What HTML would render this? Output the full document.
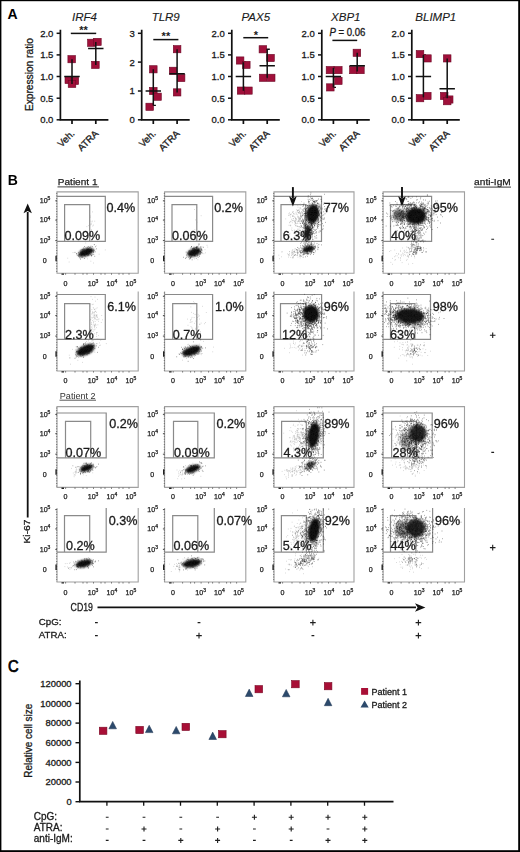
<!DOCTYPE html>
<html><head><meta charset="utf-8"><style>
html,body{margin:0;padding:0;background:#fff;}
body{width:520px;height:852px;overflow:hidden;}
svg{display:block;font-family:"Liberation Sans", sans-serif;}
</style></head><body>
<svg width="520" height="852" viewBox="0 0 520 852">
<rect width="520" height="852" fill="#fff"/>
<text x="7.6" y="18.8" font-size="14" font-weight="bold" fill="#000">A</text>
<text x="84.4" y="20.8" font-size="11.5" font-style="italic" text-anchor="middle" fill="#1a1a1a" stroke="#1a1a1a" stroke-width="0.12">IRF4</text>
<path d="M69.4 83.9h5.2M69.4 59.2h5.2" stroke="#111" stroke-width="1.4" fill="none"/>
<path d="M93.2 64.9h5.2M93.2 41.9h5.2" stroke="#111" stroke-width="1.4" fill="none"/>
<rect x="67.9" y="55.6" width="7.6" height="7.2" fill="#a0103a" stroke="#6d0725" stroke-width=".6"/>
<rect x="65.0" y="76.4" width="7.6" height="7.2" fill="#a0103a" stroke="#6d0725" stroke-width=".6"/>
<rect x="71.0" y="77.3" width="7.6" height="7.2" fill="#a0103a" stroke="#6d0725" stroke-width=".6"/>
<rect x="68.2" y="80.3" width="7.6" height="7.2" fill="#a0103a" stroke="#6d0725" stroke-width=".6"/>
<rect x="87.6" y="39.2" width="7.6" height="7.2" fill="#a0103a" stroke="#6d0725" stroke-width=".6"/>
<rect x="93.6" y="38.3" width="7.6" height="7.2" fill="#a0103a" stroke="#6d0725" stroke-width=".6"/>
<rect x="91.6" y="61.3" width="7.6" height="7.2" fill="#a0103a" stroke="#6d0725" stroke-width=".6"/>
<path d="M72.0 83.9V59.2M64.3 76.5h15.4" stroke="#111" stroke-width="1.5" fill="none"/>
<path d="M95.8 64.9V41.9M88.1 48.4h15.4" stroke="#111" stroke-width="1.5" fill="none"/>
<path d="M60.4 29.7V119.8H108.4M72.0 119.8v4.2M95.8 119.8v4.2" stroke="#111" stroke-width="1.7" fill="none"/>
<path d="M56.6 119.8h3.8" stroke="#111" stroke-width="1.5"/>
<text x="53.4" y="123.2" font-size="9.5" text-anchor="end" fill="#1a1a1a" stroke="#1a1a1a" stroke-width="0.3">0.0</text>
<path d="M56.6 98.2h3.8" stroke="#111" stroke-width="1.5"/>
<text x="53.4" y="101.6" font-size="9.5" text-anchor="end" fill="#1a1a1a" stroke="#1a1a1a" stroke-width="0.3">0.5</text>
<path d="M56.6 76.5h3.8" stroke="#111" stroke-width="1.5"/>
<text x="53.4" y="80.0" font-size="9.5" text-anchor="end" fill="#1a1a1a" stroke="#1a1a1a" stroke-width="0.3">1.0</text>
<path d="M56.6 54.9h3.8" stroke="#111" stroke-width="1.5"/>
<text x="53.4" y="58.3" font-size="9.5" text-anchor="end" fill="#1a1a1a" stroke="#1a1a1a" stroke-width="0.3">1.5</text>
<path d="M56.6 33.3h3.8" stroke="#111" stroke-width="1.5"/>
<text x="53.4" y="36.7" font-size="9.5" text-anchor="end" fill="#1a1a1a" stroke="#1a1a1a" stroke-width="0.3">2.0</text>
<text transform="translate(75.2 134.2) rotate(-45)" font-size="9.6" text-anchor="end" fill="#1a1a1a" stroke="#1a1a1a" stroke-width="0.3">Veh.</text>
<text transform="translate(99.0 134.2) rotate(-45)" font-size="9.6" text-anchor="end" fill="#1a1a1a" stroke="#1a1a1a" stroke-width="0.3">ATRA</text>
<path d="M70.8 33.4H96.2" stroke="#111" stroke-width="1.5"/>
<text x="83.5" y="34.2" font-size="11" font-weight="bold" text-anchor="middle" fill="#1a1a1a">**</text>
<text x="165.7" y="20.8" font-size="11.5" font-style="italic" text-anchor="middle" fill="#1a1a1a" stroke="#1a1a1a" stroke-width="0.12">TLR9</text>
<path d="M150.7 105.4h5.2M150.7 69.3h5.2" stroke="#111" stroke-width="1.4" fill="none"/>
<path d="M174.5 92.4h5.2M174.5 49.2h5.2" stroke="#111" stroke-width="1.4" fill="none"/>
<rect x="149.5" y="65.7" width="7.6" height="7.2" fill="#a0103a" stroke="#6d0725" stroke-width=".6"/>
<rect x="149.5" y="87.4" width="7.6" height="7.2" fill="#a0103a" stroke="#6d0725" stroke-width=".6"/>
<rect x="153.7" y="93.1" width="7.6" height="7.2" fill="#a0103a" stroke="#6d0725" stroke-width=".6"/>
<rect x="145.9" y="103.2" width="7.6" height="7.2" fill="#a0103a" stroke="#6d0725" stroke-width=".6"/>
<rect x="173.3" y="45.6" width="7.6" height="7.2" fill="#a0103a" stroke="#6d0725" stroke-width=".6"/>
<rect x="169.3" y="67.2" width="7.6" height="7.2" fill="#a0103a" stroke="#6d0725" stroke-width=".6"/>
<rect x="177.3" y="74.4" width="7.6" height="7.2" fill="#a0103a" stroke="#6d0725" stroke-width=".6"/>
<rect x="173.3" y="88.8" width="7.6" height="7.2" fill="#a0103a" stroke="#6d0725" stroke-width=".6"/>
<path d="M153.3 105.4V69.3M145.6 91.0h15.4" stroke="#111" stroke-width="1.5" fill="none"/>
<path d="M177.1 92.4V49.2M169.4 73.7h15.4" stroke="#111" stroke-width="1.5" fill="none"/>
<path d="M141.7 29.7V119.8H189.7M153.3 119.8v4.2M177.1 119.8v4.2" stroke="#111" stroke-width="1.7" fill="none"/>
<path d="M137.9 119.8h3.8" stroke="#111" stroke-width="1.5"/>
<text x="134.7" y="123.2" font-size="9.5" text-anchor="end" fill="#1a1a1a" stroke="#1a1a1a" stroke-width="0.3">0</text>
<path d="M137.9 91.0h3.8" stroke="#111" stroke-width="1.5"/>
<text x="134.7" y="94.4" font-size="9.5" text-anchor="end" fill="#1a1a1a" stroke="#1a1a1a" stroke-width="0.3">1</text>
<path d="M137.9 62.1h3.8" stroke="#111" stroke-width="1.5"/>
<text x="134.7" y="65.5" font-size="9.5" text-anchor="end" fill="#1a1a1a" stroke="#1a1a1a" stroke-width="0.3">2</text>
<path d="M137.9 33.3h3.8" stroke="#111" stroke-width="1.5"/>
<text x="134.7" y="36.7" font-size="9.5" text-anchor="end" fill="#1a1a1a" stroke="#1a1a1a" stroke-width="0.3">3</text>
<text transform="translate(156.5 134.2) rotate(-45)" font-size="9.6" text-anchor="end" fill="#1a1a1a" stroke="#1a1a1a" stroke-width="0.3">Veh.</text>
<text transform="translate(180.3 134.2) rotate(-45)" font-size="9.6" text-anchor="end" fill="#1a1a1a" stroke="#1a1a1a" stroke-width="0.3">ATRA</text>
<path d="M153.3 39.6H178.4" stroke="#111" stroke-width="1.5"/>
<text x="165.9" y="40.4" font-size="11" font-weight="bold" text-anchor="middle" fill="#1a1a1a">**</text>
<text x="255.8" y="20.8" font-size="11.5" font-style="italic" text-anchor="middle" fill="#1a1a1a" stroke="#1a1a1a" stroke-width="0.12">PAX5</text>
<path d="M240.8 90.8h5.2M240.8 62.3h5.2" stroke="#111" stroke-width="1.4" fill="none"/>
<path d="M264.6 77.8h5.2M264.6 49.3h5.2" stroke="#111" stroke-width="1.4" fill="none"/>
<rect x="236.3" y="56.9" width="7.6" height="7.2" fill="#a0103a" stroke="#6d0725" stroke-width=".6"/>
<rect x="242.5" y="61.3" width="7.6" height="7.2" fill="#a0103a" stroke="#6d0725" stroke-width=".6"/>
<rect x="237.3" y="87.0" width="7.6" height="7.2" fill="#a0103a" stroke="#6d0725" stroke-width=".6"/>
<rect x="244.6" y="87.0" width="7.6" height="7.2" fill="#a0103a" stroke="#6d0725" stroke-width=".6"/>
<rect x="259.1" y="45.7" width="7.6" height="7.2" fill="#a0103a" stroke="#6d0725" stroke-width=".6"/>
<rect x="266.7" y="54.4" width="7.6" height="7.2" fill="#a0103a" stroke="#6d0725" stroke-width=".6"/>
<rect x="259.4" y="74.2" width="7.6" height="7.2" fill="#a0103a" stroke="#6d0725" stroke-width=".6"/>
<rect x="267.4" y="74.2" width="7.6" height="7.2" fill="#a0103a" stroke="#6d0725" stroke-width=".6"/>
<path d="M243.4 90.8V62.3M235.7 76.5h15.4" stroke="#111" stroke-width="1.5" fill="none"/>
<path d="M267.2 77.8V49.3M259.5 65.7h15.4" stroke="#111" stroke-width="1.5" fill="none"/>
<path d="M231.8 29.7V119.8H279.8M243.4 119.8v4.2M267.2 119.8v4.2" stroke="#111" stroke-width="1.7" fill="none"/>
<path d="M228.0 119.8h3.8" stroke="#111" stroke-width="1.5"/>
<text x="224.8" y="123.2" font-size="9.5" text-anchor="end" fill="#1a1a1a" stroke="#1a1a1a" stroke-width="0.3">0.0</text>
<path d="M228.0 98.2h3.8" stroke="#111" stroke-width="1.5"/>
<text x="224.8" y="101.6" font-size="9.5" text-anchor="end" fill="#1a1a1a" stroke="#1a1a1a" stroke-width="0.3">0.5</text>
<path d="M228.0 76.5h3.8" stroke="#111" stroke-width="1.5"/>
<text x="224.8" y="80.0" font-size="9.5" text-anchor="end" fill="#1a1a1a" stroke="#1a1a1a" stroke-width="0.3">1.0</text>
<path d="M228.0 54.9h3.8" stroke="#111" stroke-width="1.5"/>
<text x="224.8" y="58.3" font-size="9.5" text-anchor="end" fill="#1a1a1a" stroke="#1a1a1a" stroke-width="0.3">1.5</text>
<path d="M228.0 33.3h3.8" stroke="#111" stroke-width="1.5"/>
<text x="224.8" y="36.7" font-size="9.5" text-anchor="end" fill="#1a1a1a" stroke="#1a1a1a" stroke-width="0.3">2.0</text>
<text transform="translate(246.6 134.2) rotate(-45)" font-size="9.6" text-anchor="end" fill="#1a1a1a" stroke="#1a1a1a" stroke-width="0.3">Veh.</text>
<text transform="translate(270.4 134.2) rotate(-45)" font-size="9.6" text-anchor="end" fill="#1a1a1a" stroke="#1a1a1a" stroke-width="0.3">ATRA</text>
<path d="M243.3 37.7H268.2" stroke="#111" stroke-width="1.5"/>
<text x="255.8" y="38.5" font-size="11" font-weight="bold" text-anchor="middle" fill="#1a1a1a">*</text>
<text x="345.8" y="20.8" font-size="11.5" font-style="italic" text-anchor="middle" fill="#1a1a1a" stroke="#1a1a1a" stroke-width="0.12">XBP1</text>
<path d="M330.8 87.4h5.2M330.8 67.9h5.2" stroke="#111" stroke-width="1.4" fill="none"/>
<path d="M354.6 71.4h5.2M354.6 52.8h5.2" stroke="#111" stroke-width="1.4" fill="none"/>
<rect x="326.2" y="66.5" width="7.6" height="7.2" fill="#a0103a" stroke="#6d0725" stroke-width=".6"/>
<rect x="334.5" y="66.5" width="7.6" height="7.2" fill="#a0103a" stroke="#6d0725" stroke-width=".6"/>
<rect x="334.5" y="77.3" width="7.6" height="7.2" fill="#a0103a" stroke="#6d0725" stroke-width=".6"/>
<rect x="326.5" y="83.8" width="7.6" height="7.2" fill="#a0103a" stroke="#6d0725" stroke-width=".6"/>
<rect x="353.1" y="49.2" width="7.6" height="7.2" fill="#a0103a" stroke="#6d0725" stroke-width=".6"/>
<rect x="349.6" y="66.5" width="7.6" height="7.2" fill="#a0103a" stroke="#6d0725" stroke-width=".6"/>
<rect x="356.6" y="66.5" width="7.6" height="7.2" fill="#a0103a" stroke="#6d0725" stroke-width=".6"/>
<path d="M333.4 87.4V67.9M325.7 76.5h15.4" stroke="#111" stroke-width="1.5" fill="none"/>
<path d="M357.2 71.4V52.8M349.5 65.7h15.4" stroke="#111" stroke-width="1.5" fill="none"/>
<path d="M321.8 29.7V119.8H369.8M333.4 119.8v4.2M357.2 119.8v4.2" stroke="#111" stroke-width="1.7" fill="none"/>
<path d="M318.0 119.8h3.8" stroke="#111" stroke-width="1.5"/>
<text x="314.8" y="123.2" font-size="9.5" text-anchor="end" fill="#1a1a1a" stroke="#1a1a1a" stroke-width="0.3">0.0</text>
<path d="M318.0 98.2h3.8" stroke="#111" stroke-width="1.5"/>
<text x="314.8" y="101.6" font-size="9.5" text-anchor="end" fill="#1a1a1a" stroke="#1a1a1a" stroke-width="0.3">0.5</text>
<path d="M318.0 76.5h3.8" stroke="#111" stroke-width="1.5"/>
<text x="314.8" y="80.0" font-size="9.5" text-anchor="end" fill="#1a1a1a" stroke="#1a1a1a" stroke-width="0.3">1.0</text>
<path d="M318.0 54.9h3.8" stroke="#111" stroke-width="1.5"/>
<text x="314.8" y="58.3" font-size="9.5" text-anchor="end" fill="#1a1a1a" stroke="#1a1a1a" stroke-width="0.3">1.5</text>
<path d="M318.0 33.3h3.8" stroke="#111" stroke-width="1.5"/>
<text x="314.8" y="36.7" font-size="9.5" text-anchor="end" fill="#1a1a1a" stroke="#1a1a1a" stroke-width="0.3">2.0</text>
<text transform="translate(336.6 134.2) rotate(-45)" font-size="9.6" text-anchor="end" fill="#1a1a1a" stroke="#1a1a1a" stroke-width="0.3">Veh.</text>
<text transform="translate(360.4 134.2) rotate(-45)" font-size="9.6" text-anchor="end" fill="#1a1a1a" stroke="#1a1a1a" stroke-width="0.3">ATRA</text>
<path d="M332.4 40.4H357.2" stroke="#111" stroke-width="1.5"/>
<text x="347.4" y="35.8" font-size="10" text-anchor="middle" fill="#1a1a1a" stroke="#1a1a1a" stroke-width="0.3" textLength="36" lengthAdjust="spacingAndGlyphs"><tspan font-style="italic">P</tspan> = 0.06</text>
<text x="435.8" y="20.8" font-size="11.5" font-style="italic" text-anchor="middle" fill="#1a1a1a" stroke="#1a1a1a" stroke-width="0.12">BLIMP1</text>
<path d="M420.8 97.3h5.2M420.8 54.9h5.2" stroke="#111" stroke-width="1.4" fill="none"/>
<path d="M444.6 98.2h5.2M444.6 58.4h5.2" stroke="#111" stroke-width="1.4" fill="none"/>
<rect x="416.2" y="50.5" width="7.6" height="7.2" fill="#a0103a" stroke="#6d0725" stroke-width=".6"/>
<rect x="423.6" y="54.8" width="7.6" height="7.2" fill="#a0103a" stroke="#6d0725" stroke-width=".6"/>
<rect x="416.2" y="94.6" width="7.6" height="7.2" fill="#a0103a" stroke="#6d0725" stroke-width=".6"/>
<rect x="423.5" y="92.4" width="7.6" height="7.2" fill="#a0103a" stroke="#6d0725" stroke-width=".6"/>
<rect x="443.4" y="54.8" width="7.6" height="7.2" fill="#a0103a" stroke="#6d0725" stroke-width=".6"/>
<rect x="440.4" y="92.4" width="7.6" height="7.2" fill="#a0103a" stroke="#6d0725" stroke-width=".6"/>
<rect x="445.4" y="95.9" width="7.6" height="7.2" fill="#a0103a" stroke="#6d0725" stroke-width=".6"/>
<rect x="443.4" y="97.6" width="7.6" height="7.2" fill="#a0103a" stroke="#6d0725" stroke-width=".6"/>
<path d="M423.4 97.3V54.9M415.7 76.5h15.4" stroke="#111" stroke-width="1.5" fill="none"/>
<path d="M447.2 98.2V58.4M439.5 88.7h15.4" stroke="#111" stroke-width="1.5" fill="none"/>
<path d="M411.8 29.7V119.8H459.8M423.4 119.8v4.2M447.2 119.8v4.2" stroke="#111" stroke-width="1.7" fill="none"/>
<path d="M408.0 119.8h3.8" stroke="#111" stroke-width="1.5"/>
<text x="404.8" y="123.2" font-size="9.5" text-anchor="end" fill="#1a1a1a" stroke="#1a1a1a" stroke-width="0.3">0.0</text>
<path d="M408.0 98.2h3.8" stroke="#111" stroke-width="1.5"/>
<text x="404.8" y="101.6" font-size="9.5" text-anchor="end" fill="#1a1a1a" stroke="#1a1a1a" stroke-width="0.3">0.5</text>
<path d="M408.0 76.5h3.8" stroke="#111" stroke-width="1.5"/>
<text x="404.8" y="80.0" font-size="9.5" text-anchor="end" fill="#1a1a1a" stroke="#1a1a1a" stroke-width="0.3">1.0</text>
<path d="M408.0 54.9h3.8" stroke="#111" stroke-width="1.5"/>
<text x="404.8" y="58.3" font-size="9.5" text-anchor="end" fill="#1a1a1a" stroke="#1a1a1a" stroke-width="0.3">1.5</text>
<path d="M408.0 33.3h3.8" stroke="#111" stroke-width="1.5"/>
<text x="404.8" y="36.7" font-size="9.5" text-anchor="end" fill="#1a1a1a" stroke="#1a1a1a" stroke-width="0.3">2.0</text>
<text transform="translate(426.6 134.2) rotate(-45)" font-size="9.6" text-anchor="end" fill="#1a1a1a" stroke="#1a1a1a" stroke-width="0.3">Veh.</text>
<text transform="translate(450.4 134.2) rotate(-45)" font-size="9.6" text-anchor="end" fill="#1a1a1a" stroke="#1a1a1a" stroke-width="0.3">ATRA</text>
<text transform="translate(32.6 74.6) rotate(-90)" font-size="10" text-anchor="middle" textLength="73" lengthAdjust="spacingAndGlyphs" fill="#1a1a1a" stroke="#1a1a1a" stroke-width="0.3">Expression ratio</text>
<defs><filter id="bl" x="-5%" y="-5%" width="110%" height="110%"><feGaussianBlur stdDeviation="0.35"/></filter><filter id="bc" x="-50%" y="-50%" width="200%" height="200%"><feGaussianBlur stdDeviation="0.8"/></filter></defs>
<path d="M57.0 273.2V191.9H138.2V273.2H57.0Z" stroke="#a0a0a0" stroke-width="1.1" fill="none"/>
<path d="M57.0 196.4H105.3V241.4H57.0" stroke="#8a8a8a" stroke-width="1.2" fill="none"/>
<path d="M64.6 241.4V204.7H89.7V241.4" stroke="#8a8a8a" stroke-width="1.2" fill="none"/>
<path d="M164.6 273.2V191.9H245.8V273.2H164.6Z" stroke="#a0a0a0" stroke-width="1.1" fill="none"/>
<path d="M164.6 196.4H212.6V241.4H164.6" stroke="#8a8a8a" stroke-width="1.2" fill="none"/>
<path d="M172.0 241.4V204.7H196.8V241.4" stroke="#8a8a8a" stroke-width="1.2" fill="none"/>
<path d="M274.0 273.2V191.9H354.0V273.2H274.0Z" stroke="#a0a0a0" stroke-width="1.1" fill="none"/>
<path d="M274.0 196.4H321.5V241.4H274.0" stroke="#8a8a8a" stroke-width="1.2" fill="none"/>
<path d="M281.0 241.4V204.7H305.7V241.4" stroke="#8a8a8a" stroke-width="1.2" fill="none"/>
<path d="M383.1 273.2V191.9H464.5V273.2H383.1Z" stroke="#a0a0a0" stroke-width="1.1" fill="none"/>
<path d="M383.1 196.4H431.6V241.4H383.1" stroke="#8a8a8a" stroke-width="1.2" fill="none"/>
<path d="M390.5 241.4V204.7H414.7V241.4" stroke="#8a8a8a" stroke-width="1.2" fill="none"/>
<path d="M57.0 291.5V371.0H138.2V291.5" stroke="#a0a0a0" stroke-width="1.1" fill="none"/>
<path d="M57.0 294.5H105.3V339.4H57.0" stroke="#8a8a8a" stroke-width="1.2" fill="none"/>
<path d="M64.6 339.4V303.6H89.8V339.4" stroke="#8a8a8a" stroke-width="1.2" fill="none"/>
<path d="M164.6 291.5V371.0H245.8V291.5" stroke="#a0a0a0" stroke-width="1.1" fill="none"/>
<path d="M164.6 294.5H212.6V339.4H164.6" stroke="#8a8a8a" stroke-width="1.2" fill="none"/>
<path d="M172.7 339.4V303.6H196.8V339.4" stroke="#8a8a8a" stroke-width="1.2" fill="none"/>
<path d="M274.0 291.5V371.0H354.0V291.5" stroke="#a0a0a0" stroke-width="1.1" fill="none"/>
<path d="M274.0 294.5H321.6V339.4H274.0" stroke="#8a8a8a" stroke-width="1.2" fill="none"/>
<path d="M280.5 339.4V303.6H305.7V339.4" stroke="#8a8a8a" stroke-width="1.2" fill="none"/>
<path d="M383.1 291.5V371.0H464.5V291.5" stroke="#a0a0a0" stroke-width="1.1" fill="none"/>
<path d="M383.1 294.5H430.5V339.4H383.1" stroke="#8a8a8a" stroke-width="1.2" fill="none"/>
<path d="M390.5 339.4V303.6H414.9V339.4" stroke="#8a8a8a" stroke-width="1.2" fill="none"/>
<path d="M57.0 487.4V406.6H138.2V487.4H57.0Z" stroke="#a0a0a0" stroke-width="1.1" fill="none"/>
<path d="M57.0 413.0H106.2V457.8H57.0" stroke="#8a8a8a" stroke-width="1.2" fill="none"/>
<path d="M65.5 457.8V421.4H90.7V457.8" stroke="#8a8a8a" stroke-width="1.2" fill="none"/>
<path d="M164.6 487.4V406.6H245.8V487.4H164.6Z" stroke="#a0a0a0" stroke-width="1.1" fill="none"/>
<path d="M164.6 413.0H214.3V457.8H164.6" stroke="#8a8a8a" stroke-width="1.2" fill="none"/>
<path d="M173.5 457.8V421.4H197.8V457.8" stroke="#8a8a8a" stroke-width="1.2" fill="none"/>
<path d="M274.0 487.4V406.6H354.0V487.4H274.0Z" stroke="#a0a0a0" stroke-width="1.1" fill="none"/>
<path d="M274.0 413.0H323.3V457.8H274.0" stroke="#8a8a8a" stroke-width="1.2" fill="none"/>
<path d="M281.6 457.8V421.4H306.3V457.8" stroke="#8a8a8a" stroke-width="1.2" fill="none"/>
<path d="M383.1 487.4V406.6H464.5V487.4H383.1Z" stroke="#a0a0a0" stroke-width="1.1" fill="none"/>
<path d="M383.1 413.0H432.2V457.8H383.1" stroke="#8a8a8a" stroke-width="1.2" fill="none"/>
<path d="M391.6 457.8V421.4H416.3V457.8" stroke="#8a8a8a" stroke-width="1.2" fill="none"/>
<path d="M57.0 508.0V582.0H138.2V508.0" stroke="#a0a0a0" stroke-width="1.1" fill="none"/>
<path d="M106.2 508.0V552.1H57.0" stroke="#8a8a8a" stroke-width="1.2" fill="none"/>
<path d="M64.5 552.1V515.6H89.7V552.1" stroke="#8a8a8a" stroke-width="1.2" fill="none"/>
<path d="M164.6 508.0V582.0H245.8V508.0" stroke="#a0a0a0" stroke-width="1.1" fill="none"/>
<path d="M214.3 508.0V552.1H164.6" stroke="#8a8a8a" stroke-width="1.2" fill="none"/>
<path d="M172.7 552.1V515.6H197.8V552.1" stroke="#8a8a8a" stroke-width="1.2" fill="none"/>
<path d="M274.0 508.0V582.0H354.0V508.0" stroke="#a0a0a0" stroke-width="1.1" fill="none"/>
<path d="M323.3 508.0V552.1H274.0" stroke="#8a8a8a" stroke-width="1.2" fill="none"/>
<path d="M281.4 552.1V515.6H306.3V552.1" stroke="#8a8a8a" stroke-width="1.2" fill="none"/>
<path d="M383.1 508.0V582.0H464.5V508.0" stroke="#a0a0a0" stroke-width="1.1" fill="none"/>
<path d="M432.6 508.0V552.1H383.1" stroke="#8a8a8a" stroke-width="1.2" fill="none"/>
<path d="M390.5 552.1V515.6H415.9V552.1" stroke="#8a8a8a" stroke-width="1.2" fill="none"/>
<g filter="url(#bl)"><path transform="scale(.1)" d="M0 0m856 2479h6m68 151h6m-156-68h6m56-28h6m-121-8h6m157-18h6m63-50h6m-59 154h6m-113-103h6m52 10h6m54-15h6m-110 41h6m230-46h6m-380 83h6m129-21h6m56 27h6m54-61h6m-66-13h6m20 40h6m-13-58h6m49 0h6m-107 0h6m-36 17h6m-133 107h6m201-121h6m33 10h6m-85-79h6m-10 113h6m131-1h6m-54-94h6m-80-182h6m39 31h6m-10-59h6m-33 18h6m15-8h6m12-37h6m-9 8h6m3 41h6m-32-87h6m40 39h6m-21 39h6m-37-91h6m7 81h6m4-122h6m-30 93h6m1143 284h6m-99 32h6m-14 21h6m41-62h6m-23 110h6m-16-93h6m103-33h6m-205 97h6m-7-43h6m79-17h6m-83 12h6m26 53h6m-35-55h6m175-65h6m-19 75h6m-147-51h6m59 54h6m21-32h6m25 38h6m-154 55h6m51-95h6m-9 92h6m35-151h6m-45 75h6m-28-6h6m-73 76h6m13-53h6m12-20h6m95 5h6m-115-10h6m56-208h6m12-58h6m-20-40h6m10-126h6m36 84h6m-71 170h6m18-104h6m-30-128h6m17 221h6m-39 13h6m995-195h6m2 83h6m39-44h6m19-51h6m-48 27h6m-54 157h6m29-183h6m13 1h6m22 151h6m16-156h6m-66 238h6m-9-48h6m83-216h6m-22 175h6m-23 76h6m-28-132h6m2-34h6m-12-137h6m57 122h6m-67 69h6m-28-17h6m-8-143h6m-37 232h6m-31-184h6m155 185h6m-34-100h6m-73 63h6m9-69h6m-109-53h6m-9 188h6m51-144h6m29 16h6m6-52h6m-111 193h6m35-182h6m-10-6h6m35 106h6m-60-38h6m13 74h6m-35-90h6m93-119h6m-37 123h6m-52-30h6m85 37h6m-78-37h6m38 120h6m12-44h6m32-184h6m-158-59h6m109-2h6m-50 246h6m-75-114h6m51 112h6m-69-33h6m106-15h6m-34 89h6m-2-102h6m-34 54h6m-4 0h6m13 38h6m-50-85h6m51 28h6m33-2h6m-17 126h6m-9-243h6m-120 139h6m46-30h6m5 81h6m62-195h6m-52 66h6m-85 76h6m52-16h6m125 71h6m-75-139h6m-120 132h6m38-96h6m-10 4h6m134-33h6m-141 41h6m22-112h6m-109 49h6m72-16h6m-45-13h6m24 65h6m-68-34h6m93 33h6m-92-18h6m61 90h6m-87-7h6m53-39h6m51-86h6m-81 61h6m71-35h6m-113-12h6m83 148h6m-50-119h6m10 15h6m-44-25h6m52 44h6m-16-89h6m-35 24h6m74 172h6m-41 12h6m-38-150h6m-56 41h6m36-11h6m41-26h6m-86 15h6m47 6h6m31-19h6m-53 155h6m61-145h6m-106-28h6m59 103h6m95-86h6m-118-9h6m-9-2h6m-63 112h6m54 21h6m-37-81h6m51-169h6m-103 208h6m64-204h6m-47 62h6m6 206h6m-10 38h6m10-218h6m84 133h6m-15 79h6m-22-57h6m-143-161h6m101 81h6m8-53h6m14 197h6m-32-93h6m-10 8h6m-20-113h6m-7 48h6m-91 10h6m71-2h6m-35 22h6m52-94h6m-21 117h6m15-134h6m-93 74h6m-8 195h6m5-261h6m66 25h6m-154 25h6m61-30h6m-38-31h6m65 65h6m-53-52h6m6 67h6m29-110h6m33 43h6m-19-17h6m-11 62h6m-18 49h6m13-26h6m-24 293h6m33 1h6m47 47h6m-132-1h6m3-43h6m51 23h6m-15 18h6m27-6h6m-99-8h6m23-10h6m-35 55h6m36-7h6m-88-34h6m12-12h6m4 5h6m-6 48h6m48-73h6m-71 49h6m52-45h6m13-24h6m-74 92h6m-140-25h6m205-36h6m-113 0h6m-84 3h6m123-4h6m-8 11h6m4-39h6m-35 38h6m-8-13h6m-110 56h6m178 11h6m-14-17h6m-23-47h6m-15-19h6m-16 29h6m-77 46h6m118-41h6m-18 32h6m-75-64h6m-45 59h6m54-66h6m65 31h6m16 19h6m-131-4h6m-27-20h6m25 28h6m86-51h6m-41 30h6m-55 36h6m-13 8h6m-14-57h6m56-24h6m-115 51h6m64-14h6m-127-6h6m148 20h6m-96 9h6m68 6h6m-59 21h6m19-5h6m56-73h6m-73 45h6m65-55h6m-86 65h6m44-51h6m-81 50h6m-14-3h6m107-26h6m-212 66h6m220-34h6m-37-73h6m36 44h6m-36-7h6m-76 10h6m104-6h6m-118-20h6m39 25h6m-20 27h6m23-30h6m1116-38h6m-3 77h6m-47 3h6m86-21h6m-71 0h6m-160 23h6m197 12h6m-69-3h6m-49-73h6m50 41h6m-137-9h6m79-16h6m21-46h6m31 19h6m-59-22h6m68 49h6m68-107h6m-308 212h6m191-179h6m1 114h6m57-57h6m-285 13h6m336-24h6m-111 7h6m-108 41h6m-67 19h6m-22 1h6m189-52h6m-135 119h6m140-125h6m-248 142h6m228-166h6m0-12h6m-145 66h6m37-2h6m97-46h6m-84 45h6m-35-27h6m0 93h6m32-124h6m-108 45h6m-28 23h6m-34 58h6m171-78h6m-123 43h6m-18 42h6m206-236h6m-134 163h6m-27-6h6m-148 60h6m87-37h6m19-24h6m183-101h6m-235 82h6m53 100h6m-29-94h6m-97 92h6m48-16h6m-21-44h6m33-62h6m108-20h6m-74 92h6m182-67h6m-148 10h6m-83 49h6m83-74h6m-9 165h6m-186-135h6m55 51h6m188-44h6m-67-29h6m-92 74h6m-75 25h6m42-20h6m-132-51h6m257-6h6m-94 141h6m59-115h6m-149 49h6m62-51h6m-3208 948h6m23 30h6m-140 59h6m112-88h6m56-12h6m-139 105h6m159-179h6m-117 151h6m52-20h6m-2-140h6m-53 30h6m-128 84h6m98-77h6m-34 20h6m165-32h6m-180 50h6m-5 122h6m14-131h6m-48 69h6m178-84h6m-91 97h6m144-90h6m-316 64h6m245-48h6m-317 100h6m115-49h6m103 0h6m2-130h6m-59 108h6m-96 93h6m-70-80h6m267-39h6m-53 67h6m-176 82h6m91-86h6m54-23h6m-116 19h6m59 23h6m-192 105h6m113-18h6m120-228h6m-24-2h6m11-132h6m-5-291h6m-55 87h6m33 140h6m13 58h6m4-106h6m-28 20h6m-44-127h6m21 84h6m-17-4h6m-21 379h6m23-415h6m-12 134h6m-38 104h6m7-54h6m6-135h6m86 19h6m-125 9h6m7 161h6m30-229h6m27 96h6m-83 133h6m43-212h6m-51 86h6m6 71h6m18-175h6m-41 95h6m55-40h6m-24 0h6m-10 7h6m-7-33h6m-35 286h6m36-323h6m0 110h6m-1-119h6m-43 92h6m-21-74h6m61 117h6m-64-167h6m31 282h6m-39-253h6m13 140h6m-57 211h6m49-312h6m-45 181h6m45-19h6m-23-97h6m34 11h6m-53 67h6m-18 41h6m40-304h6m-50 353h6m35-174h6m-25 67h6m-19-83h6m16 185h6m9-94h6m-43 88h6m75-138h6m-93 203h6m-32-435h6m48 398h6m2-39h6m-11-172h6m-8-30h6m-72 78h6m1-90h6m10 69h6m14-61h6m-25 87h6m13 64h6m10-25h6m-14 45h6m-18-50h6m-29 5h6m42-90h6m3 15h6m-12 222h6m-28-210h6m0 0h6m-41 145h6m-31-14h6m23 3h6m1 91h6m-6-413h6m80 231h6m-83-5h6m-11 31h6m-17 191h6m-4-155h6m45-89h6m-18-32h6m-53-26h6m47 187h6m-57-3h6m-6-85h6m35-227h6m-8 178h6m-60 99h6m39-33h6m-20-105h6m-33 45h6m1-22h6m31 125h6m-6-52h6m-23 67h6m30-146h6m-46-49h6m-3 55h6m51 182h6m-90-59h6m22-255h6m7 107h6m-5 122h6m-30 98h6m14-231h6m-51 305h6m15-219h6m910 249h6m107 94h6m60-20h6m-126-23h6m-36 35h6m26-76h6m-1 63h6m105-29h6m117-46h6m-276 114h6m-33-94h6m135-27h6m-65 25h6m-41-46h6m132 92h6m-102 36h6m87-36h6m9-121h6m-45 66h6m-13-3h6m135 41h6m-200 12h6m11-15h6m35-74h6m-173 161h6m120-121h6m-109-12h6m24-22h6m60 72h6m-64 55h6m103-331h6m-81-69h6m-17-105h6m42 214h6m-83-30h6m57-20h6m42 64h6m-76-14h6m7-266h6m116 208h6m-124 105h6m33-154h6m-18 72h6m-27-218h6m11 115h6m-66 80h6m155-100h6m-99-23h6m-102 89h6m121 52h6m-38 76h6m4-146h6m-79 23h6m60-2h6m-36-19h6m-34-51h6m-6 240h6m88-32h6m-54-121h6m29-21h6m11 41h6m-24-73h6m46 79h6m-64-76h6m-74 116h6m-54 44h6m47-23h6m-9-81h6m31 77h6m-54-29h6m52 18h6m-63-62h6m-1-31h6m85 126h6m-106-108h6m37-64h6m-22-10h6m41 10h6m37-81h6m-48 206h6m998 233h6m8-20h6m-109 45h6m109-68h6m-81-48h6m80-96h6m44 101h6m-130 31h6m156 7h6m-55-59h6m-108 86h6m-39-141h6m21 90h6m22 44h6m46-47h6m-11 13h6m-32-33h6m27 25h6m28-43h6m-12 10h6m-47 2h6m-87 73h6m-49 9h6m219-8h6m-226-3h6m82-19h6m-1 37h6m98-30h6m-23-32h6m53-18h6m-215 23h6m109 55h6m-149-30h6m113 93h6m-48-158h6m-88 48h6m125 17h6m-41-41h6m-4 33h6m149-5h6m-224-14h6m45-68h6m5 92h6m5-47h6m-31 51h6m60 1h6m-135 16h6m167-37h6m-256 44h6m215-33h6m1036 87h6m28-53h6m-94-61h6m7 137h6m16-88h6m29 170h6m-59-192h6m-96-55h6m146 122h6m-80 3h6m81-60h6m-29 84h6m-133-52h6m107-86h6m164 149h6m-43-130h6m-148 136h6m-37 47h6m-50-109h6m46-84h6m4 85h6m-67-25h6m141 70h6m-41-8h6m55-45h6m-152 14h6m57-39h6m0 50h6m54-65h6m7 39h6m-197 66h6m133-50h6m-126 38h6m1-100h6m63 105h6m2-44h6m-74 42h6m33-16h6m224-20h6m-284-86h6m-2 22h6m84 121h6m-25-84h6m38-28h6m-68 90h6m99-66h6m-121-6h6m42 104h6m-22-139h6m67 117h6m0-13h6m-116-97h6m61 39h6m-38 82h6m-145-156h6m19 52h6m91 52h6m-57 43h6m31-21h6m134 20h6m-146-61h6m52 46h6m-126-100h6m36 113h6m51-61h6m-124-66h6m123 15h6m37 11h6m-63 83h6m22-39h6m109-3h6m-130-13h6m37 80h6m7-48h6m-24-67h6m-102 87h6m-138-117h6m204 92h6m-76-21h6m121 35h6m-140-100h6m29 17h6m-29 20h6m100 2h6m-100 110h6m-165-100h6m40 109h6m141-86h6m-25 45h6m24-34h6m22 15h6m67-77h6m-172 96h6m78-66h6m30 76h6m23-63h6m-42 10h6m-67 44h6m-63-56h6m152-33h6m-3413 1218h6m-27 62h6m20 15h6m-87-24h6m50-51h6m20 43h6m21-92h6m-46 93h6m54-23h6m-81-14h6m80-4h6m0 5h6m-84-8h6m-93 57h6m69 12h6m-96-58h6m138-26h6m-142-1h6m24 74h6m82-100h6m-34 36h6m-55 61h6m22-17h6m42-4h6m-20 13h6m-69-39h6m-19 33h6m-1 4h6m41 28h6m-54 4h6m100 6h6m-97-30h6m-8-28h6m53 25h6m52-56h6m-127 48h6m103-14h6m-28 16h6m-45 1h6m110-33h6m-168 15h6m23 13h6m29-66h6m-77 54h6m-35-43h6m4 92h6m-6 17h6m61-63h6m114 24h6m-190 20h6m1131-38h6m-27 1h6m-75 40h6m147-101h6m-145 79h6m-12-26h6m35-27h6m-63 87h6m30-12h6m5-9h6m-4-69h6m61 25h6m-58 86h6m112-135h6m-109 51h6m-42 37h6m94-8h6m-124 15h6m115-113h6m-90 61h6m51-36h6m-43 49h6m-45 16h6m-62-21h6m46 47h6m122-66h6m-122-12h6m-51 67h6m136-55h6m-113 22h6m86 34h6m-55-38h6m8-10h6m-10 55h6m4-87h6m116 106h6m-231-44h6m128 18h6m-146 50h6m165-76h6m-102-55h6m17 28h6m9 8h6m-79 97h6m188-163h6m-138 49h6m24-3h6m-19 15h6m-6-40h6m-2 63h6m1096-306h6m14-44h6m-24 33h6m-1-75h6m10 8h6m-138 51h6m17 82h6m5-71h6m-25 24h6m133-58h6m-17 15h6m-110-10h6m8 70h6m55 87h6m-66-145h6m3-54h6m6 108h6m38 40h6m-50-96h6m-11-262h6m14 277h6m-31 11h6m67-113h6m-37 47h6m-31 36h6m-10 135h6m0-140h6m-50 150h6m64-127h6m-65-29h6m106-43h6m-124 181h6m-7-55h6m126-155h6m-137 201h6m98 59h6m-54-145h6m-69-37h6m44 45h6m-43-42h6m78 146h6m-24-61h6m36-224h6m11 156h6m-167 28h6m102-72h6m16 118h6m44-75h6m-110-36h6m-54 70h6m139-81h6m-141 61h6m0 29h6m14-81h6m-19 45h6m83-161h6m14 186h6m-26 43h6m-44-140h6m-72 132h6m58 102h6m-177-216h6m21 208h6m80-278h6m56 178h6m-93-117h6m41 179h6m-31-127h6m73 14h6m-68-2h6m71-8h6m-20-80h6m-65 28h6m54-38h6m-128 126h6m120 136h6m-131-275h6m127 155h6m-86-29h6m67 26h6m-139-51h6m84 93h6m42-80h6m-37-40h6m-71 49h6m-31-187h6m-4 215h6m61-56h6m60 38h6m-91 68h6m8-229h6m-34 86h6m34 35h6m5 10h6m-41-28h6m-2-5h6m-64-34h6m85-25h6m30 121h6m-75-157h6m-6 101h6m26 122h6m17-37h6m-11 85h6m-15-92h6m-63-42h6m45-144h6m56 125h6m-63-167h6m-31 87h6m-17-1h6m-51-45h6m100 77h6m-113-65h6m37 251h6m-3-201h6m-8 17h6m-11-5h6m69 237h6m-87-251h6m21 85h6m29-53h6m-59 44h6m-5 33h6m24 3h6m-110 8h6m85-197h6m-12 98h6m-15-38h6m35 147h6m4-13h6m-28 6h6m27-43h6m-23-98h6m-9 82h6m31 55h6m-118-6h6m14 57h6m16-102h6m-9-81h6m-1 72h6m-7 107h6m-63-96h6m115-6h6m-90 30h6m65-10h6m-8-88h6m3 57h6m-39 109h6m-64 75h6m34-192h6m59 94h6m20-56h6m-165 27h6m-29 36h6m78-256h6m-16 113h6m-84 0h6m39 82h6m-11 92h6m14 273h6m56-76h6m-22-10h6m-124 106h6m107-30h6m-63-43h6m-30 63h6m58-104h6m-97 46h6m-15 52h6m58-28h6m-1-63h6m-47 28h6m93 11h6m-89 49h6m160-107h6m-255 99h6m119-88h6m-103 50h6m113-1h6m-130 0h6m11 22h6m196-16h6m-95-46h6m9 7h6m-105 76h6m26-17h6m32-48h6m-21 37h6m-33-40h6m78-6h6m-128 33h6m101-8h6m34-56h6m-128 75h6m-6-42h6m-45 34h6m26 1h6m0-25h6m-73 81h6m175-82h6m-26 29h6m-26-36h6m-50 16h6m-114 7h6m111 3h6m9-2h6m-22 11h6m-86-7h6m199-25h6m-72-5h6m-63 65h6m3-24h6m25-24h6m-141 2h6m-11-2h6m-52 19h6m96 48h6m-25-36h6m31-17h6m-63 33h6m38 4h6m26-73h6m30-7h6m-138 122h6m127-62h6m-74-20h6m-40 6h6m7-31h6m111-16h6m-33 2h6m-51 18h6m-36 29h6m-10 2h6m3-24h6m17 19h6m42-20h6m-129 22h6m64-8h6m53 32h6m1029-287h6m1-69h6m-18-30h6m21 37h6m-5 60h6m5-7h6m-15-87h6m24 81h6m-45-3h6m67-52h6m-11 233h6m-82-228h6m-95 67h6m82-109h6m-45-63h6m63 34h6m-52 133h6m50-23h6m-71 23h6m-19-83h6m-51 56h6m28 30h6m91-65h6m-40 50h6m-31 87h6m0-35h6m-20 54h6m7-160h6m-14 47h6m35-51h6m44 50h6m-40-65h6m-34 28h6m26 2h6m-82 33h6m20-8h6m-4 59h6m45 62h6m-47-155h6m73 40h6m-48 10h6m-45-93h6m-130 66h6m105-20h6m-2 37h6m-19 24h6m-3-99h6m15 81h6m-56-123h6m36 141h6m50-60h6m-29 104h6m-71 14h6m114-110h6m-53-7h6m-29-210h6m-59 357h6m76-46h6m117-80h6m-223-249h6m-12 164h6m129 83h6m-154 24h6m78-3h6m44-5h6m-70 48h6m-55-28h6m23 58h6m45-224h6m2 169h6m-49-114h6m78 48h6m-76-9h6m14 9h6m-55 111h6m2-85h6m66-96h6m-28 228h6m-58-36h6m-47-76h6m57-89h6m-126 171h6m-15-46h6m98-48h6m68 9h6m-64 59h6m2-155h6m0 237h6m-74-130h6m-14-136h6m97 118h6m-49 16h6m20 55h6m-17-53h6m-146-97h6m99 46h6m-59 47h6m71 90h6m-45-56h6m-20-48h6m-55-122h6m135-33h6m-53 120h6m-34 24h6m31 41h6m-45-33h6m-20-30h6m-36-38h6m1 48h6m125 82h6m-109-163h6m-45 33h6m172 56h6m-192 56h6m49 97h6m73-67h6m-27-49h6m-66-8h6m121 84h6m-92-67h6m-10-109h6m-19 100h6m25-5h6m57 42h6m-129-126h6m1 55h6m59 171h6m-68-258h6m-6 127h6m64-37h6m26 56h6m-2 25h6m-28 8h6m-90-247h6m93 95h6m-114 145h6m124 26h6m-111-30h6m-34-87h6m109-57h6m-172 32h6m119-11h6m-57 97h6m-84 132h6m39-50h6m-25-123h6m88 80h6m29-55h6m-165-9h6m74-63h6m208 334h6m-151-42h6m35 69h6m-24-72h6m28 10h6m-117-77h6m118 77h6m-50-30h6m-83-2h6m-17-32h6m35 72h6m-30 2h6m114-25h6m-117 24h6m86 73h6m-54-56h6m87 35h6m-236-60h6m117-45h6m-185-18h6m154 75h6m-45-11h6m-38-26h6m130-32h6m-87 43h6m176-6h6m-237 0h6m161 77h6m-46-60h6m-13 8h6m5-41h6m29-17h6m-218 2h6m85 48h6m-31-145h6m-34 103h6m13-27h6m139 19h6m9 64h6m-24-37h6m-106 51h6m-2-25h6m47-51h6m-196 32h6m213-29h6m49 13h6m-152 49h6m-52-9h6m251 4h6m-187 10h6m101-41h6m-72 35h6m58-50h6m-80 80h6m3-71h6m128-46h6m-174 91h6m91-79h6m-80 64h6m-69-9h6m43-53h6m-113 43h6m145-44h6m-103-12h6m-95 43h6m156 53h6m-118-14h6m103-55h6m14 8h6m55 3h6m-51 127h6m-37-109h6m19-17h6m-52 58h6m-69 11h6m17-111h6m171-1h6m-175 88h6m33 34h6m1-73h6m-3377 1025h6m62-27h6m-40 40h6m-112-46h6m193-34h6m-125 51h6m102 10h6m-132-47h6m83 16h6m-129 62h6m-11-59h6m112-29h6m64 70h6m-239-9h6m174-7h6m-23-61h6m43 20h6m-122 25h6m75-18h6m-77-13h6m-69 64h6m3-50h6m109 10h6m-39 35h6m10 7h6m5-55h6m-50 22h6m-48 18h6m-1 1h6m38-36h6m99 51h6m2-3h6m-19-29h6m21-22h6m-145 30h6m-36 0h6m146-78h6m-212 93h6m180-39h6m-32-5h6m-73 32h6m-124-22h6m76 20h6m61-20h6m6-23h6m-1 59h6m-46-51h6m56 64h6m-51-55h6m5 52h6m1031-106h6m-155 65h6m43 3h6m100-62h6m-62 57h6m-42 51h6m67-99h6m26 44h6m28-4h6m-2 53h6m-140-25h6m52-23h6m22 31h6m-13-9h6m-22 1h6m22-6h6m19 18h6m41-27h6m-133-18h6m30 27h6m169-39h6m-281 50h6m33-15h6m12 10h6m118 7h6m-69 29h6m5-34h6m-65-23h6m-21-2h6m-11 42h6m-29-42h6m102 65h6m21-94h6m-39 45h6m41-68h6m-60 35h6m-154 96h6m172-64h6m-110 40h6m74-49h6m-49-3h6m70 35h6m-113-18h6m-19 7h6m14 29h6m-14-17h6m34-43h6m-45 86h6m-20-52h6m1222-335h6m61-146h6m-70 122h6m2-49h6m3 24h6m-96 231h6m15 25h6m48-81h6m-28-4h6m-32 16h6m-22-208h6m2 15h6m-6 67h6m-9 35h6m36 40h6m30-33h6m-22-93h6m-79 148h6m34-139h6m24 51h6m51-31h6m-115 3h6m78 133h6m28 13h6m-108-368h6m35 307h6m27-33h6m25 48h6m-26-31h6m-128 9h6m94-196h6m-83 319h6m58-264h6m-166 108h6m138 96h6m51-164h6m-100 16h6m62-18h6m-28-23h6m-58 125h6m59-42h6m-11-107h6m-64 155h6m21-248h6m-22 112h6m4 90h6m-11-43h6m22 230h6m-3-191h6m-52 15h6m2-47h6m-52 68h6m48-86h6m-26 208h6m-36-147h6m51-104h6m31-103h6m-72 217h6m67-116h6m-164 93h6m42-226h6m-7 197h6m34-14h6m-89-22h6m74 158h6m6-98h6m24-15h6m-38 1h6m-6-101h6m38 93h6m-33-128h6m20 70h6m-108 224h6m46-117h6m15 7h6m19-22h6m-72 35h6m56-64h6m62-51h6m-119 73h6m41-29h6m-36-3h6m0 42h6m-38 120h6m17-117h6m-68 75h6m115-3h6m-38-33h6m-3-82h6m51 1h6m-146-11h6m-3 81h6m108-148h6m-142 231h6m48-177h6m66 87h6m-87-56h6m33-60h6m-21 128h6m-9-38h6m13-82h6m-1-39h6m0 90h6m-66-12h6m-40-9h6m82 98h6m-1-110h6m13 77h6m0-198h6m10 128h6m-74 43h6m-40 74h6m87-91h6m-73-57h6m-4 92h6m64 55h6m-81-18h6m-26-25h6m30-28h6m-15-73h6m-18 84h6m-3 24h6m-41-32h6m112 26h6m-92 7h6m92 26h6m-36 96h6m-40-154h6m24-29h6m-19 6h6m39-77h6m-48 66h6m-6 128h6m-62-125h6m45 101h6m-84-73h6m64-61h6m-93 135h6m126-82h6m-71-20h6m-62-102h6m55 205h6m25-161h6m15 55h6m30-18h6m-129 110h6m-29-60h6m65 63h6m73-73h6m-60 107h6m-70-103h6m76 6h6m-39 114h6m-69-204h6m127 123h6m-50 59h6m-15-41h6m-91-29h6m-33-91h6m176 2h6m-152 366h6m172 15h6m-187-54h6m6 26h6m101-76h6m-44 52h6m-74 25h6m97-15h6m-55 3h6m-153-16h6m161 1h6m30 16h6m-114 36h6m-73-27h6m97 12h6m-110 50h6m-14-54h6m148 91h6m-103-71h6m150-74h6m-186 58h6m97-27h6m9-71h6m-186 178h6m-6-40h6m166-87h6m-71 19h6m29-24h6m14 83h6m-10-11h6m52-18h6m5 7h6m-18-78h6m-38 112h6m-44 9h6m-35-54h6m214-65h6m-238-26h6m100 47h6m48-50h6m-106 85h6m24-124h6m34 106h6m-129 22h6m-63-44h6m180-40h6m-40 33h6m-19-1h6m54-74h6m-29 149h6m-175-69h6m174 7h6m-86 70h6m21-23h6m-44-37h6m35-23h6m80-5h6m-168 18h6m-79 91h6m78-63h6m53 27h6m-32-71h6m-60 51h6m1 53h6m-25-89h6m44 39h6m41-92h6m24 83h6m-72 0h6m-1-124h6m81 95h6m-115 37h6m79-23h6m-99 8h6m-15 63h6m-37-17h6m2-84h6m28 39h6m110 15h6m-216-47h6m1234-96h6m1 44h6m-45 105h6m-94 24h6m93-80h6m119 45h6m-132-47h6m-54 34h6m50-37h6m33 25h6m4-18h6m26 82h6m-36-58h6m-65-3h6m-149 10h6m25-6h6m226 16h6m-242-121h6m80 90h6m-36 6h6m56-36h6m149 20h6m-167-19h6m55 25h6m-24-12h6m-124-2h6m32-65h6m-32 54h6m122 84h6m-76-143h6m-18 131h6m3-62h6m25 47h6m-98-128h6m13 17h6m-114 66h6m128-4h6m15 35h6m-68-17h6m16 50h6m130 19h6m-101-98h6m8 86h6m-35-34h6m152-44h6m-259-4h6m156-25h6m-58 142h6m-7-88h6m-8-52h6m20 120h6m39-15h6m-79-60h6m48-57h6m-71 4h6m66 68h6m-79-24h6m-71-44h6m68 7h6m-56 42h6m119 7h6m-4-13h6m-40 134h6m2-107h6m-23 4h6m148 61h6m-206-63h6m-46-48h6m78 118h6m-5-72h6m-92-46h6m39 24h6m-12 1h6m117-41h6m-115 108h6m48-12h6m-43-89h6m-92 125h6m67-67h6m-88-4h6m91-40h6m-24 142h6m123-163h6m-166-59h6m39 93h6m-113 59h6m192-72h6m-171 23h6m121-20h6m49 5h6m31-7h6m-179 32h6m84 46h6m-71 18h6m-16-80h6m-74 81h6m62-61h6m-38-7h6m143 82h6m-37-103h6" stroke="#9a9a9a" stroke-width="6" fill="none"/></g>
<g filter="url(#bc)" fill="#111"><ellipse cx="86" cy="252.3" rx="8" ry="3.7" transform="rotate(-20 86 252.3)" fill-opacity="1"/><ellipse cx="194.2" cy="252.3" rx="7.2" ry="3.9" transform="rotate(-20 194.2 252.3)" fill-opacity="1"/><ellipse cx="312.7" cy="214" rx="6.3" ry="9.5" transform="rotate(8 312.7 214)" fill-opacity="1"/><ellipse cx="307.8" cy="232" rx="3.2" ry="6.5" transform="rotate(5 307.8 232)" fill-opacity="0.85"/><ellipse cx="308.5" cy="249" rx="6" ry="3" transform="rotate(-20 308.5 249)" fill-opacity="1"/><ellipse cx="416" cy="216" rx="10" ry="8" transform="rotate(0 416 216)" fill-opacity="1"/><ellipse cx="399" cy="215" rx="6" ry="6" transform="rotate(0 399 215)" fill-opacity="0.6"/><ellipse cx="85.5" cy="350" rx="9.8" ry="4.8" transform="rotate(-25 85.5 350)" fill-opacity="1"/><ellipse cx="191.5" cy="351" rx="9.8" ry="4.3" transform="rotate(-20 191.5 351)" fill-opacity="1"/><ellipse cx="311" cy="314" rx="8" ry="8.5" transform="rotate(0 311 314)" fill-opacity="1"/><ellipse cx="410" cy="316" rx="14" ry="7.5" transform="rotate(3 410 316)" fill-opacity="0.95"/><ellipse cx="86.5" cy="468" rx="6.8" ry="3.2" transform="rotate(-20 86.5 468)" fill-opacity="1"/><ellipse cx="192.8" cy="468.8" rx="7.6" ry="3.4" transform="rotate(-20 192.8 468.8)" fill-opacity="1"/><ellipse cx="313.7" cy="435" rx="5.6" ry="12.5" transform="rotate(8 313.7 435)" fill-opacity="1"/><ellipse cx="311" cy="465" rx="4.5" ry="2.5" transform="rotate(-25 311 465)" fill-opacity="0.75"/><ellipse cx="418" cy="433" rx="8.5" ry="8.5" transform="rotate(0 418 433)" fill-opacity="0.85"/><ellipse cx="406" cy="441" rx="6" ry="8" transform="rotate(0 406 441)" fill-opacity="0.3"/><ellipse cx="84" cy="563.5" rx="8.2" ry="3.6" transform="rotate(-15 84 563.5)" fill-opacity="1"/><ellipse cx="192" cy="563.3" rx="9.5" ry="3.9" transform="rotate(-10 192 563.3)" fill-opacity="1"/><ellipse cx="314" cy="530" rx="5.5" ry="12" transform="rotate(10 314 530)" fill-opacity="1"/><ellipse cx="416" cy="528" rx="9.5" ry="9" transform="rotate(0 416 528)" fill-opacity="0.85"/><ellipse cx="402" cy="529" rx="7" ry="8" transform="rotate(0 402 529)" fill-opacity="0.45"/></g>
<g filter="url(#bl)"><path transform="scale(.1)" d="M0 0m874 2556h6m33-66h6m-78 25h6m39-3h6m-13-47h6m48 29h6m-48 14h6m-51 33h6m45-37h6m-44 38h6m-59-41h6m61-1h6m-116 36h6m58-34h6m-43 47h6m104-47h6m-78 43h6m57-42h6m-2 36h6m-58-32h6m30 16h6m15-50h6m-85 41h6m-47 42h6m92-60h6m48 23h6m-45 3h6m-6-48h6m-5 53h6m-120 35h6m69-16h6m-22-16h6m23-34h6m13 14h6m-15-8h6m32 17h6m-65 22h6m72 4h6m-147 26h6m81-58h6m-63 58h6m-24-13h6m95-96h6m-79 34h6m45 60h6m48-111h6m-106 105h6m93-44h6m-116 37h6m23-25h6m-34 27h6m39-30h6m-42-20h6m4 66h6m-16-70h6m83 22h6m27-25h6m-141 8h6m114 67h6m-135-42h6m59-28h6m-43 26h6m29 27h6m-16-1h6m-32-7h6m-102-14h6m139-29h6m-6 31h6m31-6h6m-28-17h6m-92 14h6m0-13h6m0 26h6m30-20h6m-106 44h6m105-8h6m-5-49h6m-43 88h6m62-30h6m35-88h6m-77 61h6m3-1h6m-26-3h6m-89 21h6m32-6h6m12 7h6m51-29h6m-31 3h6m-45 7h6m-3 14h6m20-4h6m-67 30h6m7-49h6m22-5h6m17-9h6m-73 17h6m114-19h6m-123 41h6m-8 50h6m-16-32h6m74-83h6m4 64h6m-5-21h6m16-10h6m-37 3h6m0-25h6m6 8h6m-87 54h6m130-33h6m-112 31h6m-10-21h6m0-63h6m10 30h6m-52 4h6m-40 27h6m128 24h6m-51 0h6m-44-69h6m34 50h6m-34 7h6m30-46h6m-96 51h6m52-25h6m69 30h6m-81-1h6m58-23h6m-11-28h6m1 64h6m-27-66h6m2 49h6m-34-40h6m43-37h6m-43 48h6m-75 59h6m45-84h6m12 13h6m-126 37h6m108-5h6m-16-13h6m6-11h6m31-3h6m-44 24h6m-81-7h6m125-19h6m-91 31h6m-16 2h6m-15 3h6m-39 41h6m18-89h6m18 25h6m1137-77h6m-39 62h6m-6 1h6m9 52h6m-16-28h6m-16-29h6m6 11h6m-62 25h6m26 10h6m-10-34h6m71 14h6m-17-7h6m-73-4h6m-1 36h6m-11-65h6m-12 4h6m4 2h6m-54 54h6m28-61h6m63 80h6m-103 26h6m7-68h6m7-32h6m73 25h6m-99 13h6m-39 10h6m85-71h6m-47 66h6m67 7h6m-88-28h6m36-5h6m-26 47h6m72-51h6m-83 37h6m-83 12h6m50 46h6m50-83h6m-69-50h6m70 87h6m-76-1h6m36-77h6m29 68h6m-49-24h6m5-45h6m-13 74h6m-63 19h6m2-87h6m17 22h6m10-12h6m29 0h6m-34 14h6m-19 54h6m3-47h6m-55 61h6m65-67h6m-33-10h6m-57 24h6m62 7h6m-49 27h6m54-37h6m0-15h6m-48 36h6m1 7h6m-52 34h6m-1-46h6m-24 28h6m110-29h6m-48-58h6m-64 52h6m1 41h6m32-45h6m-2-28h6m-64 23h6m64 9h6m4 16h6m-102-10h6m50-42h6m-13 68h6m63-24h6m-62-15h6m36-20h6m-22 53h6m-53-36h6m20 24h6m11-19h6m-19-44h6m-50 65h6m-22-35h6m-14 14h6m36-18h6m36 60h6m-26-5h6m-9-65h6m-28 12h6m36-20h6m33 34h6m-146 56h6m132-93h6m-39-16h6m-36 15h6m2-7h6m-118 101h6m193-100h6m-61 40h6m-50 30h6m60-75h6m-37 55h6m-79 61h6m114-114h6m-6 28h6m-74 64h6m0-35h6m58 4h6m-57-56h6m-87 100h6m12-34h6m-15-6h6m1 48h6m-10-47h6m41 19h6m-69-11h6m50-5h6m14-35h6m-15 6h6m6 3h6m-53 19h6m58 41h6m-60-35h6m55-88h6m-133 71h6m95 63h6m4-38h6m-64-80h6m-64 117h6m79-95h6m32-20h6m21 73h6m-109-33h6m62-25h6m-6-2h6m3 32h6m-67-5h6m13-35h6m-14 45h6m27-36h6m46 7h6m-112 85h6m99-81h6m-113 44h6m0-11h6m1159-444h6m64 72h6m13-56h6m-75-104h6m-25 61h6m-37 107h6m64-174h6m133 118h6m-219 131h6m146-168h6m-138-11h6m113 77h6m-105 6h6m112-90h6m-85-13h6m76 274h6m-39-164h6m7-158h6m-36 57h6m-93 36h6m24 109h6m50-15h6m-93 18h6m28 47h6m-37 73h6m73-176h6m5 58h6m-13-83h6m-35 53h6m-23-111h6m3 172h6m26-33h6m-42 163h6m3-124h6m92-63h6m-103 64h6m74-46h6m-68-29h6m-98 68h6m80-216h6m0 1h6m-73 130h6m-16 84h6m-22-69h6m77 113h6m29-94h6m-43-30h6m55-38h6m-45 39h6m-17-16h6m93-14h6m-112 57h6m9 17h6m-22 40h6m-88-93h6m4 20h6m14-94h6m16 196h6m41-82h6m52-90h6m-186 11h6m61 146h6m148-181h6m-29 231h6m-70-109h6m76-8h6m-150-21h6m-54 19h6m57-1h6m37-105h6m40 12h6m-19-50h6m-42 57h6m-24 10h6m-109-55h6m80 156h6m-43-230h6m-3 156h6m14-45h6m42 153h6m15-151h6m-49 53h6m-95 71h6m88-94h6m42 110h6m-40 29h6m21-195h6m-92 169h6m-11-79h6m32 120h6m46-35h6m-79-11h6m44-79h6m25 59h6m-120 42h6m28-48h6m-60-60h6m35-70h6m-96 237h6m107-135h6m61-17h6m-18-103h6m-35 72h6m0 49h6m-70-176h6m-24 207h6m70-14h6m-48-67h6m-14 54h6m36-117h6m-59 98h6m44-9h6m104 4h6m-101-76h6m-51 115h6m49-45h6m-17 15h6m77 78h6m-87-223h6m-109 233h6m-57-146h6m168 69h6m-8-23h6m87-56h6m-209 70h6m136-2h6m-18-41h6m-143 133h6m128 34h6m-68-229h6m-54 67h6m70 73h6m-101-42h6m67 4h6m-4-23h6m19 31h6m-12-67h6m-6 46h6m-138 26h6m79 51h6m13-80h6m12 10h6m-14-146h6m104 37h6m-145 156h6m31 0h6m3 58h6m-52 126h6m-33-223h6m37-55h6m-2 163h6m-25-179h6m47 111h6m48 49h6m-72-122h6m-9 12h6m-86 1h6m56-9h6m-46 149h6m60-49h6m-43-166h6m-7 103h6m-3-35h6m51 50h6m-92-74h6m2 51h6m-26-33h6m83 32h6m-76-64h6m29 95h6m38-43h6m-134 105h6m88-66h6m14-114h6m-54 96h6m63-3h6m-206-60h6m143 151h6m-5 97h6m45-83h6m9-220h6m-39 156h6m-73-13h6m55-75h6m-35 11h6m13-9h6m30-115h6m-49 11h6m-47 172h6m28-46h6m-27 133h6m-55-64h6m-7-110h6m82-16h6m-26 125h6m-64-75h6m60-140h6m-12 92h6m70 7h6m7 30h6m-9 86h6m-83 8h6m8 51h6m59-130h6m-126 69h6m41-45h6m-31-65h6m-17 81h6m-84 14h6m21-67h6m38-10h6m-16-65h6m34 12h6m117 76h6m-158-38h6m0-153h6m-4 225h6m-63-35h6m9-1h6m64 55h6m14-93h6m12 24h6m-48 86h6m-10-163h6m36 22h6m-80-12h6m66 89h6m-170 44h6m192 121h6m-112-159h6m35 74h6m-1-161h6m5 141h6m-95-95h6m68 42h6m-5 65h6m8-71h6m-109 41h6m110 131h6m-49-171h6m47 129h6m-51-67h6m-58-20h6m1-58h6m33-19h6m-99-46h6m104 82h6m-49 32h6m42 43h6m-69-79h6m30-66h6m-74 51h6m-6 183h6m65-181h6m-50 163h6m-5-165h6m2 4h6m13 103h6m-58-100h6m150-13h6m-89-45h6m-137 41h6m186 4h6m-165 31h6m78 75h6m53-93h6m-10-125h6m2 163h6m-20 69h6m-57-108h6m-8-156h6m0 181h6m-61 36h6m56-10h6m-18-182h6m37 200h6m-35-89h6m-18 21h6m8-149h6m51 52h6m-78 83h6m42-97h6m9 187h6m-36 44h6m-28 0h6m60-138h6m-79 54h6m-77-90h6m20 188h6m-6-1h6m72-250h6m93 74h6m-122 198h6m-22-242h6m53 116h6m-101-110h6m6 169h6m4-24h6m81 65h6m-16-4h6m-156-28h6m108-89h6m-55-128h6m-29 124h6m1-64h6m1 122h6m21-61h6m77 0h6m-32-64h6m-35 90h6m-6-47h6m-68 2h6m4 110h6m92-164h6m-29 55h6m-15-2h6m-122 101h6m120-160h6m-131 34h6m27 20h6m57 160h6m-53-16h6m94-129h6m-163 77h6m85 138h6m57-117h6m32-142h6m-91 48h6m59 80h6m-254 22h6m109-28h6m22-38h6m50 6h6m-101 81h6m80-100h6m17-38h6m41 70h6m-82-3h6m-48-131h6m28 130h6m49 18h6m-127-15h6m81 54h6m1-180h6m28 46h6m-23-71h6m-8 63h6m-26 204h6m39-230h6m-114 5h6m56 110h6m-30-8h6m10 31h6m59-46h6m-55-155h6m-97 78h6m-12 73h6m113-32h6m-80-20h6m24 3h6m-3 69h6m-16 36h6m-13-52h6m81 0h6m-54-1h6m-61-51h6m-31 34h6m11-33h6m80 39h6m-16 31h6m-7-72h6m-86 250h6m50-123h6m-34-17h6m-51-147h6m50 146h6m-34-87h6m-3 0h6m-30-105h6m53-14h6m-65 76h6m-23 70h6m29-20h6m-25-57h6m54 100h6m-55-8h6m29-11h6m71-32h6m-75 54h6m-16-130h6m19 120h6m-34-25h6m5-72h6m20-70h6m-26 21h6m-53 172h6m15-94h6m29 23h6m-49-18h6m73 100h6m-31-155h6m3-7h6m-16 12h6m75-32h6m-77 190h6m-139-109h6m133 137h6m-136-158h6m25-35h6m-19 230h6m60-156h6m-41 66h6m67-116h6m34-6h6m-113 105h6m103-45h6m-99 117h6m13-10h6m26-65h6m-35 48h6m-48 48h6m-67-215h6m144 135h6m-108-21h6m92-59h6m-28 31h6m-50-3h6m69-72h6m-104 127h6m-16-184h6m60 141h6m-43 4h6m-86 211h6m40-263h6m-27-3h6m133 60h6m-45-47h6m45 61h6m-165 21h6m39-5h6m24-23h6m10-92h6m-113 134h6m71-42h6m10-185h6m-94 262h6m43-136h6m-37-17h6m43 34h6m15-30h6m-39 44h6m40-2h6m59 39h6m-72-81h6m41-22h6m-137-19h6m107 6h6m12 94h6m-142-40h6m165-21h6m-177 81h6m116 62h6m-75-79h6m12 83h6m102-85h6m-45-26h6m-33-53h6m-91 95h6m-19 36h6m22-61h6m23-28h6m-15 113h6m172-153h6m-158 56h6m-72 25h6m0-28h6m126-135h6m-90 186h6m-66-4h6m71-58h6m49-68h6m-49 80h6m-90-10h6m15 84h6m-48-90h6m20 149h6m-31-47h6m-28-62h6m73 17h6m-1-188h6m-93 249h6m111-156h6m26 15h6m-80-51h6m44 266h6m-88-150h6m64 160h6m-145-184h6m166-102h6m-41 130h6m20-59h6m-20-4h6m-8 61h6m-32-132h6m58 216h6m-19-146h6m-99 173h6m83-189h6m-54 72h6m-3-87h6m44 133h6m-47-183h6m-47 121h6m71-16h6m-1 42h6m-96-148h6m19 153h6m75-14h6m-164 164h6m102-193h6m-19-90h6m14 144h6m31 65h6m-43 7h6m-39-144h6m16-61h6m-23 71h6m30 32h6m-134-19h6m184-117h6m-139 127h6m-26-50h6m73-48h6m-18 138h6m-78-43h6m113 4h6m-49 59h6m-44 21h6m52-150h6m-25 148h6m29-116h6m-51 156h6m-14-17h6m63-86h6m-34-26h6m12 20h6m-87-9h6m12 36h6m42-117h6m-82 111h6m54-12h6m85 100h6m-134-54h6m69-16h6m-154-47h6m55 176h6m-91-63h6m85-33h6m-2-61h6m66 6h6m-8-14h6m-76-23h6m-12 7h6m101-67h6m-171 65h6m144 113h6m-27 13h6m-91-107h6m-91-74h6m168-46h6m-141-2h6m72 214h6m107 42h6m-155-331h6m29 281h6m-71-140h6m44 54h6m1 41h6m61-24h6m-48 149h6m-51-254h6m29 242h6m-12-63h6m-27-18h6m-18-21h6m49-13h6m33 62h6m-101-31h6m-61-1h6m219 3h6m-109-56h6m17-37h6m-16 13h6m-66 22h6m38-143h6m74 167h6m-205 41h6m88-54h6m46-80h6m-197 31h6m135 114h6m-37-109h6m51 7h6m-45 39h6m-62 98h6m20-121h6m33-54h6m13 143h6m45-26h6m-104 6h6m-43-73h6m83 57h6m-60-177h6m119 102h6m-159-86h6m42 204h6m-7 2h6m15-56h6m43-61h6m-40-7h6m-66 74h6m-7-47h6m-3-13h6m-9 95h6m38-75h6m112-221h6m-144-13h6m4 260h6m28-9h6m-101 104h6m79-149h6m-85 41h6m37-63h6m19 58h6m-72 73h6m18-189h6m41 109h6m-10-45h6m-5-12h6m-108 88h6m39-71h6m76 35h6m113-95h6m-198 87h6m102-8h6m-163 85h6m38-101h6m89-22h6m-88 80h6m9-14h6m-37-39h6m7-114h6m106 183h6m-27-120h6m-63 52h6m-85 47h6m38-53h6m-61 87h6m114-27h6m-75-88h6m95 39h6m-59 25h6m-93 97h6m-31-110h6m113-129h6m-15 172h6m-1-108h6m-13 156h6m-26 46h6m39-70h6m40-108h6m-117 77h6m32 87h6m43-100h6m-45-43h6m-32-19h6m56 10h6m-76 39h6m-9-32h6m-96 33h6m89 3h6m56-155h6m66 177h6m-88-171h6m-14 179h6m-51-20h6m83-30h6m-136 113h6m73-108h6m90 45h6m-129-13h6m-17-6h6m34-64h6m-40 73h6m-27 179h6m8-19h6m-11-38h6m-37 82h6m-54-44h6m159-120h6m-56 1h6m-58 198h6m40-149h6m-86-40h6m48 68h6m-31 36h6m5 18h6m-4-129h6m40-65h6m-24 127h6m-49 1h6m-14 29h6m2-64h6m25 34h6m7 27h6m-70 30h6m48-78h6m-53 138h6m-15-138h6m30-19h6m-82-34h6m67 146h6m2-15h6m-62 13h6m72-76h6m-14 19h6m-32 42h6m-62 61h6m21-92h6m2 35h6m24-24h6m22 18h6m-44-194h6m-16 155h6m-21-35h6m28 118h6m33 9h6m-79-60h6m-29 27h6m53-76h6m-22 20h6m-30 93h6m109-20h6m-64-45h6m-59 118h6m3-108h6m0 13h6m-4 0h6m-38-45h6m77-49h6m-79 139h6m28-15h6m-81-63h6m31-89h6m31 158h6m-51-142h6m16 61h6m-41 141h6m65-152h6m-53 158h6m92-161h6m-72 100h6m-43-115h6m71 0h6m-56-44h6m-27 121h6m3-120h6m-17 185h6m31-138h6m-12 60h6m5-135h6m-9 96h6m16-67h6m-5 52h6m-98 102h6m35-54h6m1 44h6m32 4h6m-4-165h6m-88 103h6m15 18h6m37-111h6m-43 14h6m-7 56h6m33 97h6m-45-119h6m62 95h6m-29-199h6m-56 148h6m-3 111h6m23-101h6m-35-83h6m5 26h6m2 62h6m5 39h6m-50-52h6m35 87h6m-13-77h6m-25 4h6m36-60h6m-34 34h6m30-65h6m-1 50h6m16 111h6m-65-132h6m74 83h6m-58-68h6m-33 72h6m25-97h6m7 71h6m-76 35h6m19-10h6m-16-27h6m-38-2h6m-2-12h6m-35-17h6m89 42h6m17-93h6m-9 163h6m-77-152h6m9 48h6m30-146h6m-6 135h6m-61 68h6m14 13h6m28-85h6m7 69h6m-44-150h6m-19 134h6m-3 70h6m18-93h6m4-64h6m-23 12h6m-68-74h6m80 89h6m-26-65h6m-32 135h6m22-76h6m34 31h6m-69 68h6m-44-40h6m19-79h6m3 57h6m16 12h6m-8 67h6m42-38h6m-28-68h6m-67 53h6m26 19h6m-71 105h6m24-157h6m70-80h6m-49-42h6m-33 2h6m29 139h6m-24 57h6m52-72h6m-53-20h6m-22 94h6m24-96h6m-25 51h6m-10-14h6m0 63h6m44-163h6m-57 124h6m-15 6h6m19-11h6m-16-19h6m21-105h6m-52 23h6m65 87h6m-45-11h6m-28-58h6m34 26h6m13 36h6m-49-29h6m-12 15h6m30 143h6m-76-132h6m56-65h6m-48 23h6m-66 62h6m69-38h6m-4 21h6m62 1h6m-47-45h6m-22 11h6m-18-37h6m-33 80h6m41 4h6m-48-12h6m-65 33h6m73-34h6m33-38h6m-12-2h6m-18 1h6m-23 111h6m-24-126h6m-1 56h6m91-45h6m-149-17h6m7 7h6m44-20h6m-22-56h6m14 69h6m12 111h6m-57-91h6m15 71h6m-53-55h6m100 9h6m-55 1h6m-54 53h6m42-43h6m5 39h6m-83-26h6m35-15h6m-5-62h6m40 56h6m-42-20h6m4 17h6m-75-57h6m49 102h6m51-96h6m6 64h6m-46-42h6m-49 116h6m14-91h6m25 113h6m-75-121h6m28 124h6m78-105h6m-73 49h6m23-69h6m-12-23h6m-109-50h6m70 138h6m-67-162h6m69-88h6m-11 266h6m-111-25h6m75 47h6m17-98h6m-17 70h6m1-53h6m-58 22h6m32 86h6m2-116h6m-28 47h6m14-84h6m35 154h6m-53-174h6m41 16h6m41 46h6m-56-74h6m-48 141h6m17-97h6m47 82h6m-79-87h6m-17 117h6m-15-81h6m-13 74h6m15-22h6m24-85h6m-10 92h6m-60-19h6m140-48h6m-88-70h6m-15 45h6m0 33h6m-70 64h6m34-125h6m2 4h6m-1 55h6m-33 42h6m-35 16h6m-31 36h6m70-107h6m-38 47h6m15-42h6m31-13h6m-49 49h6m37-31h6m-35 9h6m4 89h6m-48-103h6m17 46h6m44-32h6m-51 66h6m-40-119h6m14 48h6m18-29h6m41-7h6m-75 103h6m29-64h6m-22 49h6m-17-11h6m-30-38h6m-23-60h6m-3 131h6m20-56h6m-17-32h6m17-38h6m32-46h6m-36 261h6m-36-163h6m-28-6h6m-15 39h6m45-147h6m-32 13h6m11 150h6m2-124h6m-27 77h6m-57 24h6m96-178h6m13 52h6m-63 167h6m-34-189h6m6 48h6m21 36h6m-17 2h6m5-22h6m5 53h6m-57 108h6m-8-67h6m12-21h6m30 34h6m31-102h6m31 81h6m-108-117h6m74 192h6m-73-60h6m38-37h6m-58-13h6m32 7h6m-73 40h6m-13-94h6m79 69h6m-36-11h6m20-8h6m-99 11h6m-28-144h6m120 201h6m-63-73h6m5 67h6m-8 73h6m-25-20h6m-89 85h6m104 13h6m32-25h6m-57-1h6m63-22h6m-47 2h6m-75-4h6m-17 42h6m38-47h6m24-8h6m50 53h6m-58-58h6m-71 103h6m54-115h6m19-24h6m-63 63h6m-11-25h6m129-27h6m-95 45h6m-104 19h6m92 8h6m-37-6h6m-3 6h6m-105 36h6m69-62h6m-114 25h6m187 30h6m-96-55h6m59 4h6m-61 6h6m11 18h6m60 9h6m-10-30h6m-39 20h6m-48 51h6m46-41h6m-60 8h6m39-52h6m-63 0h6m130 13h6m-95 2h6m-65-39h6m-44 51h6m66-43h6m54 28h6m-57-49h6m-7 52h6m-76-39h6m170 20h6m-105 65h6m53-56h6m-44 24h6m45-40h6m-80 42h6m-132 31h6m106-44h6m8 6h6m5-12h6m-14 14h6m-18 21h6m-69-1h6m80-75h6m-23 83h6m-13-63h6m-128 81h6m142-46h6m79-49h6m-102 15h6m-9 20h6m38 2h6m-87-1h6m90-50h6m-11 79h6m-24-35h6m29-9h6m-76 9h6m57 4h6m2-34h6m-94 29h6m20-17h6m34 16h6m-128-54h6m-3 130h6m64-64h6m-20 13h6m-99-38h6m27 50h6m107-30h6m-61-32h6m47 11h6m-43 19h6m-33-9h6m-17-13h6m44 15h6m14-56h6m18 43h6m-76 4h6m-43-7h6m87 4h6m-5 30h6m-73-7h6m13 31h6m9-31h6m19-16h6m48-45h6m-21 74h6m-124 27h6m61-24h6m-81 9h6m-1-19h6m108-36h6m-190 30h6m69 44h6m-10-75h6m97 16h6m-53-14h6m52-1h6m-176 32h6m57 6h6m64-42h6m-42 100h6m0-83h6m-15-19h6m38 50h6m-58 20h6m1-23h6m-38-21h6m-31 39h6m46-33h6m-54-9h6m33 34h6m27-46h6m17 64h6m-13 10h6m3-23h6m-53 12h6m-45-13h6m12-74h6m-24 100h6m82-27h6m-60-106h6m19 61h6m-40 16h6m-23-9h6m101 2h6m-103 10h6m78-7h6m-58-29h6m-35 14h6m-56 78h6m56-61h6m-24 41h6m136-56h6m-79-29h6m-27 52h6m54-28h6m-121 39h6m32 31h6m35-47h6m-24 21h6m-54-35h6m-52 79h6m101-55h6m-18 35h6m-58 5h6m-16-46h6m-18 21h6m41-7h6m-38-43h6m74 51h6m-11-38h6m-37-38h6m-14 88h6m12-67h6m20 13h6m-24-32h6m-49 67h6m35-8h6m-28-14h6m27 19h6m-111 3h6m61-10h6m37-59h6m-33-3h6m-55 54h6m16-11h6m-15 12h6m-9-44h6m-45 56h6m98 5h6m94-63h6m-175 64h6m62-26h6m-90 23h6m29-51h6m-35 88h6m-64-10h6m98-1h6m1070-380h6m47 34h6m-72-94h6m74 107h6m-199-17h6m47-172h6m45 199h6m-83-101h6m165-40h6m-196 67h6m154 48h6m-126-51h6m55-11h6m-105-37h6m156 43h6m212 36h6m-368-9h6m105 16h6m4 3h6m-63 17h6m219-90h6m-255 96h6m157-7h6m-14-56h6m-146 58h6m90 58h6m62-233h6m-77 81h6m-287 94h6m182-65h6m-120-33h6m97-41h6m13 103h6m-9 12h6m-6-95h6m-95 92h6m193-16h6m-152 14h6m-143-64h6m142 47h6m-2-13h6m-94-13h6m129-94h6m-141 109h6m266 43h6m6 42h6m-214-74h6m-71 87h6m180-54h6m-14-8h6m-52-8h6m88-77h6m-226 70h6m215-4h6m-139 51h6m11-179h6m-118-3h6m81 99h6m74 160h6m-121-127h6m0-184h6m-32 138h6m96-16h6m-153 105h6m107-106h6m-71 45h6m160 97h6m-218 2h6m124-64h6m78-93h6m-19-21h6m-135 41h6m221 142h6m-104-65h6m-127 90h6m181-70h6m-163-68h6m7 108h6m-98-70h6m254 27h6m2-31h6m-130 74h6m10-69h6m-131-107h6m199 51h6m-220 102h6m-32-141h6m33 80h6m80 30h6m60-46h6m-66 5h6m-102 42h6m100 84h6m4-165h6m-3 29h6m82-102h6m-221 86h6m74 27h6m-184-96h6m187 198h6m109-130h6m-106-22h6m-182 151h6m194-118h6m-102 89h6m55-86h6m-8 21h6m-77-39h6m126 4h6m-200 164h6m225-103h6m-136-10h6m-144-2h6m163-26h6m6-38h6m-35-49h6m-22 63h6m-132 25h6m124-25h6m82-14h6m3 91h6m-153 57h6m-85-50h6m135 2h6m-177-110h6m72 70h6m83-8h6m-44-43h6m-113 27h6m187 75h6m-107 12h6m-90-11h6m17-36h6m0-79h6m47 148h6m-22-49h6m72-28h6m11 20h6m-157-24h6m142-53h6m-8-28h6m32 17h6m-96 103h6m119-97h6m-164 113h6m-223 41h6m387-188h6m-8 91h6m-92-163h6m-87 143h6m1-13h6m-8-159h6m15 137h6m6 12h6m6 48h6m161-85h6m-11 38h6m-265-55h6m165-19h6m9 117h6m-156-51h6m102 43h6m18-12h6m-126 45h6m-71 25h6m105-135h6m-106 59h6m-75 116h6m252-182h6m-96 187h6m30-177h6m-260-18h6m332 96h6m-248 46h6m79-95h6m-21 14h6m207-50h6m-197 164h6m168-165h6m61 129h6m-351 75h6m-12-72h6m13-160h6m203 124h6m-99-7h6m-10-29h6m-97 63h6m97-63h6m-65 3h6m-99 6h6m55 98h6m-12-112h6m96 72h6m34-54h6m161-17h6m-172 193h6m-135-103h6m113-158h6m-100 147h6m-93-58h6m229-24h6m-74-22h6m-94 11h6m28 78h6m44 82h6m31-113h6m160-39h6m-307 43h6m-32 26h6m238-14h6m-186-35h6m89 78h6m-102-95h6m145 28h6m-78 23h6m-120-31h6m175-16h6m-128 40h6m65 139h6m-138-144h6m273-31h6m-176-81h6m66 144h6m-27-66h6m-50 11h6m42-1h6m-20-84h6m-125-88h6m32 231h6m-8 103h6m-93-167h6m-1-11h6m34-66h6m-37 229h6m59-78h6m-112-57h6m173-19h6m-110 8h6m53 61h6m98-149h6m-322 101h6m203 40h6m91-98h6m98 51h6m-381 78h6m192-61h6m-194-22h6m168-5h6m54 86h6m77-7h6m-169 44h6m30-59h6m-69-140h6m-197 119h6m150-26h6m141-112h6m-259 138h6m202-53h6m-102-77h6m43 51h6m54 104h6m-106-25h6m69 12h6m127-15h6m-87 16h6m-123-42h6m78 74h6m93 58h6m-255-128h6m-72-26h6m12 109h6m219-166h6m-37 121h6m133-6h6m-171-46h6m46 21h6m-124-88h6m149 19h6m-129 109h6m17 20h6m-113-15h6m-40-144h6m32 102h6m22-100h6m182 11h6m-129 90h6m-42 10h6m100-40h6m33-35h6m-209 69h6m4 11h6m75-62h6m67 59h6m-50 0h6m-83-99h6m70 112h6m-234-122h6m133-83h6m12 220h6m-56-40h6m13 17h6m152 43h6m-65-11h6m18-101h6m100-17h6m-118 207h6m45-217h6m-62 23h6m-55-58h6m30-6h6m20 123h6m51 115h6m-273-199h6m62 35h6m182-1h6m-156-39h6m-6 45h6m40-69h6m8 129h6m26-121h6m53 129h6m-70-127h6m-174 97h6m30-93h6m198 129h6m-29 28h6m6-162h6m25 81h6m-67 99h6m-6 1h6m-56-123h6m-80 22h6m-103 14h6m147-45h6m-225-86h6m293 52h6m61 10h6m-111-39h6m-98 88h6m126 113h6m15-206h6m-94 91h6m-66 55h6m209-87h6m-42 124h6m-221 43h6m260-120h6m-4-3h6m-59 31h6m-209-7h6m59-56h6m-106-9h6m-3 124h6m-85-62h6m121-98h6m130 18h6m45 36h6m-92 11h6m31 66h6m-121-52h6m211-56h6m0 12h6m-249-63h6m-35-1h6m35 155h6m38-89h6m-103 3h6m-52-34h6m341 69h6m-289 52h6m228-105h6m-170-26h6m-139 183h6m482-181h6m-497 184h6m256-84h6m31-57h6m-119 84h6m-67-15h6m2-3h6m20-161h6m-10 36h6m-102-6h6m168 71h6m-117 113h6m95-104h6m-279 81h6m169-82h6m92-26h6m-79 105h6m51-103h6m92 107h6m31-82h6m-167 86h6m11-61h6m-62-24h6m-63-17h6m102 13h6m-185 39h6m307 58h6m-384-111h6m277 36h6m-77-8h6m-13-57h6m106-12h6m-123 179h6m107-111h6m-118-28h6m-52 27h6m175-28h6m-78 62h6m-25-44h6m29 26h6m-73-36h6m-222 98h6m276-105h6m-94 59h6m-82 34h6m162-5h6m-1-179h6m-37 98h6m61 91h6m-42-71h6m191-15h6m-381 99h6m-40 65h6m234-60h6m-7-59h6m-246-44h6m183 9h6m-28-29h6m-115 73h6m144-32h6m-185-92h6m293 8h6m-290 51h6m168-17h6m-35 70h6m-174 6h6m-16-20h6m188-22h6m-171 2h6m70 42h6m-227-122h6m278 87h6m-52 25h6m-27-41h6m27 69h6m13-44h6m-142 26h6m-22-57h6m127 39h6m91 41h6m-72-72h6m-55 9h6m170 30h6m-248-63h6m180-18h6m-86 75h6m57-73h6m-60 74h6m34 71h6m-83-95h6m64-83h6m-72 34h6m-146-26h6m-37 158h6m239-69h6m10-6h6m-163-57h6m129 110h6m34-107h6m-161-22h6m146 119h6m-72-41h6m-73-16h6m114-28h6m-20 61h6m-202-95h6m24 88h6m-53 47h6m233-26h6m-301-161h6m268 224h6m-136-51h6m0-75h6m119-6h6m-7 147h6m-101 18h6m-129-51h6m133 95h6m-21-216h6m146-61h6m-118 59h6m90 35h6m-57 8h6m-212-119h6m293 129h6m-300-10h6m199-95h6m128 69h6m-258 122h6m38-153h6m72 88h6m7-90h6m-221 119h6m47-186h6m-6 181h6m-16 43h6m8-91h6m-121-35h6m144 76h6m34 28h6m-247-46h6m190-87h6m6 18h6m43 22h6m-2-37h6m77 78h6m43-39h6m-232 37h6m-9-76h6m47 59h6m-74-15h6m-35 37h6m-34 104h6m126-61h6m-132-28h6m104 32h6m80-179h6m22 7h6m21 92h6m-254 71h6m107-121h6m-75 102h6m-77-81h6m317-22h6m-147 92h6m55 23h6m-362-58h6m363-53h6m64 62h6m-309 48h6m304-109h6m-146-1h6m-115 75h6m106 6h6m-25 136h6m-160-266h6m171 119h6m-198 117h6m50-210h6m118 123h6m176-158h6m-363 114h6m79 5h6m-42-94h6m34 145h6m110-99h6m-25 72h6m-114-41h6m66 201h6m-15-242h6m-36 24h6m115-116h6m-213 215h6m141-65h6m17-92h6m-41 16h6m-162 121h6m38-60h6m133-57h6m11 215h6m-94-77h6m79-154h6m-214 102h6m-83 9h6m237 7h6m19 55h6m-85 8h6m76-61h6m-72 34h6m-68-10h6m175-107h6m-215 12h6m92 65h6m96 93h6m60-113h6m-218-79h6m127 102h6m-122-35h6m-3-160h6m17 190h6m-21-90h6m20 99h6m174 23h6m-134-62h6m-203-11h6m-7 25h6m246 54h6m-28-66h6m1-20h6m-301 53h6m184-141h6m-67-41h6m20 239h6m-22 8h6m70-142h6m-199 115h6m227-168h6m-101 180h6m-43-44h6m-135-76h6m263-41h6m-226 6h6m100-22h6m33 138h6m155-78h6m7 63h6m-191 13h6m175 49h6m-92-97h6m4 19h6m-73 9h6m152-110h6m-197 23h6m102 137h6m35-101h6m-131 85h6m5-32h6m-5-1h6m-36 13h6m-147-44h6m9 21h6m58 35h6m185-134h6m-203 121h6m221 10h6m-112-46h6m-92 37h6m88-23h6m-126-106h6m-26 83h6m-33 48h6m-36-39h6m179 58h6m-15 26h6m-101-122h6m163-22h6m-137-44h6m137 149h6m-209-145h6m107 123h6m95 95h6m-112-127h6m-54-1h6m-123-29h6m118-60h6m-113 198h6m56-33h6m168-68h6m-34-10h6m-177 20h6m90 7h6m-8-34h6m94 4h6m-148 87h6m-69-56h6m242-17h6m-13-20h6m-199 23h6m-11-12h6m12 74h6m73-73h6m-102 233h6m39-123h6m-116-131h6m233-44h6m-230 88h6m26-18h6m90 67h6m-7-37h6m115 63h6m-193-198h6m-54 196h6m36-120h6m10 149h6m34-133h6m-86-40h6m353 38h6m-275 5h6m82-52h6m-303 54h6m236 165h6m-65-200h6m-20 7h6m-57 61h6m98-58h6m77 31h6m-107-20h6m25 58h6m17-82h6m-8 16h6m-52 91h6m130-91h6m-266 62h6m225-51h6m106-112h6m-81 207h6m-57-127h6m31 128h6m-25-89h6m-147 112h6m44-113h6m-121 51h6m-57 25h6m134-152h6m39 177h6m-41-164h6m-79 149h6m-83-73h6m240-16h6m-173 87h6m212-46h6m-313-105h6m101-23h6m26 176h6m-270-48h6m291-50h6m7 67h6m72 138h6m-100-229h6m-143-10h6m178 88h6m-32-7h6m113 48h6m-75-111h6m-144-29h6m-31 94h6m-68-42h6m323 1h6m-366-39h6m148 125h6m-6 1h6m23-133h6m70 37h6m79-16h6m-209 20h6m-13 67h6m6 47h6m58 21h6m-43-16h6m100-104h6m138 97h6m-216-94h6m-69 7h6m26-66h6m-26 37h6m164 75h6m3 106h6m-127-14h6m-24-89h6m-142-24h6m235 6h6m-190-16h6m-46-41h6m-66 122h6m241-101h6m-251 13h6m324-101h6m-253 78h6m120-63h6m-57 34h6m-70-21h6m86 40h6m-109 113h6m96 74h6m-12-149h6m-20 177h6m89-208h6m-100-7h6m29-2h6m-123 73h6m188 10h6m-72-48h6m-324 14h6m219 26h6m192-2h6m-361-18h6m149 32h6m-4-173h6m-82 111h6m-120 23h6m178 62h6m1-112h6m-4 42h6m99-74h6m-310 271h6m281-204h6m155-92h6m-326 74h6m123-13h6m24 5h6m51 49h6m-307-7h6m45-11h6m122 145h6m-51-250h6m31 26h6m178 108h6m-38-71h6m-267 68h6m-47-79h6m61 48h6m-95-119h6m302 73h6m-163 90h6m50-88h6m-82 157h6m161-72h6m21-177h6m-152 120h6m-210 59h6m254-28h6m-258-9h6m200-20h6m5 48h6m108-27h6m118-12h6m-241 58h6m-49-69h6m117-132h6m-287 306h6m240-124h6m-51-13h6m-136-26h6m-6 95h6m158-75h6m-33-22h6m-152 135h6m166-140h6m-3 96h6m50-45h6m-47-56h6m54 73h6m-59-145h6m-26 133h6m-9-217h6m-261 213h6m88-1h6m83 24h6m-65-124h6m108 42h6m-189-98h6m443 69h6m-361-76h6m-75 126h6m137 50h6m-118-10h6m182-83h6m-138-75h6m-80 35h6m153 66h6m90 17h6m-85 29h6m-76-101h6m149 53h6m-367-1h6m79 110h6m217 4h6m98-155h6m-426 17h6m220-139h6m-89 246h6m-38-62h6m-1 126h6m273-211h6m-288 102h6m156 7h6m-5 39h6m59 56h6m-124-147h6m-14 185h6m81-110h6m50 31h6m88-146h6m-220 124h6m51-82h6m-259 29h6m91 3h6m184 38h6m-247-78h6m143 115h6m-39-60h6m-161-35h6m72 39h6m41-78h6m-86 80h6m44 58h6m68-102h6m66-70h6m-3 32h6m-26 4h6m-186-63h6m109 147h6m-148 100h6m120-208h6m202 30h6m-72-157h6m83 196h6m-228 28h6m-122 51h6m155-55h6m-119-91h6m102 125h6m-35-67h6m-69 67h6m192-76h6m-228 196h6m-92-141h6m150 57h6m-27-198h6m-98 127h6m104-62h6m-67-55h6m-95 71h6m78 25h6m-46 119h6m-69-41h6m235 27h6m64-201h6m-99 148h6m53-21h6m-156 65h6m30-122h6m26 0h6m-90 46h6m333-16h6m-271-29h6m17-51h6m17 96h6m-46 17h6m-34 15h6m69-14h6m-59 27h6m-23 28h6m2-1h6m23-90h6m-130 55h6m130-51h6m-1 5h6m-149-75h6m161 77h6m95 113h6m-85-85h6m-35-33h6m-145-171h6m156 202h6m-84-24h6m95 44h6m-92-71h6m41 66h6m149-128h6m-181 17h6m-85 223h6m-16-164h6m-17 67h6m-4-170h6m65 161h6m-27-43h6m-81-67h6m64-20h6m-51 14h6m25 117h6m17 20h6m27-88h6m-135 27h6m-29 46h6m-37-142h6m42-23h6m97 51h6m-56 98h6m-190-42h6m264 61h6m-39-110h6m85 99h6m133 70h6m-259-30h6m23-163h6m59 150h6m-319 29h6m151 5h6m95-107h6m110-42h6m61-48h6m-282 15h6m116 58h6m27 75h6m-7-1h6m18-81h6m-199-43h6m148 16h6m-184-5h6m77 64h6m-18-84h6m68-87h6m-76 225h6m54 4h6m-26-39h6m-19-67h6m36 90h6m-257-98h6m-20-7h6m79 22h6m102 86h6m139-131h6m-174 110h6m-28-67h6m-123 86h6m200-131h6m-168 7h6m177 23h6m-175 25h6m216 87h6m37-79h6m-114 22h6m38 16h6m-179-73h6m61 90h6m-27-96h6m163 134h6m-212-89h6m203-35h6m-36-66h6m-110 148h6m174 3h6m-341-136h6m84 150h6m158 2h6m-20-109h6m-116-12h6m114-35h6m-75 107h6m107-78h6m-92-8h6m61 37h6m-145-27h6m-34 23h6m4 119h6m-50-57h6m171-107h6m-299 132h6m37-87h6m158 56h6m-29-63h6m127 50h6m82-83h6m-205 75h6m59 12h6m-48 119h6m-33-98h6m23-73h6m43-87h6m36 17h6m-144 122h6m-27-40h6m182 177h6m-35-145h6m-180-47h6m189 93h6m6 7h6m-15-106h6m-222-8h6m76 47h6m2-68h6m12 132h6m-36-229h6m-3 154h6m90 5h6m-36-13h6m-29 92h6m-70-38h6m39 16h6m-35-7h6m-182-31h6m266 36h6m-194-81h6m137 64h6m-1-20h6m-36 67h6m-124-149h6m192 23h6m-38 9h6m-173 160h6m81-201h6m-14 81h6m-4 22h6m-103-21h6m159 45h6m-50-90h6m-199 166h6m68-132h6m113 48h6m-17-82h6m9 188h6m235-171h6m-200-83h6m-35 164h6m-51 76h6m105-88h6m-362-49h6m327-21h6m-253 16h6m329 53h6m-74-26h6m52-201h6m-260 331h6m209-128h6m-157-121h6m-5 109h6m-47 103h6m180-125h6m-17 17h6m-72-23h6m210-86h6m-254 188h6m96-183h6m-195 117h6m5-39h6m52 29h6m121-113h6m-2 97h6m-54-4h6m162-110h6m-114 98h6m-137 134h6m-6-33h6m151-112h6m62 115h6m-236-47h6m-55 9h6m157 32h6m-79-93h6m-96-21h6m40 98h6m-44-81h6m-46 86h6m61-150h6m146 163h6m-123-83h6m-15-36h6m111 141h6m-10-75h6m-84 26h6m134-99h6m-178 22h6m-119 77h6m220-111h6m-11 113h6m-54 50h6m-117 26h6m18-72h6m-122 38h6m142-114h6m-107 59h6m231 1h6m-180-70h6m-74 35h6m-62 2h6m265-4h6m-134-24h6m87 73h6m57-93h6m-258 28h6m-15 37h6m69-60h6m42 118h6m61-113h6m-68 67h6m52-48h6m-196 62h6m21-50h6m72 78h6m-31-47h6m16-49h6m103-4h6m-42 52h6m-249-105h6m211 55h6m-83 20h6m-15 19h6m48-60h6m150 110h6m-181 91h6m273-85h6m-141-107h6m-162-51h6m-1 166h6m-20-172h6m215 219h6m-35-226h6m-70 52h6m-94 107h6m153-100h6m-196-25h6m31 15h6m-47 117h6m39-45h6m27 41h6m93-137h6m-295 135h6m229 37h6m5 21h6m-47-151h6m42-21h6m-168 99h6m41 31h6m-13 59h6m-77-67h6m54 41h6m-21-41h6m214-57h6m-159 59h6m216-149h6m-252 63h6m72-22h6m-238-34h6m227 94h6m3-120h6m-176 84h6m175 49h6m-116-85h6m33 31h6m77 139h6m-100-180h6m231 95h6m-193-18h6m-43 2h6m-6-105h6m-96 101h6m82 11h6m11-134h6m-139 87h6m107 22h6m178-29h6m-235-56h6m210 88h6m-204-31h6m15 18h6m105-40h6m-170 33h6m102 47h6m35 10h6m-50-28h6m30 25h6m-76-131h6m-80 67h6m-130 142h6m319-43h6m-91 33h6m-233 6h6m-47-70h6m210 5h6m49 8h6m-150-79h6m-14 54h6m33-116h6m127 17h6m-149 39h6m-25 88h6m-12-131h6m0 26h6m-83 133h6m250-176h6m53 209h6m-309-66h6m107 17h6m-17-22h6m103-196h6m-86 162h6m66 68h6m-1-125h6m-11 1h6m3 38h6m-99 28h6m-150-17h6m41 77h6m227-175h6m-347 140h6m154-91h6m282 9h6m-336 38h6m136 108h6m-20-183h6m-68 207h6m-142-111h6m246 187h6m-62-81h6m9 99h6m-3 35h6m-7 19h6m-8-27h6m-25 59h6m58-74h6m-96-35h6m-85-39h6m119-35h6m-6 107h6m60-45h6m-141-166h6m50 228h6m45-56h6m-77-56h6m15 55h6m24 3h6m50 2h6m-67 63h6m13-119h6m-109-46h6m74 133h6m-7 14h6m32-109h6m45 241h6m-78-199h6m-27-87h6m-15 42h6m-11 35h6m81-38h6m-76 32h6m45 103h6m-131-144h6m66 26h6m1 49h6m-67-27h6m56 16h6m-19 32h6m-17 68h6m-51-62h6m24-4h6m48 16h6m-13 9h6m-11-70h6m2 85h6m-1-49h6m-29-159h6m-50 125h6m66 98h6m-40-163h6m8 148h6m5-118h6m-80-14h6m-6 133h6m50 82h6m47-81h6m-99-25h6m39-145h6m-75 47h6m96 24h6m-113 34h6m74-92h6m47 33h6m-41 100h6m-78-56h6m24-17h6m24 29h6m-106 2h6m17-23h6m50 9h6m25 2h6m-68 122h6m45-126h6m-35-19h6m-3-39h6m61 154h6m-167-154h6m82 22h6m-90 94h6m32-1h6m61 60h6m-61 21h6m-19-23h6m86-75h6m-93 83h6m71-231h6m-143 71h6m64 97h6m34-28h6m-32 45h6m-9-174h6m-80 143h6m67-158h6m-17 94h6m57-123h6m-50 203h6m30 6h6m55-118h6m-110 137h6m83-52h6m-84-105h6m33 107h6m-74-62h6m-3 79h6m28 46h6m55-64h6m-13 51h6m7-107h6m-41 164h6m-4-159h6m-23 192h6m-31-206h6m46 18h6m-106-85h6m58 67h6m53 2h6m-121-12h6m0 138h6m12 23h6m49 38h6m-33-84h6m-87-93h6m49 115h6m19-34h6m-30-139h6m20 184h6m-5 19h6m-17-137h6m-7 7h6m-20 1h6m-11-56h6m89 136h6m-80-106h6m-57 85h6m30 95h6m-49-112h6m114-62h6m27 109h6m-48-132h6m-5 133h6m-42 56h6m3-288h6m-6 285h6m-45-71h6m-7-53h6m-90-129h6m92 87h6m-70 91h6m75 83h6m-84 76h6m56-18h6m44-53h6m-47 50h6m-36-78h6m51 53h6m-50 23h6m-9-30h6m29-44h6m-86 68h6m16 25h6m-12-82h6m2-19h6m85 38h6m-27 26h6m-40-39h6m23 13h6m-83-28h6m91 24h6m-88-25h6m64 33h6m-2 1h6m-71 43h6m-56-50h6m76 44h6m30-40h6m-50 26h6m-16-19h6m20-10h6m-15 58h6m-7-55h6m16 4h6m-14-20h6m-68 4h6m96 55h6m-14-31h6m-50-3h6m9-4h6m-55 56h6m62-40h6m-52-13h6m6 15h6m-61-2h6m15 43h6m-42-62h6m26 33h6m9 45h6m14-140h6m3 85h6m-67 8h6m39-34h6m-3 30h6m-26-6h6m-25 29h6m22 9h6m101-24h6m-115-1h6m2-2h6m-43-34h6m26-4h6m58 25h6m-49-12h6m-13 39h6m-7-31h6m63-21h6m-90 19h6m49-29h6m-55 69h6m59-13h6m-92 0h6m4-4h6m-50-4h6m99-25h6m-130 70h6m86-74h6m-21 4h6m41-8h6m-118 15h6m136 11h6m-3293 975h6m-73-21h6m-49 85h6m23-69h6m6 14h6m-49 13h6m65-16h6m-107 12h6m53-38h6m-4 29h6m-112-25h6m48 53h6m56 13h6m-23-36h6m9-19h6m66-38h6m-146 67h6m105-54h6m-98 81h6m86-76h6m-35 5h6m26-29h6m-88 60h6m-38 26h6m72-61h6m74-2h6m-104 12h6m-7 56h6m-77-19h6m-5-22h6m80-23h6m43-38h6m-98 86h6m-69-43h6m40 49h6m-19 15h6m-55 24h6m217-82h6m-82-8h6m-65 76h6m-7-15h6m-44 9h6m24-100h6m13 83h6m27-22h6m29-30h6m-105 78h6m135-107h6m-37 20h6m-178 56h6m54 41h6m25-72h6m20 53h6m-44-53h6m16-14h6m25 46h6m-41-30h6m-22-26h6m121 66h6m-147-81h6m-36 35h6m-55 66h6m81-57h6m72-14h6m-115 63h6m-31-14h6m25 7h6m14-38h6m36 15h6m1 18h6m-85 13h6m137-79h6m-205 125h6m99-60h6m20-13h6m39-38h6m-47-28h6m-83 75h6m120-82h6m-93 90h6m-40-49h6m-58 93h6m34-33h6m66-78h6m-24-30h6m-23 44h6m29 26h6m-3 12h6m-78-35h6m-7 82h6m-13-42h6m73-30h6m-104-19h6m119-8h6m-147 64h6m68-79h6m24 52h6m11-8h6m-106-8h6m52 10h6m91-38h6m-63 38h6m-115 74h6m36-93h6m76 51h6m-54-28h6m-37 10h6m96-31h6m-37 31h6m-194 74h6m185-87h6m-130 24h6m126-22h6m-38-36h6m17 74h6m-19 4h6m32-36h6m-108-1h6m16 49h6m71-108h6m-129 96h6m137-62h6m-40 23h6m-17-15h6m-1 24h6m-25 42h6m-84-32h6m24 34h6m76-98h6m-57 34h6m-89 27h6m103-6h6m-70 11h6m95-1h6m-59-48h6m-99 72h6m54-49h6m-26 10h6m55 12h6m-43 57h6m88-113h6m-44 75h6m-98-27h6m5-18h6m76-12h6m-36 24h6m-4 46h6m-34-65h6m-69 35h6m89-16h6m1066 28h6m-131-55h6m86-5h6m6 103h6m-38-31h6m-13 73h6m11-85h6m-2-32h6m66-15h6m-123 33h6m35 5h6m10-34h6m-15 91h6m1-25h6m-27-23h6m-40-58h6m26 74h6m100-32h6m-125 0h6m-34 29h6m106-43h6m-94 38h6m43-16h6m-25-1h6m-47-17h6m-99 66h6m137-88h6m95 30h6m-9-39h6m-114 53h6m74 7h6m-130-6h6m-69 20h6m173-36h6m77-30h6m-180 19h6m57 50h6m-118-38h6m77-11h6m39-20h6m-50 29h6m17 34h6m-123-52h6m-3 43h6m94-11h6m2-15h6m-135 22h6m116-62h6m-51 41h6m46-32h6m-126 59h6m86 3h6m-35-22h6m-3-8h6m122-110h6m-74 78h6m-43-9h6m8 17h6m36 50h6m-139-41h6m167 45h6m-111-84h6m-67 114h6m175-98h6m-172 99h6m-25-49h6m36-14h6m59-34h6m-9 64h6m51-13h6m-120-51h6m45 40h6m-6-19h6m-3-20h6m43 67h6m-62-32h6m28 3h6m-13-8h6m-42 55h6m-63 7h6m7-25h6m-31-52h6m-5 17h6m133-39h6m-126 32h6m41 12h6m21-31h6m-101 54h6m121-22h6m-125 6h6m69-30h6m-98 57h6m55-19h6m56-46h6m-122 34h6m111-17h6m-10-12h6m-9-3h6m-80 42h6m21-17h6m16 28h6m-74-57h6m91 74h6m1-95h6m-18 74h6m26 10h6m-53-122h6m-2 59h6m-101 6h6m-13 43h6m144-9h6m-29 12h6m-87-33h6m138-14h6m-132 55h6m-21 30h6m-58-44h6m61-15h6m-56 51h6m93-61h6m-13-13h6m15-11h6m-119 53h6m50-4h6m57 18h6m-153-46h6m115 44h6m23-53h6m-79 21h6m110-39h6m-99 3h6m39 16h6m-75 21h6m31 77h6m17-70h6m-104-27h6m-77 51h6m134-26h6m-95 45h6m50-6h6m1-35h6m-40-10h6m50 18h6m21-49h6m-107 71h6m129-76h6m-103 36h6m51 22h6m-83 12h6m130-45h6m1048-465h6m48 33h6m53 93h6m-78 0h6m44-9h6m-20 27h6m-75 52h6m132 0h6m-103-30h6m-83-105h6m6 16h6m105-17h6m-101-48h6m-10-11h6m96 105h6m-3 107h6m-36-72h6m-28-53h6m-155 42h6m89-82h6m2 68h6m76-68h6m-132 144h6m111-19h6m-59-152h6m97 183h6m-130-58h6m103 145h6m2-134h6m-98-70h6m5-15h6m39 57h6m-62-80h6m17 47h6m12-42h6m12 58h6m75-45h6m-3 256h6m-134-59h6m70-226h6m-115 156h6m51-9h6m2 41h6m-48-175h6m-34 72h6m-21-1h6m38-20h6m5-5h6m61 34h6m-21-107h6m-54 67h6m-134 175h6m35-85h6m128 23h6m-83-258h6m63 171h6m-4-4h6m35 48h6m-111 131h6m-22-320h6m40 186h6m24-70h6m-44-21h6m-32 105h6m-13 3h6m12-44h6m-11 74h6m22-135h6m-5 137h6m2-156h6m-72 2h6m131 84h6m-38 44h6m-84 19h6m8-54h6m-130-30h6m97-48h6m34-35h6m-38-90h6m-3 128h6m120 62h6m-80-218h6m-73 123h6m107 148h6m-83-56h6m-8-15h6m29 44h6m-58-91h6m109 20h6m-158 192h6m49-171h6m-101-62h6m172 51h6m-20-53h6m-27 87h6m-85-133h6m109 134h6m-94 53h6m-69 38h6m112-59h6m-19-85h6m-55 77h6m-28 64h6m81 3h6m-157 11h6m59-162h6m7 153h6m43-71h6m31 47h6m2-9h6m-61-30h6m-114-47h6m-61 4h6m143-47h6m-47 126h6m5-72h6m140 21h6m-70 8h6m-29 48h6m-57-28h6m-24-81h6m65-14h6m-215 26h6m245-55h6m-51 44h6m-142 3h6m-57 104h6m116-57h6m18-129h6m-31 184h6m71-108h6m-105 20h6m-43 23h6m-28-70h6m154 52h6m-103 10h6m19 7h6m81-24h6m-185 36h6m52 51h6m108-81h6m-39-100h6m-147 78h6m127 117h6m-70-157h6m-18 12h6m60-47h6m31 8h6m91 82h6m-145-106h6m6-17h6m30 87h6m-44 80h6m37 58h6m7-42h6m-117-130h6m80 101h6m-87-26h6m88 66h6m-105-153h6m-90 59h6m97-60h6m82 223h6m-123-80h6m36-12h6m12-45h6m44 55h6m-93-15h6m-18-36h6m71 35h6m-144 8h6m17-25h6m116-119h6m-120 160h6m83-200h6m35 101h6m-143 60h6m29-15h6m51 165h6m37-150h6m-59 6h6m19-67h6m-5-4h6m-75 41h6m96 63h6m-261 27h6m187-78h6m84-55h6m-167-87h6m-14 193h6m17-129h6m71 2h6m-80 14h6m68 7h6m-64 35h6m-92-5h6m-4-65h6m79 90h6m7 64h6m18-33h6m-44-84h6m132-69h6m-39 61h6m-38-37h6m-17 111h6m-173-66h6m170 114h6m-28-109h6m-28-50h6m-66 105h6m57 33h6m6-9h6m-24 2h6m157-109h6m-153 36h6m17 64h6m-89-21h6m59-18h6m1 103h6m13-112h6m-29 155h6m-61-60h6m-9-187h6m-7 133h6m23-71h6m-41-18h6m-24 24h6m-97 71h6m171-23h6m34-48h6m-65-138h6m6 152h6m21 85h6m-56-145h6m26 145h6m31-94h6m-123 17h6m-14-130h6m84 178h6m12-89h6m-50-25h6m-99 116h6m-28-56h6m261 107h6m-113-42h6m-62-82h6m136 27h6m-173 60h6m29 44h6m-43-146h6m9 167h6m79-92h6m-59 6h6m-74 12h6m25-19h6m27 5h6m-37 44h6m47-118h6m-1 30h6m-9 82h6m-62-61h6m30 5h6m119 22h6m-208-17h6m32 160h6m-12-243h6m82 40h6m-78 20h6m-24-12h6m-103 21h6m175 136h6m-43-72h6m-56 44h6m184-77h6m-171-19h6m115-89h6m-23 17h6m-140 87h6m88 48h6m44-144h6m-93 131h6m7 24h6m-21-97h6m-151-109h6m187 50h6m-37 124h6m-33 24h6m-40-29h6m28-142h6m-126 88h6m225 94h6m-79-26h6m21-71h6m20 35h6m-122 247h6m69-274h6m0-75h6m-133 216h6m112-207h6m-150 67h6m31 98h6m-63-7h6m51-172h6m62-1h6m-46 49h6m-125-44h6m172-62h6m-116 80h6m141 127h6m31-131h6m-50 84h6m-143 19h6m78-82h6m-76-67h6m96 144h6m-57-58h6m-26 80h6m46-177h6m-14 157h6m-50-66h6m-5 77h6m6-46h6m26 110h6m-110 55h6m14-178h6m20 24h6m82 154h6m36-210h6m-69 56h6m-64 33h6m55-73h6m-68 81h6m31 34h6m58-168h6m-199 88h6m87-76h6m-9 174h6m26 32h6m59-255h6m-27 226h6m-151-193h6m103 50h6m111-22h6m-5-37h6m-173 121h6m84-12h6m65 117h6m18-134h6m-77-12h6m30-144h6m-142 148h6m5 127h6m-65-170h6m6 55h6m14 69h6m111-214h6m-203 205h6m158-169h6m-33 25h6m48-6h6m-99 126h6m38 41h6m18-179h6m-18 25h6m73 191h6m-26 43h6m-28-50h6m3-42h6m-11-42h6m56-97h6m-227 23h6m200 35h6m-163-41h6m78 56h6m42-19h6m-25-38h6m-30 274h6m-54-222h6m70-61h6m-99 32h6m40-58h6m71 106h6m-87-21h6m-20-151h6m79 100h6m-35 51h6m-74 46h6m118-41h6m-154 39h6m-129-93h6m90 35h6m-30 84h6m63-49h6m15-32h6m-50 113h6m91 14h6m-71-86h6m28-42h6m-32-91h6m-81 49h6m-3 95h6m93-2h6m-47 43h6m71-31h6m-88 68h6m-62-223h6m-13 199h6m85-126h6m-164 26h6m81-131h6m130 149h6m13-3h6m-60-48h6m-2 21h6m-6 43h6m-117-13h6m76-51h6m-24 114h6m82-60h6m-235 48h6m262-69h6m-182 38h6m64 40h6m-61 61h6m95-194h6m2 63h6m-28 34h6m-48-3h6m-37-74h6m6 32h6m35 33h6m-137 45h6m97 2h6m41-41h6m-14-120h6m59 236h6m-66-171h6m-2 12h6m55-7h6m-187-27h6m21 109h6m39-31h6m-25 73h6m17-77h6m96 5h6m-142-37h6m101 43h6m-130 56h6m-50-233h6m25 18h6m45 135h6m-11-43h6m-57 105h6m-65-14h6m138-56h6m6-104h6m29 145h6m2-180h6m-62 135h6m-172-14h6m147-32h6m16 94h6m-60-64h6m73-44h6m-24 162h6m-40-67h6m-3 31h6m-105-177h6m36 77h6m113 138h6m-32-8h6m-70-125h6m-80 119h6m129-84h6m-128-69h6m113 71h6m33 13h6m-123-96h6m40 197h6m123-166h6m-102 1h6m-22-147h6m-64 71h6m129 99h6m-70 30h6m-123 41h6m151-28h6m-41 62h6m-4-86h6m-149-51h6m50 113h6m131-51h6m-28-169h6m-53 85h6m38 171h6m6-32h6m-5 70h6m-113-15h6m7-205h6m55 150h6m-24-98h6m13 29h6m114 41h6m-138-60h6m6 153h6m-91-142h6m-84 19h6m222-78h6m-136 30h6m1-2h6m-12-25h6m31 146h6m29-198h6m30 180h6m-17-111h6m-119 108h6m146-113h6m-101 97h6m-47-7h6m-16 66h6m-78-68h6m66-26h6m-32-205h6m151 260h6m-77-53h6m-13-19h6m-18 119h6m-54-157h6m156 26h6m-112 23h6m18 56h6m-37-112h6m-75 73h6m173-130h6m-131 157h6m-36-17h6m24 39h6m108-77h6m-94 53h6m-15-31h6m-155 6h6m63-37h6m91 69h6m-64-72h6m5-41h6m112 194h6m-118-9h6m56-187h6m3 121h6m-55-147h6m-55-59h6m30 139h6m-76-67h6m152-18h6m-45 113h6m27-121h6m-79 200h6m-24-185h6m-121 49h6m186 155h6m-68-44h6m55-20h6m-125 9h6m-17-43h6m111 68h6m-65 4h6m100-11h6m-107-46h6m-1-17h6m40 72h6m-52-24h6m9-41h6m-85 16h6m50-6h6m66 32h6m-25-88h6m-155 8h6m96 40h6m82 8h6m-1-49h6m-168 88h6m-9-169h6m31 132h6m100-23h6m-18-2h6m-169-75h6m-9 62h6m-33-85h6m74 161h6m82-89h6m-28 9h6m157-98h6m-312-18h6m32 108h6m145 7h6m-84 6h6m23-54h6m22 60h6m-31 41h6m14 16h6m-98-22h6m-49-177h6m68 172h6m49-4h6m17-146h6m-95 106h6m-23 38h6m83-1h6m-36 137h6m-8-157h6m66 124h6m-141-193h6m138 145h6m-37-94h6m-18-79h6m-121 203h6m-13-117h6m114 32h6m-116-62h6m101 11h6m61 20h6m5 8h6m-44 31h6m-79-122h6m26 97h6m-20-42h6m-89-30h6m47 128h6m-22-138h6m-37-3h6m-57 51h6m55 2h6m155 89h6m-33-62h6m-81-56h6m-134-54h6m82 141h6m160-38h6m-245-20h6m123-54h6m-69 114h6m32-4h6m-9-31h6m78 63h6m-77-25h6m-25-39h6m24 18h6m130 4h6m-140 129h6m-91-137h6m133 7h6m-88-71h6m-2 8h6m59 87h6m-91 41h6m-52-138h6m106 78h6m-126-70h6m52 7h6m22 36h6m11 3h6m-14-25h6m-4 53h6m14 0h6m-75-28h6m100-14h6m-83 126h6m30-61h6m-102-108h6m67 205h6m-137-258h6m142 131h6m-103 44h6m68-94h6m-24-4h6m19-11h6m-97-1h6m88 124h6m-69-145h6m53 144h6m-49 27h6m-31-5h6m87-211h6m-16 99h6m-51-34h6m7 5h6m1 116h6m71 3h6m-37-45h6m-73-105h6m70 46h6m-58-63h6m10 186h6m-39-33h6m-10-49h6m-26-192h6m46 213h6m8 82h6m15-83h6m-105 165h6m-49-222h6m48 98h6m46-36h6m-137-71h6m169 1h6m-149 48h6m35-14h6m54-66h6m-31 158h6m-20-106h6m-25 38h6m62-82h6m-30 172h6m-117-45h6m154-171h6m-167 65h6m185-6h6m-91 51h6m-14 128h6m17-215h6m-5 123h6m-93-31h6m24-102h6m-25 144h6m40-167h6m51 91h6m-239-53h6m31 31h6m318 182h6m-163-197h6m-98 7h6m84 137h6m-18 0h6m-17-229h6m22 213h6m12 6h6m-102-94h6m54 43h6m29 43h6m-68-140h6m-9 59h6m-6-50h6m79 131h6m1-14h6m-35-84h6m-66 51h6m-98-3h6m-14 109h6m160-169h6m-48 8h6m94 111h6m-98-110h6m26 53h6m-46-53h6m-102-59h6m46-18h6m-19 234h6m55-75h6m-45 45h6m40-37h6m56-25h6m47-94h6m-150 98h6m9-3h6m138-52h6m-127-15h6m-75-95h6m76 227h6m-34-13h6m-93-96h6m69 63h6m7-13h6m85-113h6m-108 102h6m-41-1h6m-76-95h6m89-55h6m148 252h6m-63-71h6m-28-76h6m-79-122h6m68 128h6m-192-45h6m152-54h6m-71-39h6m-4 144h6m-129-48h6m175 27h6m60 86h6m-27-145h6m-139 108h6m87-60h6m-53-30h6m-23 94h6m117 12h6m-41-34h6m-30 62h6m-96 1h6m90 3h6m-16-117h6m-174 79h6m-98-51h6m78 16h6m-23-31h6m26 26h6m64 36h6m-68 49h6m-6-50h6m49 58h6m-66-134h6m-24 110h6m-51-51h6m64-69h6m49 73h6m-126-44h6m80 139h6m-12-69h6m-27 83h6m59-187h6m-61 127h6m-16-7h6m32-79h6m21 62h6m-15 7h6m-57 62h6m14 14h6m4 35h6m-66-122h6m-5-69h6m35-22h6m-18 161h6m21-106h6m-40 72h6m73-56h6m-69 43h6m-19-8h6m14 56h6m-44-72h6m35-47h6m-36 41h6m-55-27h6m8-1h6m14 1h6m54 100h6m0-118h6m-28-27h6m4 116h6m-46-41h6m45 40h6m-66-84h6m-55 22h6m41 19h6m44-80h6m-63 61h6m-43 8h6m42 32h6m45 19h6m-46-26h6m14 47h6m-95-75h6m41 20h6m72 6h6m-46-52h6m2 54h6m-63 23h6m17-159h6m6 151h6m22-22h6m-28 30h6m21-143h6m-62 111h6m22 42h6m40-39h6m-65 90h6m-27-104h6m119 42h6m-68-36h6m21 169h6m-45-182h6m31 124h6m-40-158h6m-7 3h6m21 33h6m-25 17h6m7-122h6m-27 128h6m-8-95h6m40 46h6m-45 8h6m-34 4h6m-68-11h6m121-29h6m-57-36h6m36 22h6m-104 71h6m68-67h6m-34 107h6m-1-75h6m13 109h6m75 10h6m-180 1h6m113-58h6m-21 48h6m-47-136h6m-6 110h6m-19-76h6m-37 69h6m3-44h6m9 88h6m69 58h6m-80-191h6m36-22h6m-39 119h6m18 10h6m-41-76h6m21 76h6m48 21h6m-50-112h6m-29 42h6m-55-55h6m94 212h6m70-71h6m23 59h6m-48 34h6m12-101h6m-45-21h6m43 76h6m6-34h6m-87 106h6m72-150h6m2 43h6m12 71h6m-88-43h6m11-157h6m27 153h6m-3-147h6m-8 166h6m-77 113h6m69-169h6m-69 89h6m95-4h6m-92 75h6m-12-28h6m43-84h6m-56-26h6m17 114h6m-8-132h6m49 111h6m-55 13h6m-2 34h6m-17-149h6m-19 50h6m17-41h6m-32-43h6m-7 171h6m7-152h6m-24 12h6m15-5h6m44 1h6m-62 133h6m3-11h6m-12-28h6m85-99h6m-69-11h6m-28 25h6m0-31h6m-93 104h6m80 42h6m-2-70h6m-48-87h6m33 12h6m43 152h6m-39-11h6m-30-103h6m91 17h6m-50-33h6m-40 97h6m-88-139h6m32 68h6m24-24h6m-37-16h6m-18 82h6m14-86h6m-32 17h6m-23 59h6m73-90h6m-43 57h6m47-23h6m-51-17h6m-31 22h6m162 106h6m-122-50h6m-80-74h6m84 59h6m8-1h6m-28 7h6m-6 15h6m16-53h6m-58-10h6m3 68h6m-3-142h6m-37 83h6m9-6h6m-8 92h6m32 30h6m-93-146h6m8 121h6m72-93h6m-55 50h6m67 76h6m-83-39h6m12 42h6m104-62h6m-85-185h6m-7 51h6m-52 153h6m-46 88h6m36-93h6m-6-6h6m-8-44h6m-75 60h6m113-78h6m-45-44h6m-23 79h6m35 30h6m28 15h6m-36-38h6m-30 53h6m-27-121h6m37-38h6m-33-5h6m-27 299h6m-37-150h6m35-127h6m-41 104h6m38-35h6m74-82h6m-156 89h6m133 2h6m-4 58h6m-36 66h6m6 56h6m-5-37h6m-10 2h6m8-12h6m31 6h6m-82-41h6m-77 77h6m79 35h6m-46-77h6m40-51h6m-25 31h6m-119 24h6m110 15h6m-20-24h6m18 29h6m7 37h6m2-84h6m-67 22h6m44 44h6m39-43h6m-100-5h6m-16 92h6m20-80h6m74-33h6m-67 56h6m-90-26h6m203-21h6m-211 44h6m76 8h6m-24-50h6m21 63h6m-51-55h6m-36-26h6m108 42h6m-58 14h6m39-34h6m-87 77h6m-57-28h6m142 6h6m-68-28h6m-10-5h6m11 47h6m20 0h6m-24-59h6m-12 83h6m-30-28h6m-24-8h6m7-36h6m-29-2h6m54 46h6m-20-67h6m-21-47h6m23 141h6m-119-40h6m143 16h6m-19-69h6m30 51h6m-96-15h6m-31-3h6m71-56h6m2 46h6m-46-16h6m13 8h6m-57-28h6m15 31h6m30 3h6m-48-6h6m-28 2h6m36-39h6m-71 78h6m104-37h6m-48 72h6m-15-83h6m4 47h6m-29 2h6m-11-20h6m-9-82h6m60 73h6m-40-1h6m903-246h6m143-54h6m-120 3h6m134 9h6m-257-66h6m142 71h6m-92 14h6m-14 12h6m261 15h6m-188-31h6m-113-104h6m43 3h6m32 41h6m-22 83h6m56-98h6m-74-20h6m132-4h6m-184 145h6m14-85h6m96-96h6m-54 149h6m-6-23h6m-127-42h6m62 3h6m-119-46h6m201 17h6m-10 126h6m-30-85h6m40-54h6m-133-21h6m-58 157h6m11-97h6m45-20h6m-1 12h6m67 2h6m1 9h6m-85-9h6m224-37h6m-223 90h6m80-89h6m-194 37h6m243 67h6m-138-74h6m-25 10h6m-131-81h6m126 198h6m46-203h6m-163 82h6m4 18h6m29-55h6m-78 63h6m179 15h6m35-26h6m58-45h6m-60 30h6m-141-27h6m107 60h6m59-56h6m-103-11h6m18 137h6m-168-32h6m-14 21h6m129-40h6m-149 48h6m115-107h6m116-6h6m-147 10h6m-70 77h6m278-90h6m-27 113h6m-219-43h6m263-49h6m-288-44h6m278 138h6m-319-93h6m157 8h6m48 24h6m3 17h6m-115-62h6m1 80h6m-216-32h6m310 49h6m-96-71h6m-166-53h6m74-2h6m43 37h6m-59 92h6m52-24h6m-214-26h6m87 66h6m-68-138h6m234 179h6m-245-148h6m64 108h6m309-44h6m-124-60h6m-235 44h6m69 20h6m10 32h6m13-72h6m115 21h6m42-40h6m-265 61h6m157-69h6m-184-21h6m108 32h6m-119-44h6m162 124h6m108-95h6m-297 48h6m77 18h6m132-52h6m-116-77h6m-172 112h6m399-98h6m-395 32h6m234-56h6m-98 169h6m68-7h6m-170-27h6m195-108h6m-123 35h6m-32 41h6m-83-123h6m-40 28h6m111 134h6m-32-93h6m-12 81h6m38-36h6m-65-10h6m20 69h6m42 7h6m41-48h6m-241-47h6m75 74h6m136-21h6m-66 48h6m-205-53h6m178-80h6m-47 49h6m100 73h6m-103-111h6m170 120h6m-221-121h6m138 35h6m36-22h6m-172 199h6m197-63h6m-72-131h6m71 130h6m-148-114h6m76 17h6m-240 23h6m263-115h6m100 45h6m-345-18h6m123 57h6m-194-6h6m235-25h6m-142 69h6m20-14h6m368 7h6m-350 22h6m155 39h6m-129-159h6m-227 3h6m171-5h6m-140 37h6m109-4h6m242 109h6m-357-32h6m133-87h6m-74 194h6m64-200h6m-20 93h6m32-52h6m-125-37h6m-60 35h6m205 44h6m-74 45h6m53-37h6m-168-69h6m57 89h6m38-67h6m-26 96h6m-29-134h6m80 48h6m119 82h6m-120-84h6m-44 85h6m44-37h6m-74-7h6m89-23h6m-281-24h6m113-122h6m-28 99h6m112 79h6m-3-44h6m-84-8h6m-78 36h6m121 30h6m65-75h6m-82 14h6m23-143h6m-141 248h6m117-18h6m-63-177h6m14 70h6m-68 85h6m257-86h6m46 98h6m-364-24h6m177-43h6m-233 5h6m82 86h6m-22-192h6m163 33h6m111 26h6m-92-13h6m-153 54h6m-30 29h6m-9 43h6m191-159h6m112 123h6m-330-30h6m101 40h6m76 29h6m-243-74h6m77-99h6m-29 27h6m124 55h6m-10 12h6m-34 30h6m-110-46h6m68-14h6m-105 38h6m172 106h6m-46-96h6m-153-31h6m253 142h6m-90-26h6m128 39h6m-96-165h6m-81 100h6m-84-80h6m-35-34h6m-84 94h6m86-54h6m131-12h6m-188-34h6m-7 41h6m38 62h6m27-32h6m-60-139h6m47 164h6m143 27h6m-157-104h6m55 6h6m35 72h6m48-90h6m60-59h6m-219 60h6m24 18h6m130-17h6m-49-25h6m-101 79h6m116-79h6m-228 32h6m72 105h6m98-2h6m67-34h6m-187 33h6m140-47h6m-325-80h6m253 29h6m36 186h6m-90-140h6m75 90h6m67-100h6m-369 2h6m38 26h6m264-52h6m-256 31h6m91-39h6m-32-14h6m-57 73h6m246-76h6m-293 69h6m291 13h6m-24 13h6m-124-72h6m-102 2h6m-129 80h6m73-63h6m167-6h6m-49-44h6m-57 85h6m132-110h6m-92-32h6m-18 105h6m-159 66h6m-5-12h6m-38-32h6m-29-74h6m58 52h6m52-25h6m118-35h6m-108 63h6m-48 4h6m-109 87h6m342-174h6m-231 45h6m145 77h6m50 30h6m-252-80h6m101 35h6m8-138h6m-66 244h6m58-69h6m-8-87h6m4 4h6m91-5h6m-324 50h6m275-51h6m-90 61h6m63-95h6m89 214h6m-142-218h6m102 149h6m-215-188h6m-64 54h6m22 4h6m73-63h6m64 181h6m-88-134h6m54-13h6m74 48h6m-222 25h6m117 69h6m10-104h6m191 52h6m-189 56h6m-104-99h6m-41 116h6m-1-178h6m-54 166h6m260-123h6m-229 157h6m20-131h6m-28 141h6m14-226h6m88 108h6m-56-63h6m-182-26h6m426-6h6m-94 224h6m12-110h6m-13 53h6m-304-66h6m49-149h6m215 94h6m-85-36h6m70 117h6m-152-101h6m-58 58h6m7-69h6m128 92h6m42 35h6m-257-66h6m37-83h6m105 73h6m29-5h6m22 18h6m-60 66h6m173-67h6m-431-107h6m350 226h6m-47-18h6m-133-130h6m177 93h6m-90-15h6m-59-138h6m118 123h6m-216-61h6m178 6h6m-240 41h6m219 51h6m-4-36h6m-111-138h6m-9 75h6m199 25h6m-164 62h6m-162-128h6m257 161h6m-337-95h6m343-21h6m-160 39h6m-49-40h6m-11 40h6m226 152h6m-40-135h6m-287-47h6m242 25h6m-107 74h6m-130-126h6m265 98h6m-65-21h6m-236 41h6m69-41h6m107 8h6m-203-15h6m-22-11h6m90 77h6m-20-98h6m51-99h6m-24 107h6m-69-12h6m111 41h6m22 42h6m69-72h6m-100 7h6m-94-35h6m-80 33h6m228-15h6m-167-43h6m-100-18h6m166-18h6m144 156h6m-177-97h6m90 24h6m112 22h6m-171-55h6m59 83h6m-78 62h6m-143-215h6m-137 55h6m176 35h6m82 91h6m-145-3h6m27-125h6m130 119h6m-3-107h6m67 87h6m-249-42h6m106 6h6m-103 90h6m11-73h6m44-3h6m-192 84h6m358-86h6m-48 5h6m-42-14h6m-270-52h6m105 4h6m-172 12h6m283 60h6m-168 60h6m67-69h6m0-67h6m34-4h6m-142-65h6m125 154h6m-25-59h6m-31 67h6m-34-53h6m91 5h6m-13 44h6m-81 65h6m-40-112h6m99 7h6m-162-10h6m15-9h6m155 66h6m-62-75h6m235 42h6m-40-41h6m-194 118h6m-116-167h6m186 175h6m-16-66h6m-156-18h6m154-28h6m-293 60h6m57-134h6m60 144h6m-93-68h6m345 52h6m-232-89h6m-167 110h6m25-68h6m255-18h6m-146 79h6m30 14h6m105 25h6m-284-91h6m163-13h6m-204-16h6m319 92h6m-220-79h6m55 57h6m-63-88h6m-95 74h6m365 10h6m-151 11h6m-198-28h6m287 50h6m-187-118h6m-69 105h6m6-59h6m90-15h6m-137 30h6m16-47h6m200 83h6m-366-136h6m319 40h6m-11 111h6m18 42h6m-253-171h6m81 32h6m150 67h6m-198-69h6m-50 2h6m-31 125h6m246-104h6m-118 55h6m7 27h6m9 61h6m67-186h6m-197 15h6m304 39h6m-94-71h6m-52 16h6m-124 51h6m-121 123h6m38-158h6m303 109h6m-66-116h6m-127 5h6m-103 132h6m202-127h6m-262 68h6m164-46h6m1-56h6m-120 23h6m214 60h6m-255-63h6m223 84h6m-183-57h6m137 16h6m-115-31h6m-4 86h6m367-34h6m-289-26h6m-153-38h6m31 51h6m230 39h6m-269 13h6m-43-20h6m128-59h6m11 97h6m30-169h6m-285 76h6m164-61h6m101 119h6m47-7h6m56-48h6m-250 53h6m92-116h6m-149 109h6m104-66h6m-56 28h6m-1 36h6m98-62h6m175 78h6m-288 65h6m25-172h6m-158 20h6m77-59h6m15 53h6m175 90h6m-247 12h6m82-165h6m-4 196h6m15-115h6m-6 2h6m48 54h6m-111 22h6m224-8h6m-54 25h6m-167-58h6m180 36h6m-54-116h6m-27-12h6m119 129h6m-122-67h6m-111-33h6m-113 65h6m66-23h6m4 96h6m124 42h6m-133-152h6m42 81h6m-190-22h6m120 1h6m67-37h6m-130-10h6m213-64h6m-119 80h6m-49 16h6m65-5h6m96-8h6m99-83h6m-78 82h6m-322-60h6m68 68h6m36 69h6m-6-92h6m-33 45h6m35 61h6m-67-114h6m6-24h6m-1-7h6m-85-109h6m8 184h6m129-118h6m-219 42h6m69 71h6m100-10h6m-54 35h6m39 103h6m74-131h6m-109-52h6m-99 36h6m162 95h6m-25-37h6m2-64h6m17 49h6m-91-56h6m16-102h6m41 40h6m215 93h6m-238 10h6m-240 48h6m124-13h6m221 11h6m-199-144h6m25 167h6m152-102h6m-282 46h6m212-42h6m-200 90h6m293 10h6m-101-107h6m-64-46h6m143 14h6m-282 22h6m54 108h6m121-121h6m-69 58h6m140-100h6m-247 13h6m71 122h6m-58 71h6m-84-127h6m36-88h6m13 87h6m-32-45h6m67 6h6m103 85h6m-110 16h6m146-100h6m-51 75h6m-100-46h6m-150-90h6m-80 108h6m191 10h6m-133-28h6m256-24h6m-192 6h6m284 115h6m-27 87h6m-249-158h6m-37-20h6m79-124h6m8 102h6m-194-26h6m234 16h6m58 76h6m-166-103h6m-118 113h6m98-44h6m22 38h6m56-66h6m-58 6h6m27-76h6m-108 158h6m-119-128h6m169-17h6m-31 88h6m75-1h6m-58-41h6m-14 41h6m18 31h6m27 0h6m-59-40h6m-98 26h6m203-49h6m-78 15h6m-96-60h6m-24 95h6m81 20h6m-127-191h6m145 141h6m-20 111h6m60-229h6m-198 89h6m241-4h6m-243 89h6m-169-113h6m44-28h6m204 86h6m-76-12h6m-41-4h6m109-32h6m-50 16h6m80 108h6m-36-13h6m-131-91h6m75 10h6m40 11h6m-220-68h6m156 216h6m-2-233h6m4 51h6m-208 180h6m445-119h6m-290-40h6m90 76h6m35-111h6m-176 98h6m57-131h6m-36 146h6m-27 27h6m132-54h6m-127-43h6m-78 13h6m123-88h6m-114-61h6m-127 82h6m228 68h6m-48-32h6m-157 64h6m218-100h6m-132 81h6m-91-78h6m167 71h6m58-19h6m-46 46h6m150-62h6m-233-33h6m64 108h6m123-42h6m-103 17h6m96-1h6m-230 29h6m15-90h6m-210 52h6m351 11h6m-32-33h6m-41 71h6m-129-144h6m2 84h6m118-105h6m69 156h6m-200-116h6m-59 83h6m118 7h6m-237-69h6m174 30h6m-78 16h6m217-66h6m-7 19h6m-259-25h6m188 105h6m34-71h6m-283 148h6m219-253h6m-204 133h6m275 133h6m-293-97h6m100-48h6m-27-57h6m-67 46h6m157-47h6m104 70h6m-78-42h6m-249 103h6m215-163h6m-17 19h6m-23 140h6m-53-70h6m-29 14h6m-85 22h6m32-125h6m82 217h6m92-108h6m-214-39h6m230 97h6m-260-53h6m271 15h6m-162-51h6m-224 66h6m266 15h6m71-41h6m-204 14h6m-88-149h6m87 86h6m-70 37h6m184-27h6m-319-90h6m114 98h6m94 51h6m242-66h6m-128 38h6m-104-18h6m94 79h6m37 78h6m-322-156h6m250 89h6m-37-103h6m171 4h6m-135 17h6m-156 65h6m-70-12h6m112-98h6m-33 73h6m76 58h6m-236-132h6m70-31h6m302 83h6m-269-21h6m-81 72h6m121-83h6m-65 58h6m63 33h6m113-69h6m-267-22h6m123 3h6m18-34h6m-55 87h6m-102 16h6m301-197h6m-303 142h6m178-32h6m-88 135h6m19-113h6m-112 37h6m113 18h6m-44-152h6m-113 99h6m104 59h6m-99 2h6m248 10h6m-91-62h6m-216 35h6m150 47h6m-79-129h6m-91 66h6m-124 52h6m178-62h6m2 93h6m-123-61h6m193 45h6m56-125h6m-287-90h6m130 166h6m52-47h6m39-57h6m67 177h6m-7-44h6m67-120h6m-338 56h6m118-10h6m53 6h6m122 34h6m-271-113h6m186 44h6m-337 5h6m421 65h6m-1 37h6m-11 1h6m-131-227h6m-248 71h6m107 149h6m116-11h6m-310-124h6m188 108h6m41-81h6m-206 95h6m55-63h6m109 47h6m-87-106h6m58 25h6m38-34h6m-72 9h6m297-5h6m-328 60h6m-6-57h6m-58 61h6m274 114h6m45-101h6m-201 94h6m47-58h6m-60 33h6m-77-38h6m-41 23h6m159-32h6m-228-26h6m341 4h6m-153-85h6m-179 86h6m218 71h6m-188 47h6m193-19h6m83-121h6m-372-68h6m35 117h6m65-44h6m112 21h6m-68 96h6m-102-91h6m-17 37h6m-44-103h6m215-46h6m118 170h6m-237-79h6m71 52h6m-182-31h6m13-37h6m90 43h6m-38-12h6m-17-14h6m217 123h6m-275-238h6m173 257h6m-119-98h6m25 0h6m-67-26h6m28-12h6m48-61h6m97 97h6m-108-57h6m-270 13h6m187-122h6m165 250h6m-172-76h6m202 27h6m-392-100h6m396 14h6m-372 9h6m146-108h6m189 142h6m-199-11h6m19 78h6m-33-119h6m67 60h6m25-66h6m-37 83h6m-181-18h6m106 63h6m199-47h6m-332-50h6m27-43h6m236 102h6m-180-111h6m41 146h6m45-61h6m-51 63h6m72-62h6m-81-19h6m109-34h6m-108 46h6m-207-38h6m170 92h6m48-60h6m30-120h6m-150 65h6m89 157h6m23-42h6m3 38h6m-226-86h6m31-53h6m168 93h6m-102 7h6m12-70h6m-2 12h6m119 69h6m-179-88h6m-19 41h6m90 5h6m-172-26h6m58-72h6m65 48h6m41 51h6m-66-2h6m35-31h6m-138 49h6m191 21h6m-212-135h6m120 118h6m-27 13h6m-122-42h6m-102-88h6m84 89h6m50-29h6m165-21h6m1-19h6m38 2h6m-297 55h6m298-101h6m-66 167h6m-65-154h6m-173 93h6m321-75h6m-351 87h6m47 3h6m28-66h6m26 71h6m82-34h6m76 100h6m-59-176h6m-179 54h6m121 101h6m-135-16h6m-69-59h6m84-26h6m188 10h6m-149 111h6m30-179h6m-165 38h6m141 58h6m-223-102h6m37 69h6m186 5h6m8 3h6m-62 92h6m85-109h6m-143 86h6m38-103h6m53-28h6m-36 42h6m-6 158h6m1-190h6m-237 49h6m165-72h6m-45 75h6m-72-15h6m181-16h6m94-1h6m-299 89h6m83-97h6m-70 61h6m30-50h6m-135-65h6m156 12h6m-29 145h6m63 5h6m-129-39h6m55 15h6m-81-44h6m233 25h6m-82-35h6m-131 60h6m105-103h6m80 91h6m-305 27h6m220 108h6m93-249h6m-5 106h6m-185-10h6m118-29h6m-193 41h6m153-92h6m98 62h6m53 109h6m-239-60h6m-105-46h6m-98-85h6m195 120h6m99 41h6m21-93h6m-135-22h6m15-66h6m-121 179h6m119-113h6m48 62h6m-88-46h6m-120 10h6m125 15h6m155 14h6m-149 62h6m73-189h6m-118 49h6m-98 110h6m274-6h6m-226-75h6m214 77h6m-112-33h6m20-12h6m-264-13h6m72-84h6m-158 42h6m179 160h6m-35-154h6m50 95h6m-139-75h6m280 138h6m-226-218h6m58 93h6m131 79h6m-117-113h6m27 2h6m-159 35h6m326 138h6m-49-206h6m-109 42h6m-30 96h6m28-89h6m-213 63h6m266-63h6m-257 16h6m24 67h6m184 9h6m-191-118h6m22 63h6m130 30h6m-145-3h6m131-29h6m-215 17h6m219 33h6m-236-36h6m129-27h6m-33-20h6m-70 44h6m71-4h6m-140-5h6m319-48h6m-184 47h6m11 45h6m-107 0h6m146-56h6m-16 89h6m94-74h6m-74 6h6m-204 125h6m216-74h6m-154-46h6m-35 97h6m-7-109h6m160 4h6m-4 24h6m-120-26h6m-233 34h6m296-7h6m-48-86h6m-20 4h6m-81-23h6m5 130h6m97-105h6m-169 103h6m67-7h6m212 28h6m-303-218h6m297 79h6m-359 17h6m111 77h6m-36-90h6m169 11h6m213-6h6m-324 123h6m4-163h6m-27 157h6m-72-164h6m75-23h6m41 172h6m-35-113h6m90 156h6m13-102h6m-81-23h6m76 22h6m-289-12h6m197 25h6m-85-58h6m18 53h6m-7-4h6m-20-41h6m216-28h6m-204 147h6m-219-186h6m257 273h6m50-170h6m-193-28h6m-92-11h6m243 41h6m-72 60h6m-119-80h6m94-16h6m-24 83h6m-1-134h6m14 88h6m-36-60h6m-1 62h6m-77-45h6m47-61h6m34 84h6m91-69h6m-192 108h6m84-34h6m75 4h6m-61 20h6m-90-49h6m-57 8h6m111 8h6m-170 55h6m130 8h6m-19 65h6m76-72h6m-37 36h6m-43-18h6m-50 45h6m22-276h6m73 176h6m-105 50h6m5-116h6m73 114h6m-127 8h6m-173-68h6m310 112h6m-44 4h6m-14-95h6m-29 148h6m217-99h6m-198-9h6m-226-79h6m181 1h6m-46-30h6m-5 127h6m12-8h6m-24-95h6m32-53h6m-114 73h6m12 42h6m-33 29h6m179-30h6m-168-86h6m135 62h6m225 85h6m-144-114h6m-176 9h6m-48 7h6m78 83h6m13 43h6m-142-64h6m-11-62h6m200 62h6m-100-24h6m37 64h6m-3-97h6m17 25h6m-70 5h6m71 11h6m-148-107h6m-121 92h6m67 36h6m75-27h6m-27 128h6m118-105h6m-24-169h6m-200 190h6m248-92h6m-385-64h6m283 89h6m58 3h6m-103 35h6m-45-60h6m-65 10h6m62 74h6m5-88h6m-134-24h6m157 65h6m102-5h6m-213 71h6m155 2h6m-251-93h6m159 29h6m-40 49h6m-24-61h6m6-66h6m72 179h6m-186-37h6m311-139h6m-349 3h6m32 8h6m-18 20h6m157 80h6m-71-109h6m71 100h6m-157-26h6m-37-67h6m129 38h6m107 15h6m-110 65h6m-207-45h6m306-22h6m-9-52h6m-230-34h6m274 52h6m-125-58h6m39 22h6m-190-87h6m-89 198h6m-22 36h6m416-67h6m-416-47h6m189-80h6m-121 119h6m130-109h6m-72 112h6m129 24h6m-12 15h6m-240 110h6m185-132h6m-136 67h6m54-53h6m14-41h6m-214-44h6m378 82h6m-284-92h6m-28 26h6m64 117h6m54 20h6m-234-132h6m-26-120h6m243 44h6m-30 52h6m111 134h6m-324-54h6m178 2h6m-69 36h6m178-60h6m-297-165h6m283 179h6m-285-93h6m470 33h6m-284 120h6m234-37h6m-214-109h6m-16 68h6m-183-83h6m259 157h6m169-69h6m-258 102h6m-150-140h6m258 0h6m-197 30h6m103 75h6m-203-24h6m65-56h6m35 67h6m-33-30h6m-74-120h6m-56 97h6m137 6h6m-170-70h6m232 432h6m33-47h6m-110 40h6m13-35h6m-14-43h6m-1 34h6m-55 52h6m57 7h6m52-68h6m-55 3h6m-5 17h6m10 11h6m-15-33h6m-77 26h6m50 14h6m-23-13h6m-20 4h6m22 1h6m112 13h6m-117-17h6m0-10h6m-4 2h6m-9 30h6m34 23h6m-26-40h6m71-57h6m-94 59h6m11-35h6m-48-24h6m-12-14h6m48 52h6m-80 48h6m35-73h6m13 15h6m-103 17h6m134-54h6m-86 73h6m24 6h6m-28 13h6m5-42h6m-3267 1170h6m-38 7h6m-30 3h6m-18 35h6m45-79h6m-23 54h6m-27 16h6m9-14h6m-20 9h6m57 26h6m38-66h6m-71 22h6m-15-50h6m3 63h6m-17-40h6m-77 12h6m147 4h6m-26-17h6m-104 6h6m42-14h6m-36 72h6m81-65h6m-29 17h6m-34-24h6m-2 36h6m-1 1h6m-16 8h6m-45 9h6m-13-3h6m7-24h6m-11 5h6m52-24h6m-15 32h6m75-19h6m-155 4h6m50 19h6m-34 21h6m-82-43h6m63 37h6m61-36h6m20 0h6m-66 46h6m-2-56h6m-9-5h6m33 5h6m-117 76h6m74-71h6m-7 29h6m-18-6h6m36-31h6m-35 63h6m-37-47h6m23 28h6m-53-11h6m17 38h6m62-58h6m-23-34h6m-75 64h6m70-69h6m-40 40h6m-29 18h6m-30 40h6m8-31h6m-37-13h6m-18 55h6m172-97h6m-88 76h6m-62-21h6m-4 13h6m44-13h6m3-54h6m-66 52h6m43-25h6m2 18h6m-56 1h6m-15-26h6m79 41h6m-58 16h6m53-76h6m-89 31h6m64 19h6m-90-37h6m39 50h6m-1-32h6m-88 45h6m45-33h6m10-17h6m-48 28h6m70 11h6m-62-45h6m101 11h6m-127 13h6m42 22h6m-10 1h6m-11-49h6m-15-19h6m-24 61h6m-21-17h6m-23 14h6m-27-1h6m97-41h6m7 17h6m-26-20h6m-38 5h6m-30 21h6m63 23h6m-86 28h6m-74-59h6m190 6h6m-79 3h6m-31-48h6m35 26h6m-119 64h6m122-27h6m-4-38h6m-20 10h6m-14 48h6m-59-84h6m-4 22h6m-8 71h6m1111-63h6m-52 12h6m114 39h6m-178-18h6m53-25h6m62 4h6m-83-17h6m-57 58h6m-16 22h6m65-21h6m28-22h6m-12-28h6m-51 24h6m37 11h6m-18 18h6m-34-48h6m-17 16h6m107-7h6m-61-2h6m-20-21h6m110 0h6m-68 37h6m-67-9h6m-48 17h6m16-50h6m19 6h6m-1 80h6m56-111h6m-64 64h6m72 11h6m-98-26h6m19 15h6m-112 34h6m71 4h6m32-47h6m1-12h6m-34 21h6m-95 45h6m126-51h6m-16-41h6m-41 36h6m-35-14h6m-30 34h6m-16-2h6m-4 19h6m144-56h6m-120-1h6m-20 53h6m28-34h6m-108 17h6m100-36h6m23 15h6m-78 67h6m-96-21h6m43-16h6m103 0h6m-24-30h6m-21-18h6m-9 49h6m14-10h6m-42 11h6m-2-37h6m-85-5h6m39 27h6m42-24h6m-61 47h6m74-25h6m-17-22h6m4 22h6m13-25h6m-91 62h6m80-60h6m-161 40h6m146-52h6m-66 64h6m18-34h6m-43 21h6m38-9h6m-94 46h6m161-77h6m-105 53h6m57-68h6m-62 41h6m-48 8h6m97 14h6m-146 17h6m1-31h6m90-45h6m-15 17h6m4-25h6m58-14h6m-134 40h6m99 0h6m-55 43h6m-83-28h6m63-22h6m-29 22h6m-1 9h6m-40 31h6m34-56h6m-24 30h6m15-2h6m63-38h6m-146 59h6m74-33h6m-34-31h6m3 38h6m10 27h6m55-104h6m12 11h6m-90 123h6m77-73h6m-137 28h6m60-48h6m-14-6h6m51 9h6m-101 68h6m74-27h6m-126-5h6m46-43h6m1231-273h6m24 127h6m-86-151h6m-8-60h6m130-35h6m-90 280h6m-6-55h6m-71-179h6m-23 202h6m64-237h6m-34 210h6m-62-46h6m81-96h6m13-55h6m-63-93h6m62 6h6m-63 66h6m97-189h6m-111 278h6m25-1h6m28-4h6m-78 29h6m32 9h6m-16 96h6m78-233h6m-164 330h6m79-454h6m-33 274h6m60 10h6m-32-22h6m47-194h6m-87 198h6m-12 96h6m-78 0h6m133-248h6m-72 110h6m-106-5h6m81-56h6m-86 88h6m141 135h6m1-99h6m7-199h6m-96 121h6m27-35h6m-35 150h6m-60-38h6m57-10h6m9-9h6m-42 70h6m67-24h6m-84-111h6m11 243h6m42-150h6m42-194h6m-110 144h6m-16-279h6m-46 299h6m83 4h6m-43 69h6m53-168h6m-72 270h6m17-343h6m-35-93h6m-54 356h6m102-71h6m20-128h6m-76 75h6m92-49h6m-136-65h6m120 106h6m-146 24h6m110-104h6m-72-32h6m-64 56h6m95 125h6m-15-224h6m-33 264h6m65-162h6m-127 151h6m38 59h6m38-27h6m-13-258h6m-1 106h6m2 10h6m1-46h6m-57 171h6m94-234h6m-84 156h6m-7-29h6m0-46h6m-19 204h6m-110-16h6m37-193h6m-2 114h6m28-5h6m-81-77h6m131 22h6m-99-4h6m110 114h6m3-202h6m-72 25h6m-8-42h6m-66 243h6m-22-73h6m65-130h6m26 89h6m-5 210h6m-1-269h6m-50-148h6m12 117h6m96 21h6m-138-63h6m15 45h6m-114 170h6m96 75h6m30-176h6m8-3h6m2 6h6m-21-201h6m-72 226h6m27-41h6m26 145h6m-109-139h6m49 233h6m24-278h6m-51 179h6m-117-43h6m189-101h6m1-60h6m-103-111h6m8 224h6m37-190h6m-40 208h6m0 98h6m-63-127h6m42-24h6m-26-8h6m-35-75h6m108 18h6m-83 94h6m23 99h6m-50-168h6m-40 71h6m65-19h6m-70 45h6m18-210h6m20 43h6m32 117h6m-84 85h6m82-125h6m-65-98h6m31 116h6m-11 44h6m9-113h6m-13 69h6m-123-67h6m143 117h6m-69-107h6m32 20h6m-85-116h6m168 139h6m-126 36h6m1 58h6m-2-119h6m-25 33h6m57 204h6m-50-4h6m-29-279h6m-115 164h6m155-205h6m-14 101h6m-41 138h6m30-111h6m-73 105h6m-30-76h6m77 128h6m-112-109h6m68-71h6m43 56h6m-186 27h6m73-6h6m37-133h6m4 139h6m-64 67h6m25-86h6m120-68h6m-95 104h6m18 38h6m-27-103h6m6-56h6m-115 71h6m48 260h6m28-415h6m-25 70h6m49 14h6m-3-10h6m-69 70h6m47-162h6m-6 129h6m65 12h6m-73-92h6m-1 45h6m-45 148h6m-36-325h6m14 241h6m15 128h6m-29-178h6m-45 81h6m104-41h6m-9-50h6m-100 187h6m95-117h6m-118-2h6m-18 29h6m54-150h6m-43 365h6m53-201h6m-90 0h6m-6-136h6m40 304h6m-28-179h6m52-255h6m-27 466h6m50-341h6m-69 135h6m-44-43h6m15-16h6m2 8h6m45-78h6m56-28h6m-102 317h6m73-220h6m-41-84h6m-10-10h6m12 148h6m-101 33h6m6-58h6m-6-89h6m39 279h6m46-83h6m-76-33h6m-5-103h6m-28 108h6m55-243h6m-46 281h6m34-199h6m-40 63h6m27 69h6m-68 25h6m-40-307h6m120 11h6m-1 240h6m-88 94h6m103-111h6m-67-121h6m-83-47h6m107 113h6m16-78h6m-145 122h6m102-102h6m-83 8h6m91 136h6m-56-129h6m-35-11h6m103 82h6m-202-147h6m-16-15h6m-21 268h6m104-246h6m96 100h6m-23 23h6m-102 83h6m80-55h6m7-90h6m6 138h6m-99-76h6m-11 87h6m22-217h6m67 95h6m-139-60h6m69 34h6m-91 248h6m75-163h6m-98-20h6m82-89h6m-91 163h6m3 95h6m-27-222h6m7 95h6m-10 71h6m135-89h6m-68-65h6m31-25h6m-87 130h6m-52 22h6m39-36h6m10-169h6m23 160h6m-23-63h6m14-4h6m-55 218h6m-15-130h6m-6-15h6m-4 52h6m-7-126h6m94 74h6m7-37h6m-147-6h6m69-7h6m-72-172h6m136 116h6m-96 180h6m-73-264h6m87 104h6m-115 105h6m103-45h6m-115 16h6m25-49h6m45 46h6m-26-34h6m34 29h6m-146-120h6m89 214h6m-7-180h6m49-45h6m-4 50h6m-42 102h6m-8 85h6m-7-206h6m-39 314h6m94-326h6m-132 69h6m1-122h6m84 272h6m-23 63h6m-129-181h6m48 105h6m-14-67h6m77 73h6m22 62h6m-32-340h6m-37 332h6m85-375h6m-151 272h6m76-48h6m-14-99h6m-25 280h6m25-377h6m-78 233h6m75-130h6m-90 92h6m51 6h6m-18-22h6m-12-209h6m-55 160h6m101-41h6m46 90h6m-161 78h6m82 95h6m-9-103h6m-59-49h6m39-91h6m18-122h6m-82 141h6m16 103h6m12-14h6m-124 190h6m55-96h6m48-111h6m-28-27h6m-68-43h6m165 140h6m-127-138h6m-4 26h6m72 85h6m-57-302h6m53 372h6m-79-93h6m-8-115h6m161-163h6m-184 283h6m41-36h6m-49 25h6m-26-160h6m72 48h6m-29 207h6m28 8h6m-110-136h6m29 115h6m-24 30h6m17 2h6m11-133h6m-57-62h6m95 226h6m-212 63h6m242-306h6m-80 173h6m-150-142h6m125 14h6m-82-4h6m81 73h6m-116 196h6m40-321h6m71 24h6m-60-10h6m-29 321h6m31-321h6m-61 77h6m97-103h6m-77 125h6m6-131h6m27 237h6m-8-367h6m25 57h6m37 209h6m-67-8h6m5 49h6m-26-57h6m-110 34h6m62-35h6m72-111h6m-118 168h6m17-142h6m-9 123h6m8-46h6m70 50h6m-39-72h6m-29-163h6m-36 283h6m122-167h6m-114 105h6m22-97h6m-137-26h6m76 26h6m25-38h6m12 7h6m-103 101h6m60 13h6m77-200h6m-72 17h6m18-5h6m-188 266h6m99-190h6m45 168h6m2-141h6m80 22h6m-153 39h6m5 10h6m-21 10h6m-38-33h6m109 19h6m-74 220h6m45-329h6m-39 229h6m15-332h6m-5 48h6m1-38h6m59 180h6m-51 2h6m7-32h6m-57-78h6m-42 190h6m94-139h6m-154 137h6m51-171h6m-1 188h6m45-130h6m-102 20h6m123 34h6m-28-10h6m-52 3h6m-29 247h6m43-267h6m-21 34h6m-1 66h6m29-59h6m-153 42h6m97 81h6m-127-87h6m10-80h6m78 103h6m-91-27h6m33-130h6m28 118h6m11-48h6m-11-67h6m-23 96h6m22-152h6m38 164h6m47-47h6m-38-65h6m-27 230h6m66-349h6m-133-42h6m55 365h6m-43-240h6m-19-7h6m-7 14h6m18 318h6m-31-138h6m68 78h6m-79-110h6m61 78h6m26-194h6m-99 159h6m-34 126h6m172-297h6m-172 62h6m22 138h6m100-194h6m-127 157h6m-25-34h6m-46-26h6m56 19h6m-35-142h6m30-61h6m-77 16h6m101 116h6m-23 15h6m73-31h6m-118 127h6m14-59h6m34-132h6m-96 24h6m50 362h6m-71-251h6m-49-65h6m111 45h6m-79-64h6m130 77h6m-120-12h6m-4-69h6m13 46h6m-18 65h6m-32-192h6m98 91h6m-58-11h6m-13-72h6m6 121h6m-58 4h6m124-201h6m-32 142h6m-87 87h6m54-4h6m6-163h6m-102 16h6m40 10h6m-70 185h6m71-217h6m26 290h6m44-388h6m-145 112h6m39 193h6m30-131h6m-20 304h6m-39-111h6m51-403h6m-77 236h6m35 139h6m-34-212h6m-36 93h6m20 31h6m78-123h6m27 88h6m-43 41h6m-29-87h6m-1 75h6m-117-44h6m7 105h6m6 25h6m63-17h6m-79 49h6m37-138h6m55-23h6m-17 142h6m-21-104h6m-73 49h6m-33-20h6m-8 98h6m47-9h6m-46-121h6m15-16h6m-49 119h6m18-51h6m48 111h6m45-332h6m-83 38h6m-33 15h6m67 201h6m0-193h6m-73 179h6m61-186h6m-32 131h6m70-28h6m-224 40h6m211-186h6m-59 302h6m-14-192h6m-17 27h6m-18 170h6m17-188h6m16 24h6m-128 48h6m176-49h6m-74-124h6m-39 116h6m6 41h6m-38 84h6m-1-206h6m56 191h6m-79-211h6m-70 376h6m117-202h6m-11 33h6m79 16h6m-88-109h6m5 75h6m-43-149h6m57-115h6m-86 87h6m5 146h6m26-80h6m-33-78h6m10 68h6m1 311h6m-108-260h6m26-120h6m39 192h6m-35 37h6m33-151h6m59 136h6m-92 12h6m50-97h6m26-155h6m-147 175h6m-32 152h6m65-55h6m23-157h6m-42 144h6m35-312h6m53 189h6m-92 5h6m-14-54h6m19 93h6m-23-106h6m80 147h6m-61-214h6m-57 153h6m-19-93h6m-10 58h6m59 18h6m-44 54h6m-33-78h6m90-205h6m-97 377h6m31-119h6m33 64h6m-80-62h6m-12 34h6m59 63h6m33-392h6m-57 189h6m5 218h6m-2-178h6m-18 145h6m25 29h6m-62-101h6m-8 112h6m-39-310h6m81 305h6m-7-136h6m7 9h6m-97 67h6m-25-38h6m41-19h6m118-148h6m-118 271h6m33-82h6m-108 92h6m8 69h6m29-101h6m62-158h6m-79 173h6m-18-38h6m5-18h6m21-40h6m67-114h6m-103-123h6m170 183h6m-102-2h6m-79-63h6m121 18h6m-177 110h6m74 7h6m-81-42h6m98-75h6m28 27h6m-73 71h6m-57 85h6m-43-128h6m-4 57h6m-40 19h6m49 37h6m-4 74h6m31-208h6m-22-12h6m-58 56h6m-17-32h6m58-19h6m-23 3h6m22 57h6m80-44h6m-60 127h6m14-116h6m73-127h6m-161 173h6m-8-19h6m62-12h6m-61 52h6m7-115h6m-92 122h6m188-156h6m-155 235h6m-2-254h6m64 123h6m23-157h6m-11 82h6m-10 165h6m-93 20h6m42-227h6m-11-41h6m-2 45h6m64 2h6m-30 194h6m-134-115h6m69-42h6m-43 286h6m45-350h6m-54 69h6m151 24h6m-32-109h6m-117 101h6m-15 73h6m43-42h6m-98 26h6m51 60h6m-58 61h6m93-263h6m14 28h6m-91 66h6m3 290h6m-5-197h6m41-80h6m-109 18h6m-36 33h6m24-4h6m133-95h6m-57 203h6m-39-367h6m-20 262h6m-22-34h6m45 88h6m46-28h6m-94-90h6m-60 100h6m207-194h6m-114 215h6m96 162h6m-157-135h6m94-293h6m-60 159h6m69 13h6m-91 179h6m63-293h6m-83 168h6m31-63h6m23-49h6m-108 229h6m45-310h6m76 23h6m-134 153h6m60 68h6m4 3h6m-15-81h6m-41-73h6m100 176h6m-110 18h6m16-61h6m-20-3h6m20-206h6m-32 209h6m-3-95h6m0 23h6m-72-11h6m30-129h6m88 402h6m-152 49h6m22-40h6m7 62h6m-34 1h6m-3-60h6m14 49h6m-15-42h6m-17-8h6m36 40h6m43 6h6m-71-96h6m-9 27h6m-35 34h6m44-2h6m-49 24h6m-69-4h6m127 25h6m-67 12h6m9-10h6m-62-3h6m85-87h6m-56 31h6m-5 39h6m-19-25h6m16-13h6m-31 12h6m20-14h6m-61 20h6m-1 40h6m85-59h6m-122 9h6m42 14h6m19-2h6m10-29h6m55-35h6m-99 69h6m-50-40h6m144 103h6m-65-135h6m-38 63h6m52-15h6m-80 6h6m27-2h6m-3 22h6m-22-6h6m-23 7h6m-78-32h6m80 49h6m-34-33h6m13-17h6m-47 38h6m48-13h6m44-32h6m-139 40h6m41 3h6m-23 31h6m56-70h6m32 3h6m-106 34h6m24 34h6m0 4h6m25-54h6m-3-6h6m-60-7h6m101 66h6m-123-21h6m145-11h6m-38-47h6m-15 9h6m-111 57h6m74-1h6m-79-39h6m53 18h6m52-34h6m-109 37h6m124-121h6m-95 154h6m-28-70h6m-20 58h6m-30-5h6m44-11h6m31-12h6m-32 9h6m-40-34h6m10 38h6m57 10h6m-99-45h6m-21 45h6m-71-20h6m116-5h6m-83 46h6m68-31h6m28-43h6m-45 38h6m-54 24h6m-21 25h6m67-89h6m-29 14h6m32 38h6m-45-12h6m56-40h6m-26-11h6m-41 65h6m36-82h6m-35 92h6m-10-64h6m-3 7h6m33-27h6m-101 73h6m38-25h6m-36 37h6m5-61h6m159-27h6m-164 84h6m-20 17h6m94-61h6m-20 19h6m73 38h6m-236 21h6m110-20h6m-8-37h6m-25 27h6m35-49h6m63 27h6m-89-28h6m-31 83h6m-37-41h6m-17-33h6m18 61h6m-26-92h6m-33 21h6m32 10h6m76-51h6m-113 85h6m126-79h6m-104 100h6m-67-16h6m59-9h6m25-40h6m-42 23h6m-11-16h6m19 11h6m73-29h6m-127 51h6m23 33h6m12-82h6m-51 61h6m-23-51h6m32-6h6m11 27h6m89-9h6m-54-44h6m-42 10h6m-49 31h6m-54-21h6m111 8h6m-80 41h6m25 1h6m-14-4h6m-80 79h6m104-132h6m-114 0h6m45 24h6m6 6h6m-8-47h6m-60 110h6m80-29h6m-80-15h6m31 76h6m-79-82h6m123 7h6m-145 2h6m7 51h6m113-90h6m-83 41h6m40-11h6m-35 41h6m-25-43h6m47 19h6m1079-273h6m11-62h6m-47 98h6m39-211h6m-71 117h6m26 153h6m88-199h6m0 29h6m-49 72h6m-76-95h6m66 124h6m-195 57h6m99-68h6m-56-54h6m44-246h6m115 298h6m-131 109h6m118-47h6m-202 64h6m112-34h6m-105-148h6m-3-39h6m-12-34h6m130 66h6m-96-155h6m23 65h6m56 69h6m-44 3h6m-107-82h6m128 115h6m-162 10h6m157-9h6m-24-43h6m-211-80h6m115 133h6m87 148h6m-73-159h6m56 12h6m-93-10h6m138-15h6m-253 139h6m112-24h6m-40-285h6m-10 49h6m54 141h6m-50 132h6m-59-260h6m89 175h6m-9-128h6m58-113h6m-176 151h6m-51 23h6m100-14h6m35 63h6m0-39h6m-162-31h6m67-36h6m-129-37h6m158 206h6m-70-261h6m90 301h6m49-177h6m-37-38h6m-14 41h6m128-47h6m-120 108h6m-53-19h6m179-132h6m-164 197h6m-96-184h6m-62 266h6m164-217h6m-88 29h6m63-48h6m17 135h6m51-16h6m-57-4h6m27 11h6m-111-99h6m-32 58h6m-24-14h6m-3 9h6m46 17h6m88-15h6m-225 51h6m135-36h6m-22-81h6m-103 100h6m157-185h6m-108-22h6m-93 246h6m111 45h6m-111-113h6m185 67h6m67-41h6m-119 0h6m14-10h6m-60-42h6m46-23h6m-122 120h6m39-109h6m37-15h6m-99 122h6m151-159h6m-108 123h6m102 22h6m-42-99h6m-46 125h6m-106-12h6m96-129h6m22 90h6m-97-54h6m-21-4h6m-29-104h6m140-11h6m-173 49h6m256-41h6m-198 65h6m87-3h6m28 62h6m1 29h6m-110-133h6m-47 92h6m16 63h6m13 21h6m-15-96h6m72 51h6m-9 9h6m-107-15h6m66-9h6m72-185h6m-98 185h6m48-52h6m-60-16h6m-138-28h6m206-34h6m-78-4h6m22 174h6m-53-98h6m-16 73h6m-33-203h6m74 180h6m-69-43h6m-254 25h6m222 55h6m43-106h6m14 48h6m-29 4h6m21 67h6m-13 80h6m43-91h6m-123-64h6m34 30h6m-72-99h6m90 98h6m-32-152h6m-143 169h6m196 65h6m-44-24h6m-154 12h6m143-270h6m52 299h6m-131-208h6m124 111h6m-200-70h6m127 22h6m77-24h6m-68 163h6m-53-47h6m-69 61h6m52-165h6m-11 155h6m-22-231h6m-67 235h6m58-186h6m22 115h6m18-78h6m-40 57h6m-5 3h6m-12-12h6m-111-87h6m186 76h6m-139 82h6m218 127h6m-186-176h6m-71 51h6m140-116h6m-194-33h6m118-56h6m49 123h6m-124 4h6m-26 66h6m42-14h6m130-73h6m-116-179h6m38 238h6m-24-86h6m-84-166h6m39 153h6m1 72h6m0-105h6m35 132h6m-102-151h6m-8-21h6m42 88h6m111 125h6m-182-125h6m16-33h6m88 38h6m-251-1h6m-18 28h6m231-29h6m-181 6h6m189 24h6m-204-91h6m122 93h6m19-59h6m-272 40h6m337 98h6m-241-134h6m68 192h6m74-277h6m-81 265h6m96-125h6m-175-141h6m304 112h6m-284-2h6m261 170h6m-129-174h6m11 166h6m-79-161h6m9 76h6m-59-224h6m168 244h6m-195-34h6m116 68h6m-97-131h6m2 79h6m-165 110h6m150-152h6m-39-63h6m62 41h6m-20-40h6m69 13h6m-50-36h6m12 137h6m-7-117h6m-54 96h6m95-42h6m-72 12h6m-113-122h6m-34 193h6m-68-98h6m55 24h6m68 94h6m39-170h6m29 37h6m-13-7h6m-203 103h6m119 141h6m32-316h6m-52 251h6m16-181h6m-10 56h6m-30-100h6m-75 178h6m310-44h6m-108 21h6m-88-181h6m-25 143h6m-22-54h6m13 33h6m-34-42h6m9 67h6m25 8h6m50 16h6m4 61h6m-154-108h6m55 14h6m-64 169h6m-92-234h6m179-91h6m-74 151h6m-36 40h6m-83-151h6m256 112h6m-121-173h6m-69 204h6m-47-117h6m150-24h6m-73 67h6m-103 32h6m110-172h6m50 91h6m-142 94h6m106 69h6m-171-88h6m172-50h6m-123 49h6m118 76h6m-50-82h6m-114-53h6m-55 175h6m155-114h6m-55 35h6m-132 86h6m188-183h6m-69 244h6m66-52h6m-57-197h6m-42 160h6m39-136h6m-224 114h6m268-68h6m-75-6h6m-104 33h6m-4-31h6m102 6h6m-105-80h6m102-35h6m-107 155h6m29-6h6m28-23h6m-25-106h6m-90 149h6m137-122h6m91 92h6m-129 24h6m-73-105h6m8 45h6m108 68h6m-140 31h6m274-156h6m-107-40h6m-156 120h6m-141-31h6m194 118h6m-4-60h6m-199-43h6m136 207h6m112-268h6m-9-30h6m-57 11h6m51 130h6m-8 20h6m-108-123h6m-20 64h6m50 41h6m-44 11h6m-71-41h6m-51 7h6m89 100h6m-30-173h6m-92 111h6m15 55h6m-2-187h6m-66 69h6m192 145h6m12-138h6m-111-27h6m211 184h6m-113-269h6m-47 172h6m-107-21h6m120-45h6m-103 114h6m6-64h6m102-106h6m-30 173h6m1-139h6m-33 7h6m-73 17h6m20-52h6m-48-67h6m84 67h6m39 47h6m-68-23h6m63-97h6m-91 157h6m-73-71h6m40 244h6m125-140h6m60 109h6m-116-163h6m-172-109h6m70 68h6m67-56h6m18 22h6m-78-37h6m7-61h6m-25 224h6m-135-90h6m53-12h6m15 93h6m190-18h6m-224-19h6m12 40h6m79-54h6m-34 41h6m50-102h6m-37-79h6m14 243h6m11-99h6m-35 47h6m-49 156h6m29-190h6m-67 45h6m29 7h6m39-190h6m-40 191h6m60-58h6m-198-91h6m262 134h6m-66-278h6m-90 260h6m-4 31h6m78-10h6m-172-198h6m54-5h6m7 281h6m-64-65h6m99-112h6m-53-52h6m-6 146h6m-56-62h6m22 84h6m124-132h6m-192 89h6m60-14h6m79-9h6m-30-138h6m-76 104h6m37 32h6m-41-136h6m35 179h6m-55-39h6m-19-91h6m-13-36h6m-8-58h6m50 275h6m28-119h6m-87-120h6m11 237h6m51-252h6m-169 164h6m6-158h6m179-11h6m-92 189h6m83-160h6m-90 228h6m-143-191h6m120 55h6m-23 100h6m17-107h6m-101 82h6m158-107h6m51 35h6m-110 19h6m-2 8h6m174 3h6m-175 172h6m165-250h6m-142 85h6m-50-22h6m-31 39h6m-14 32h6m132-95h6m-176 31h6m277 46h6m-425-106h6m80 82h6m117-45h6m-89-48h6m188 48h6m-174 44h6m-6 57h6m-26-181h6m87 107h6m-70-105h6m-52 125h6m50 50h6m-37-227h6m43 180h6m18-12h6m-156 33h6m-73 40h6m186-6h6m-130-70h6m-15 75h6m125-192h6m134 84h6m-231-121h6m197 141h6m-145 36h6m-2 57h6m-77-66h6m143-123h6m-54 216h6m-118-27h6m128-73h6m-13 17h6m44 45h6m-173-96h6m-35 68h6m153-87h6m-50 114h6m44-48h6m24-159h6m-121 270h6m-4-289h6m23 134h6m26-64h6m3 4h6m5 115h6m-209-125h6m196 110h6m-74-66h6m28 168h6m42-37h6m75-159h6m-235 51h6m130-89h6m-75 106h6m61-91h6m168 146h6m-159-56h6m-31 176h6m-93-191h6m-66-42h6m47 68h6m67-21h6m-94-74h6m63 60h6m-94 70h6m139-22h6m-89-34h6m-29 82h6m-29 37h6m81-314h6m140 147h6m-144 15h6m-102 124h6m111-43h6m-39-33h6m-66-55h6m-5 77h6m44 20h6m-65 29h6m78-246h6m-39 348h6m-7-202h6m-46 57h6m46-6h6m8-114h6m-57 138h6m-46-34h6m118-49h6m-12-51h6m-140-30h6m131 83h6m-22-70h6m16 64h6m-40 36h6m-47-63h6m13-18h6m162 221h6m16-204h6m-204-30h6m41 135h6m26 15h6m-202-63h6m293-13h6m-130-2h6m8 56h6m-62 31h6m-44-25h6m32 17h6m-18-225h6m-23 115h6m-58 109h6m-78-44h6m171 36h6m28-44h6m-132 101h6m65-75h6m-21-23h6m73 26h6m-89 68h6m53-75h6m-52 56h6m-102-129h6m177 41h6m-118 130h6m93-97h6m-28 6h6m-62 53h6m66-77h6m-66-109h6m-61 24h6m115 185h6m-161-65h6m168 11h6m-190-91h6m116 115h6m-5-35h6m-34 27h6m-49-24h6m3 0h6m-150-6h6m114 16h6m-81-27h6m53-32h6m14-160h6m147 186h6m-152 36h6m-88-84h6m183-25h6m-69 150h6m-25-96h6m-11 26h6m40-66h6m84 14h6m-183-4h6m114 38h6m-32-223h6m-27 217h6m-124-66h6m165 173h6m-151-250h6m64 148h6m-47-97h6m-126 101h6m125-180h6m-30 167h6m10 132h6m25-151h6m90 62h6m-24-45h6m-136 72h6m-65-84h6m53-4h6m54 65h6m-162-19h6m256 114h6m-131-24h6m-37-112h6m84-87h6m-54-16h6m77 105h6m116-26h6m-193 183h6m23-102h6m-136-2h6m9-36h6m-12 66h6m115-236h6m-118 163h6m0-26h6m34-96h6m21 155h6m65-99h6m-33-20h6m-24-49h6m18 102h6m-132 144h6m213-187h6m-111 136h6m6-71h6m-75-15h6m-7 157h6m-69-162h6m112-56h6m25 39h6m30-89h6m95 210h6m-81-40h6m-190-99h6m-24-110h6m112 106h6m-39 166h6m-108-60h6m1-92h6m27 41h6m-30 23h6m8-26h6m62-2h6m94 20h6m-141-74h6m107-16h6m-130 84h6m69 8h6m-129-94h6m-44-92h6m19 200h6m74-198h6m6 152h6m140 71h6m-98 101h6m10-239h6m-147 215h6m235-1h6m-31 72h6m-33-228h6m-115 12h6m-22-38h6m-4 187h6m197-67h6m-266-135h6m71 85h6m33 8h6m95 37h6m-50-18h6m-27-80h6m-90 156h6m-105-212h6m208 161h6m-155-145h6m156 58h6m-8 72h6m-83-46h6m-83-73h6m-10 217h6m122-34h6m-123-139h6m-101-4h6m108-141h6m-15 23h6m21 231h6m-26-117h6m25 27h6m70-70h6m-58 55h6m-159 25h6m160 110h6m-167-178h6m106-166h6m-44 257h6m169-2h6m-244 13h6m157-211h6m-46 322h6m1-156h6m-108-66h6m209 63h6m-89 101h6m-2-86h6m-42-142h6m-108 138h6m155 210h6m-119-90h6m87-161h6m-85-63h6m80 257h6m-98-154h6m71 64h6m-127-17h6m42 69h6m71-215h6m-56 186h6m2-179h6m-154 26h6m82 8h6m-111 91h6m163-110h6m24 95h6m-101 10h6m-14-1h6m-73-56h6m-4 68h6m209 118h6m-127-278h6m75 172h6m-143 21h6m88 25h6m-79-186h6m23 63h6m53 18h6m-32 84h6m-50-144h6m106-14h6m-144 38h6m23 156h6m-107-72h6m154-116h6m-8 125h6m56-28h6m-155 118h6m68-76h6m-1-47h6m1-137h6m42 207h6m-20-80h6m-224-76h6m153 4h6m27 122h6m-58-185h6m-114 55h6m184 187h6m-69-62h6m72 24h6m-140-229h6m25 123h6m-92 81h6m177-67h6m-202 87h6m-18-90h6m201-6h6m2 60h6m-5 103h6m-14-147h6m-66-56h6m-12-26h6m-24-36h6m143 168h6m-117-2h6m-122-34h6m43 4h6m98-43h6m-133 42h6m67 7h6m-7 82h6m5-66h6m-61-91h6m57 44h6m-163 52h6m114 4h6m32-46h6m-111-6h6m40 17h6m66 9h6m-124-140h6m103-22h6m0 174h6m-117-83h6m24 7h6m44-71h6m16 69h6m-75 100h6m55-196h6m-72 72h6m114 52h6m-77 59h6m86-48h6m-84 89h6m-33 47h6m64-92h6m55-9h6m30-23h6m-122 41h6m-69-47h6m85-123h6m-58 302h6m-44-128h6m22 74h6m198-195h6m-259 126h6m165-217h6m-155 158h6m21 142h6m-17-69h6m-99-39h6m60 114h6m64-199h6m-50 10h6m-53 36h6m55-87h6m-127 151h6m129-48h6m24-42h6m-73 168h6m-62 3h6m108-75h6m-63 26h6m33-161h6m-52 41h6m49 35h6m-49-89h6m39 63h6m-83-115h6m62 113h6m-132 66h6m43 21h6m-4 52h6m64-238h6m-16-125h6m-85 307h6m6-41h6m105 29h6m26-119h6m-114 97h6m53-125h6m-150-33h6m71 171h6m-8-42h6m78-139h6m-113 9h6m116 147h6m9-201h6m-208 124h6m116 80h6m25 23h6m-136-113h6m21 172h6m130-51h6m-97-25h6m27 163h6m33-248h6m-91-103h6m108 78h6m-76-25h6m13 147h6m-42-89h6m177 111h6m-161-65h6m-24 73h6m-2 8h6m-46-25h6m29-5h6m-6-73h6m-14 39h6m11-118h6m23 89h6m14 61h6m-121-110h6m84 56h6m-47 3h6m70 27h6m-120-70h6m-4 94h6m-89-83h6m76 90h6m-30-62h6m40 20h6m-71 89h6m272-155h6m-131 78h6m-8-27h6m-9 110h6m23-200h6m-76 228h6m76-148h6m-161 196h6m24-158h6m70-18h6m-122 54h6m49-63h6m48 55h6m48 48h6m-164 1h6m29 66h6m-73-164h6m-26 114h6m118-117h6m-90-73h6m-27-13h6m79 65h6m108-66h6m-163 54h6m95 32h6m-118 65h6m93-205h6m38 185h6m-90-5h6m205 9h6m-239-75h6m-45 177h6m240-59h6m-148 63h6m-100-131h6m99-4h6m-5-109h6m-212 108h6m102 104h6m86-239h6m-15 65h6m-257 239h6m270-224h6m-90 187h6m53 93h6m-37-327h6m-23 195h6m50-139h6m-121 70h6m138 133h6m-196-235h6m122 65h6m-54 38h6m-50-236h6m171 153h6m-166 111h6m93-147h6m37 61h6m-63 38h6m43 74h6m-80-94h6m129-62h6m-240 65h6m21-29h6m124 280h6m11-297h6m-126-49h6m63 251h6m-21-258h6m131 148h6m-167 64h6m23-108h6m-75-111h6m13 235h6m57-83h6m-145 213h6m78-230h6m167-13h6m-312 60h6m50-78h6m125 140h6m100 7h6m-169-164h6m68 66h6m-83-51h6m-65-33h6m-38 78h6m89 123h6m52-137h6m-9 45h6m-26-179h6m-64 96h6m104 114h6m28-57h6m-59-108h6m87 4h6m-185 87h6m52-60h6m12 113h6m22-206h6m-54 32h6m-37 203h6m45-270h6m-74 302h6m49-195h6m41 93h6m-42 156h6m166-213h6m-220 57h6m-73-17h6m13-66h6m-57 185h6m1-254h6m107 7h6m-19 57h6m-40 119h6m159-64h6m-169 15h6m25-55h6m-59 15h6m6 14h6m8 103h6m40-97h6m135 189h6m-155-209h6m-81 59h6m34 32h6m114-126h6m-43 89h6m-280-110h6m231 45h6m-41 56h6m-37 64h6m62-78h6m-114 76h6m175-100h6m-61-25h6m-73 97h6m-5-56h6m65-80h6m17-54h6m-120 237h6m123-96h6m-82 19h6m-38-12h6m102 27h6m-149-109h6m-61 174h6m194-31h6m-141 78h6m-88-61h6m202-170h6m-64-23h6m-49 36h6m74 188h6m102-243h6m-119 98h6m-25-110h6m-187 16h6m246 6h6m-39 110h6m-15-39h6m25 48h6m-93 11h6m-9-121h6m64 229h6m42 104h6m-123 13h6m64-56h6m-28 47h6m-67-2h6m-8 6h6m2 18h6m67 32h6m-31-137h6m-55-22h6m82 8h6m-11 117h6m-91-80h6m-8 4h6m-1-68h6m94 122h6m-64 73h6m-26-119h6m-67-26h6m76 43h6m-74-29h6m-43-47h6m108 88h6m-56-15h6m60 25h6m-29-83h6m-10-3h6m-10 38h6m28 30h6m-143-15h6m95 57h6m30-26h6m34-97h6m-112-9h6m-29 11h6m-13 133h6m27 25h6m20-41h6m46-75h6m-86 96h6m16-95h6m130-74h6m-152 121h6m-20 13h6m8-12h6m2-33h6m7-59h6m-14 12h6m37 162h6m-92-194h6m-60 67h6m59 43h6m52-28h6m-83 179h6m37-150h6m-45 5h6m27 17h6m-9-125h6m-71 141h6m95-54h6m-8 87h6m-82-11h6m133 6h6m-116-40h6m6-99h6m-37 31h6m10 28h6m-53-115h6m22 176h6m38-35h6m-37-65h6m14 54h6m22 103h6m37-77h6m-152-60h6m66-45h6m16 43h6m-26 34h6m-36 14h6m5-25h6m37 137h6m-84-46h6m63-142h6m-30 8h6m57 85h6m-17 12h6m-94-160h6m74 93h6m-76 84h6m139 11h6m-124 46h6m93-193h6m-69 63h6m-83 29h6m71-124h6m-177 34h6m110-5h6m5 140h6m29-128h6m-96 11h6m32 27h6m77-74h6m-41 158h6m3-57h6m-69-43h6m129 46h6m-73-28h6m-119 19h6m94-34h6m57 80h6m-147-62h6m10 2h6m-90 25h6m143-74h6m63 92h6m-83-20h6m-18-46h6m-16 69h6m-35-99h6m99 25h6m-52-21h6m-20 21h6m-35 36h6m42-10h6m48 31h6m-97-9h6m34 41h6m-54-147h6m-56-14h6m126-1h6m6 119h6m-36-105h6m-63 158h6m-24 29h6m60-92h6m32-5h6m-57 33h6m-83-5h6m111 38h6m16-37h6m-123 83h6m-47-67h6m-34-50h6m212-79h6m-27 74h6m-127 8h6m20 41h6m38 4h6m-25-45h6m-3339 1066h6m35-15h6m7 12h6m-69 27h6m-79 10h6m53-39h6m-55 36h6m179-54h6m-115-6h6m66 24h6m-85 36h6m9-50h6m3 12h6m53-23h6m-58 17h6m-30-3h6m-35-6h6m14 32h6m27-11h6m11-31h6m-73 23h6m-68 17h6m-26 13h6m128-20h6m-113 61h6m106-91h6m-115 57h6m73-41h6m-33 22h6m49 20h6m-94-28h6m59-6h6m-175 54h6m243-47h6m-15-17h6m-61-25h6m-104 44h6m-67 40h6m99-31h6m31-4h6m23-31h6m-96 8h6m49-2h6m-91 30h6m91-7h6m-81-20h6m46 16h6m-32 17h6m-10 3h6m85-70h6m-28 42h6m-90 15h6m89 3h6m-70-10h6m113-18h6m-103 27h6m30-31h6m-117 3h6m94-10h6m-120 11h6m165 35h6m-81 6h6m14-69h6m7 39h6m-47 4h6m-68 42h6m87-60h6m-59-8h6m72 17h6m-35 7h6m11 20h6m30-33h6m-129-1h6m86 13h6m58-13h6m-183 50h6m46-12h6m-42-5h6m31-27h6m-60 39h6m-4-60h6m-9 40h6m57-17h6m12 11h6m-15-6h6m20 33h6m-18-28h6m-14 17h6m-69-22h6m50-27h6m24 12h6m-81 8h6m-67 18h6m-8-14h6m29 24h6m35-4h6m-52-2h6m43-2h6m-6 6h6m-14 9h6m109-25h6m-89 0h6m19-17h6m-83 20h6m20-6h6m114 37h6m-99-68h6m1 30h6m-80 34h6m45-50h6m-27 56h6m-14-24h6m7-25h6m5 42h6m105-64h6m-107 35h6m12 10h6m22-21h6m-137 74h6m114-75h6m-21 13h6m-13-49h6m60 19h6m-22 26h6m-95 15h6m84-5h6m-41-24h6m13 41h6m-26-73h6m-4 42h6m38-26h6m-142 46h6m152-13h6m-52 47h6m-98-55h6m-27 30h6m19-43h6m75 11h6m38 20h6m-124 7h6m4-40h6m166-3h6m-149 63h6m-18-30h6m70-29h6m-38 23h6m-94 34h6m67-32h6m26-43h6m-106 32h6m1078-32h6m57 75h6m-30-33h6m-57-29h6m103 56h6m-54-49h6m-70 71h6m3-49h6m76 14h6m-51-50h6m-32 14h6m29-3h6m17-10h6m-33 52h6m56-79h6m-34 52h6m-39-14h6m-96 40h6m162-79h6m-90 77h6m62-71h6m-57 3h6m82 28h6m-63 17h6m-125 72h6m106-82h6m-160 77h6m51-49h6m135 7h6m-95-13h6m56-7h6m-200 32h6m111-12h6m-54-11h6m68-9h6m-81-4h6m108 71h6m-43-42h6m32 4h6m-179-64h6m125 24h6m-43 10h6m91 50h6m-190-48h6m139-38h6m-40 24h6m-38 22h6m1 7h6m144-57h6m-87 26h6m-79 39h6m74-36h6m0-34h6m-49 49h6m-119 66h6m85-75h6m81 20h6m-41-8h6m-66-42h6m-66 48h6m174-55h6m-34 5h6m-51 74h6m-53-89h6m128 10h6m27 60h6m-17-33h6m-11-12h6m-39 7h6m-40 39h6m-85-48h6m56 32h6m-20 19h6m-70-61h6m-50 43h6m-15 12h6m88-55h6m32 13h6m-156 66h6m96-22h6m61-62h6m-30 97h6m61-72h6m-56 34h6m3-40h6m-51-16h6m57 22h6m-54 59h6m-5-64h6m-19 42h6m-65 31h6m108-36h6m-121-27h6m137 3h6m-110 19h6m37 24h6m-33-14h6m-68 43h6m84-62h6m-59 0h6m53-46h6m86 26h6m-26-22h6m-223 34h6m111 23h6m23 36h6m-72-81h6m-15 11h6m35 18h6m-43 5h6m46-29h6m40-12h6m-50-16h6m-10 65h6m40-48h6m-89 24h6m90-9h6m-85 17h6m-43 44h6m29-49h6m69-13h6m-77-19h6m-48 83h6m65-45h6m-94 19h6m64-8h6m-23-16h6m66-8h6m-77-56h6m11 72h6m-29 40h6m4-9h6m48-20h6m-86 16h6m114-20h6m14-42h6m-205 65h6m136-42h6m-37-6h6m-33 30h6m7 29h6m33-56h6m-113 63h6m-57-45h6m113-36h6m-14 76h6m58-60h6m-42 27h6m61-38h6m-154 44h6m1205-430h6m-69 134h6m142-49h6m-9 150h6m-114-30h6m63-170h6m7 91h6m-20-145h6m5 43h6m19-9h6m-22 275h6m-17-345h6m-29 68h6m62 211h6m18-190h6m-84-76h6m-14 150h6m21-124h6m2 289h6m-23-203h6m51 38h6m-85-100h6m55 182h6m-54-113h6m-7 58h6m64-9h6m-192-1h6m177-84h6m-93-120h6m72 146h6m-26 177h6m-76-191h6m12-84h6m107 20h6m-116 244h6m55-192h6m-12 104h6m94-146h6m-136 158h6m19-82h6m17 22h6m-72 183h6m114-104h6m-72-99h6m1 127h6m-9-174h6m-32 273h6m36-347h6m-135 80h6m35 112h6m-85 3h6m66 83h6m20-95h6m10-194h6m92 86h6m-171 24h6m74-21h6m-42 4h6m20 146h6m-2-78h6m45-133h6m-81 253h6m-45-23h6m35-11h6m-29-228h6m96 73h6m-110 38h6m-148 43h6m252-41h6m-123 198h6m29-186h6m52-72h6m16-119h6m-89 130h6m-33 128h6m-34 86h6m44-157h6m-105 59h6m98 66h6m-47-131h6m107 5h6m-52-159h6m29 284h6m-135-21h6m124 7h6m-62-100h6m-91-64h6m87-97h6m32 126h6m-5-32h6m-137 45h6m51 77h6m-6 81h6m-43 46h6m61-77h6m-91-50h6m60 69h6m-22-133h6m-68 56h6m125 47h6m-62-14h6m52-185h6m-36 89h6m10 87h6m-17 62h6m-130 18h6m183-63h6m-54 42h6m-40-144h6m10 146h6m-33-190h6m-29 195h6m34-194h6m10-14h6m-74 127h6m93-133h6m-58 140h6m-47-279h6m85 61h6m-46 204h6m-7-126h6m9 220h6m-93-126h6m104 43h6m-68-144h6m-78 67h6m26 48h6m79-45h6m-42 131h6m-44 73h6m90-298h6m-125 182h6m119-276h6m-77 382h6m46-297h6m-18 215h6m-76-63h6m-71 136h6m153-366h6m-69 112h6m-73 187h6m105-71h6m30-122h6m-115 172h6m68-63h6m-51-7h6m-4-161h6m-88 177h6m164-70h6m-35 46h6m-107 74h6m40-135h6m10 3h6m-69-54h6m3 109h6m48 145h6m34-303h6m-112 122h6m133-34h6m-67-4h6m0 23h6m5 38h6m13-75h6m-35 105h6m-3-52h6m-8 71h6m-52 43h6m-45 76h6m-28-166h6m118-13h6m-12-23h6m-20 137h6m-63-289h6m52 62h6m-30 184h6m-86-54h6m48 35h6m-31-15h6m71-225h6m-93 298h6m59-49h6m22-70h6m-112 60h6m51-238h6m2 293h6m19-194h6m-129 123h6m170-84h6m-36-79h6m-98 174h6m72-120h6m-78 79h6m48-32h6m-36 143h6m-31 23h6m45-74h6m-69-151h6m61-7h6m15 206h6m20-132h6m-21-41h6m-127-1h6m153 61h6m-116 80h6m38-116h6m37-108h6m-157 18h6m145 240h6m-172-40h6m20-74h6m125-82h6m-8-82h6m-12 393h6m15-336h6m-76 43h6m-8 114h6m-25 44h6m130 121h6m-51-287h6m-7-87h6m-139 426h6m103-95h6m-84-229h6m-1 124h6m38-83h6m-29-87h6m71-7h6m-113 211h6m75-79h6m41-158h6m-60 190h6m46-41h6m-149 16h6m-3-97h6m-12 176h6m117-204h6m-49 72h6m-89 114h6m38 84h6m37-182h6m-23-106h6m-32 46h6m17 139h6m40-148h6m-41 154h6m106 32h6m-167-182h6m-23 189h6m-3 29h6m-3-133h6m81 25h6m29-9h6m-57 66h6m70-149h6m-176 82h6m58-35h6m15 27h6m-61 4h6m56 32h6m-119-34h6m7 25h6m38-111h6m100 138h6m-56-17h6m-54 80h6m19-154h6m61-14h6m-65 130h6m-68 83h6m103-143h6m1-45h6m-173 35h6m118 85h6m-6-90h6m11-15h6m-75 88h6m48 18h6m-25-17h6m-44-23h6m104-158h6m-24-11h6m-72 315h6m29-150h6m24 0h6m-49-95h6m-26-71h6m4 72h6m90 58h6m-147 192h6m42-236h6m4 56h6m-24-95h6m63 4h6m-104 40h6m22-2h6m-7 16h6m1 66h6m-116 70h6m203-187h6m-62-37h6m-77 248h6m96-147h6m35 80h6m-243-122h6m216 97h6m-25-22h6m-82 194h6m-2-233h6m15 175h6m63-70h6m-114-131h6m94-104h6m-109 302h6m-37-200h6m-4 53h6m-46 7h6m118-180h6m-17 274h6m-39-38h6m-11-112h6m90 32h6m-69-163h6m-98 25h6m180 90h6m-82 116h6m-86-109h6m17 61h6m38 0h6m41-3h6m-33 111h6m-158-113h6m27 17h6m70-12h6m31-62h6m-71 107h6m36 19h6m-21 36h6m-71-109h6m99-117h6m-20-17h6m-7 218h6m14-146h6m10-152h6m-120 252h6m83-162h6m-43 241h6m-52 89h6m29-216h6m-23 36h6m65-165h6m-136 185h6m160-55h6m-124-23h6m47-42h6m47 39h6m-95-44h6m-56 229h6m91-50h6m-51-61h6m16 33h6m23 33h6m-55-61h6m-55-7h6m71-222h6m-25 240h6m63-92h6m-72-88h6m7 278h6m-35-123h6m79-112h6m-55 148h6m-10-91h6m-63 37h6m22 17h6m48-57h6m50-103h6m-117 65h6m40-55h6m8 118h6m-3-138h6m-73 145h6m22 57h6m2-111h6m-188 44h6m165-36h6m19-30h6m-19 109h6m24-199h6m-55 156h6m-6 12h6m16-89h6m114 3h6m-204 125h6m79 56h6m43-283h6m-156 305h6m126-175h6m-25-51h6m-73 93h6m44 118h6m-140-71h6m154-43h6m-13 43h6m8-237h6m-3 99h6m-112-13h6m69 126h6m-27-19h6m-3 241h6m32-293h6m-64 115h6m-22-119h6m-4 233h6m71-331h6m-121 258h6m21-328h6m-38 210h6m110-133h6m-75 162h6m50-102h6m-6 83h6m37-6h6m-81 143h6m3-147h6m-43 52h6m-51-167h6m64 185h6m69 88h6m-42-222h6m-148 173h6m-58 53h6m91-80h6m74 28h6m-1-118h6m6-177h6m-84 87h6m43 161h6m-104 31h6m113-115h6m-66 167h6m49-123h6m-62-9h6m133-122h6m-149 168h6m49 61h6m-45-98h6m40-160h6m37 281h6m-83-109h6m-53 25h6m49-46h6m-38-151h6m-6 174h6m-23 5h6m27-136h6m92 75h6m-93-68h6m-17 58h6m-37-14h6m3 186h6m7-143h6m19 33h6m-31 181h6m-61-94h6m99-333h6m39 185h6m17-60h6m-128 129h6m-83 71h6m173-114h6m-32-163h6m-24 153h6m-47 77h6m-29 39h6m-3-108h6m-46 56h6m-7-146h6m121 24h6m-167 138h6m168 31h6m-92-143h6m18 157h6m4-129h6m16 56h6m36-52h6m-20 42h6m-2-52h6m-88-81h6m49-43h6m-28 195h6m-45-211h6m100 115h6m-115-41h6m48 161h6m18-159h6m-6 25h6m-72 42h6m-66 23h6m85-89h6m-12 138h6m-53 92h6m23-237h6m-82 152h6m63-113h6m82-59h6m-86 39h6m-53-56h6m37 115h6m9-72h6m-68-43h6m124-44h6m-174 182h6m108-85h6m8-106h6m-30 170h6m-48-84h6m24 169h6m-49 140h6m-16-241h6m39-5h6m23-51h6m23 48h6m-43 9h6m-49 126h6m-54-113h6m-57-4h6m72 35h6m27 98h6m23-38h6m49-131h6m-24 115h6m53-169h6m-79 91h6m-47-62h6m117 38h6m-98-115h6m-182 161h6m227-32h6m-149-98h6m107 94h6m40-62h6m-4-111h6m-71 300h6m-13-105h6m-33-107h6m-10 72h6m58-47h6m-186 142h6m95 95h6m21-60h6m-102-5h6m66 126h6m35-203h6m-114 37h6m164-54h6m-146 65h6m-2 31h6m24 38h6m54-88h6m20-117h6m-40 77h6m-55 180h6m-30-145h6m42 43h6m-46 36h6m116-170h6m-133 120h6m97-60h6m-20-145h6m-102 19h6m82 422h6m-92-301h6m51 95h6m-31-79h6m-83-39h6m33-66h6m63-77h6m-81 165h6m72 51h6m24-114h6m-22 59h6m-32-21h6m-32-9h6m8 110h6m-51 3h6m-15-69h6m62 69h6m-10-93h6m20-150h6m-17 129h6m-126-38h6m67 113h6m-15-53h6m-28-158h6m21 216h6m-22-56h6m-42 186h6m48-208h6m82 160h6m-89-58h6m-18 45h6m-17-243h6m30 56h6m-64 26h6m45 126h6m106-106h6m-220 18h6m50-89h6m25-29h6m9 234h6m46-89h6m-15 126h6m29-247h6m-30-33h6m22-3h6m-66 210h6m1 93h6m-47-60h6m-21-66h6m48 95h6m-109-113h6m136-59h6m36 185h6m-129 6h6m15-96h6m-27-62h6m-18-146h6m50 63h6m-71 183h6m136-27h6m-67-121h6m-107-28h6m130 107h6m-56-22h6m4-89h6m-72 125h6m-77 112h6m181-91h6m-141 61h6m87-55h6m-4 13h6m13-47h6m-103-58h6m-5-132h6m57 240h6m-55 48h6m-19-50h6m-68 32h6m16-9h6m45 202h6m35-225h6m-69-193h6m28 79h6m-24 42h6m53 201h6m37-305h6m-85 179h6m-31-116h6m-69 225h6m-3-138h6m56-19h6m28-54h6m67-43h6m-97 79h6m22-219h6m-78 399h6m62-107h6m-41 103h6m-60-79h6m106-3h6m-77-33h6m40-41h6m46-109h6m-55-2h6m-19 245h6m78-217h6m-77 169h6m-74-8h6m65-40h6m-102-18h6m165-131h6m-83-4h6m-10-118h6m5 149h6m8 157h6m-23-204h6m-15 160h6m12 107h6m-89-233h6m39 136h6m-44-161h6m97 3h6m-177 169h6m119 49h6m24-242h6m-101 127h6m-32 18h6m185 40h6m-128-106h6m-102 104h6m82-36h6m122-113h6m-138 160h6m-85-69h6m115-135h6m-62 152h6m-28-21h6m21 74h6m116-169h6m-119 250h6m12-137h6m-47 176h6m95-139h6m31-130h6m-164 59h6m27 20h6m14 157h6m166-379h6m-181 273h6m92-165h6m-185 146h6m68-145h6m103-46h6m24-5h6m-65-49h6m13 54h6m35 364h6m-147-125h6m-3-112h6m-65-65h6m177 59h6m-52-172h6m-159 118h6m95 120h6m-18 1h6m-3-114h6m21 87h6m-10-83h6m4 144h6m74-107h6m-99-84h6m-79 188h6m30-57h6m35-97h6m-99 39h6m8 266h6m72-215h6m9 17h6m-17 71h6m-8 88h6m-65-202h6m-89-51h6m63 152h6m-60-118h6m110-89h6m-17 153h6m132-51h6m-157 13h6m-41 128h6m39-154h6m96-109h6m-30 112h6m-62 79h6m-26 19h6m-22-247h6m22 48h6m-49 8h6m34 288h6m-57-145h6m54 65h6m-43-115h6m1 98h6m14-151h6m44 126h6m41 52h6m-162 70h6m84-247h6m63 100h6m-147 11h6m83-27h6m-52 115h6m54-272h6m-77 186h6m-63 157h6m46 95h6m-75 36h6m60-78h6m-27 40h6m-61 32h6m90-28h6m-7-10h6m-12 23h6m-121 8h6m23 4h6m97-45h6m-63 62h6m-76 8h6m-9-2h6m-22-76h6m15 58h6m35-78h6m-106 123h6m88-101h6m60 70h6m-41-47h6m-2-52h6m-25 97h6m31-43h6m-84 55h6m3-22h6m-85 29h6m88-52h6m-38 51h6m105-59h6m-130-18h6m58 18h6m-76 47h6m-5 56h6m-131 8h6m260-119h6m-86 63h6m-98-46h6m45-6h6m5 20h6m-88 20h6m164 9h6m-11-83h6m-22 5h6m-154 113h6m80-62h6m-9-50h6m44 62h6m-35-42h6m-101 53h6m54-23h6m-1-15h6m0-27h6m-88 57h6m39 10h6m114-49h6m-100 14h6m53 1h6m-10-43h6m27 84h6m10-47h6m-89-1h6m6-22h6m-58 66h6m-57 12h6m138-102h6m-68 35h6m108-30h6m-70 6h6m-51 11h6m-39 13h6m-23 63h6m80-62h6m-22 18h6m-14-58h6m21 17h6m-19 75h6m-57 44h6m-7-93h6m94-48h6m-66 9h6m10 2h6m-52 139h6m-50-47h6m138-70h6m-109-49h6m25 127h6m-118-27h6m193-28h6m-131 21h6m10 4h6m29-3h6m-14-11h6m58-23h6m-159 25h6m71 46h6m-51-31h6m-111 24h6m184-20h6m9-74h6m57-10h6m-61 17h6m29 19h6m-97 37h6m-71 30h6m8-30h6m124-55h6m-146 28h6m50-29h6m-45 74h6m32-14h6m40 1h6m-67-30h6m101 24h6m-43-3h6m23-16h6m-28 4h6m-91-4h6m87 39h6m-10-59h6m-118 73h6m18 6h6m-26-2h6m101-64h6m40-105h6m-46 93h6m-83 39h6m-12-10h6m-57-3h6m187-4h6m-136 17h6m-70 62h6m11-52h6m133-82h6m-55 14h6m-17 31h6m34 5h6m-63 0h6m30 8h6m-153 73h6m18-16h6m61-67h6m27-20h6m-38 36h6m-63 33h6m125-74h6m-56 44h6m9-34h6m6 67h6m-75-42h6m1138-329h6m-81 19h6m3 73h6m-19-38h6m152-35h6m-114 68h6m-136-30h6m49-151h6m-67 195h6m60-45h6m143 38h6m-309-55h6m216 55h6m68-199h6m-159 14h6m151 237h6m-163-79h6m-61-186h6m295 125h6m10 154h6m-274-102h6m-8 34h6m95-61h6m-4 5h6m143-51h6m-264 89h6m-45-23h6m136 14h6m109-71h6m-208 25h6m177 24h6m-150-66h6m41 69h6m14 40h6m-214-7h6m321-16h6m-242 46h6m-135-20h6m320-99h6m-165 83h6m-89 12h6m18 37h6m-163-100h6m258 69h6m62-42h6m-190 34h6m22-22h6m-64-53h6m210 134h6m-98-173h6m-4 91h6m206-38h6m-367-34h6m84-53h6m234 98h6m-51 102h6m-180-84h6m95-11h6m-109 14h6m65 18h6m-180 5h6m263-76h6m-103 192h6m91-312h6m-24 276h6m-52-80h6m-61-24h6m-41 59h6m181 38h6m-35-138h6m-172 9h6m77 16h6m0-86h6m9 24h6m-77 81h6m92-40h6m-66 88h6m5-141h6m66-121h6m-163 295h6m191-194h6m-116-35h6m186 87h6m-333-16h6m117-40h6m94 141h6m-222 72h6m31-186h6m-45 140h6m129-93h6m-60-26h6m135 78h6m-236 3h6m169 9h6m-42-2h6m-154-107h6m51 84h6m221-74h6m-43 64h6m-255 110h6m58-90h6m-89-59h6m118 22h6m57-41h6m0-58h6m-11 139h6m5-1h6m3-78h6m-156 12h6m-76 138h6m12-55h6m-52-166h6m100 132h6m136-16h6m-232-6h6m173-18h6m12-6h6m-144 70h6m75-106h6m90 223h6m-183-340h6m30 223h6m-64-8h6m138 71h6m-26-218h6m33-54h6m-145 184h6m50-52h6m31-26h6m2 85h6m52-44h6m-233 119h6m135-197h6m42 97h6m-36-78h6m-98 3h6m130-2h6m-148 24h6m106-4h6m21 51h6m-122-44h6m20-5h6m106 277h6m-61-253h6m190 106h6m-256-128h6m26-35h6m-144 168h6m104-8h6m-232-68h6m440 81h6m-69 7h6m-146 39h6m-15-65h6m-75-198h6m97 127h6m13-18h6m-62-137h6m130 292h6m-142-272h6m-29 218h6m41-249h6m7 107h6m-3 54h6m-66 63h6m6-154h6m-16 211h6m14-161h6m-40 88h6m-81-9h6m239-106h6m-124 202h6m35-189h6m-72 240h6m-19-348h6m-4 134h6m-24 64h6m195 96h6m27-87h6m-229-80h6m-76 123h6m56-23h6m94 37h6m-58-52h6m122 146h6m-82-138h6m-29-142h6m67 178h6m-188-2h6m-59-68h6m72 15h6m-56 159h6m67-90h6m191-129h6m-170 104h6m-25-90h6m-114-34h6m55 87h6m120-107h6m-111 44h6m62-5h6m-101 74h6m132-50h6m-133-2h6m100-28h6m-134-99h6m111 216h6m267-69h6m-283-3h6m-99-216h6m128 207h6m-92 98h6m247-159h6m-174 117h6m88-106h6m-198 8h6m17 144h6m-155-208h6m375 83h6m-318 97h6m114-103h6m-27 76h6m-28-31h6m-3-146h6m85 225h6m-104-77h6m68-82h6m-51-6h6m-47 111h6m-221-164h6m96 51h6m220-45h6m-86 191h6m41 44h6m-53-127h6m-3 68h6m-75-16h6m146-15h6m-199 49h6m309 41h6m-256-150h6m47 20h6m51 138h6m41-43h6m-51-147h6m-161 103h6m147-17h6m-16-37h6m-120 69h6m52-83h6m-27 29h6m84-23h6m-140-10h6m148 63h6m46-156h6m-65 146h6m4-141h6m-23 60h6m3 234h6m-64-256h6m21 21h6m-49 68h6m-23-15h6m228 51h6m-341 71h6m34-62h6m115-45h6m-11-58h6m-76 67h6m20 98h6m44-98h6m-99-42h6m39 103h6m18-126h6m-28 45h6m16-12h6m-184 95h6m342-96h6m-148-45h6m41 108h6m-100-117h6m-57 27h6m28 136h6m165-144h6m-27 102h6m-255-130h6m-121 145h6m301-143h6m-2-39h6m-20 132h6m-211 12h6m67-185h6m122 128h6m-243 53h6m240-89h6m-78 191h6m24-127h6m-131 104h6m110-63h6m-33-39h6m-42-77h6m61 127h6m48-28h6m-72 45h6m-89-163h6m31 59h6m-17 46h6m-34-26h6m28-24h6m54 92h6m80-20h6m32-61h6m-87 132h6m102-121h6m-172 66h6m37 0h6m-75-58h6m-132 38h6m167 38h6m-232 78h6m-25-219h6m130 67h6m199-21h6m33-32h6m-9 30h6m-280-79h6m159 77h6m-160-68h6m81 94h6m56 106h6m-135-130h6m-1 0h6m165 171h6m-112-116h6m-165-151h6m120 95h6m-111-55h6m71 164h6m208-75h6m-59-25h6m-57 70h6m-46-11h6m-31-101h6m-88 57h6m161 14h6m-135-69h6m62 66h6m-75 26h6m53 9h6m-88 2h6m43-43h6m-76-3h6m187-129h6m-171 38h6m-7 119h6m92-34h6m-251 72h6m122-22h6m239 15h6m-55 1h6m-259-89h6m39-7h6m80-12h6m24 10h6m81 11h6m13 202h6m-97-253h6m-115 103h6m9 46h6m54-109h6m-37 156h6m-219-131h6m280 137h6m-23-204h6m-13 88h6m30-48h6m19 13h6m-45 149h6m-148-168h6m22 219h6m132-137h6m43 61h6m-91-200h6m-65 88h6m39-8h6m-47-136h6m-22 82h6m71 32h6m-51 73h6m60 40h6m-137-91h6m110 65h6m-151-74h6m287-87h6m-424 31h6m256 150h6m-56-116h6m-171 61h6m295 49h6m-83-97h6m62 124h6m-216-163h6m152-26h6m0 106h6m-128 84h6m-59-103h6m87-38h6m97-42h6m-199 103h6m-18 36h6m231-144h6m-88 40h6m-91 47h6m75 9h6m-20 56h6m-82-77h6m20 47h6m156 73h6m169 39h6m-392-153h6m-37-89h6m-9 109h6m127-82h6m-48 201h6m-135-101h6m10-80h6m228 165h6m-122-14h6m-154-34h6m-62-44h6m278-6h6m35-28h6m-23 62h6m-55-158h6m87 94h6m18-23h6m-163 79h6m36-57h6m-197 73h6m114 74h6m100-197h6m36 195h6m2-138h6m-300 58h6m238-41h6m-167 24h6m-15 103h6m57-213h6m83 78h6m22 38h6m-124 38h6m0-101h6m81 151h6m-214 20h6m112-20h6m35-209h6m65 22h6m-67 85h6m25 69h6m28-146h6m-70-79h6m34 160h6m127 36h6m-135-66h6m-161-1h6m204 66h6m40-12h6m-81-16h6m-56 32h6m-116 14h6m8-67h6m-79-28h6m158 131h6m-62-70h6m57-130h6m-46 79h6m2 99h6m-32-101h6m-119 15h6m376 103h6m-233-171h6m-79 45h6m65 3h6m254 155h6m-299-84h6m111-12h6m-157 170h6m114-113h6m-61 56h6m-63-26h6m72-136h6m-165 54h6m170-77h6m72-10h6m-94 73h6m-183 4h6m82-22h6m-106 29h6m4-113h6m172 28h6m5 39h6m-42 24h6m79 80h6m-191-23h6m68-67h6m-126 56h6m304 0h6m-42-62h6m-132-113h6m77 96h6m-4 44h6m-178 70h6m-92-149h6m119 59h6m163-97h6m-128 52h6m24 60h6m17 60h6m46-48h6m-89 10h6m99-97h6m-92 272h6m-106-330h6m88 282h6m-207-106h6m227-123h6m-151-12h6m-17 116h6m65 44h6m29 32h6m-55-84h6m124 0h6m-23-12h6m40-133h6m-188 110h6m143 6h6m41-45h6m-204 135h6m10-208h6m-20 303h6m-98-241h6m203-1h6m113-21h6m-143 50h6m-127-32h6m199 75h6m-289 51h6m16-53h6m-95 104h6m271-166h6m-135 194h6m262-83h6m-156-114h6m-38 106h6m-281-56h6m46-146h6m124 221h6m32-68h6m76-44h6m-133 48h6m129-99h6m-152 117h6m173-21h6m-104 29h6m-64-99h6m193 139h6m-160-82h6m94 1h6m-126 67h6m-14-124h6m-17-40h6m41 84h6m57 23h6m-33-4h6m-63-7h6m34-23h6m191 59h6m-228 7h6m137-100h6m-147 5h6m39 23h6m54-51h6m8 178h6m-110-112h6m30 207h6m-114-336h6m-19 222h6m71-102h6m-123 16h6m146-114h6m59 239h6m-123-247h6m275 166h6m-216-10h6m-137-182h6m11 248h6m109-98h6m-245 31h6m64-49h6m230 85h6m-208-212h6m79 105h6m49 69h6m73-59h6m-253 84h6m-28-132h6m165 157h6m-60-146h6m-159-117h6m179 117h6m-202 37h6m30 62h6m-59 46h6m143-99h6m49-89h6m-23 74h6m-81 73h6m13 75h6m21-82h6m29 19h6m45-138h6m3 90h6m30-39h6m16 110h6m-171-118h6m126 93h6m-115 72h6m87-65h6m-77-101h6m-19 65h6m-195 6h6m190-104h6m-168 14h6m341 150h6m-237-13h6m236-244h6m-52 71h6m-89 146h6m-99 50h6m23-86h6m-37-177h6m43 165h6m-160 28h6m42 34h6m244 28h6m-72-81h6m82 22h6m-153 41h6m-19-2h6m89-233h6m-155 135h6m-113-90h6m221 134h6m-41-57h6m13-53h6m-102-75h6m78 184h6m-68-10h6m14 53h6m19 13h6m-67-126h6m-77 117h6m-131 11h6m223-187h6m-2 160h6m87 87h6m-152-265h6m117 207h6m-2-168h6m20 124h6m-213 0h6m191-157h6m172 247h6m-78-29h6m-282-2h6m-36 97h6m119-147h6m-181 28h6m239-108h6m-165-67h6m-5 57h6m44 53h6m96 101h6m-111-194h6m100 218h6m-92-71h6m-101 59h6m192-171h6m-126-15h6m9 102h6m94-7h6m-93 14h6m-73-42h6m-5 70h6m63-177h6m-47 150h6m24-102h6m-118 30h6m55 64h6m-10-116h6m38 150h6m-45 47h6m174-173h6m-96 48h6m-151 16h6m50-134h6m110 158h6m-108-7h6m94-1h6m-117 21h6m-131 52h6m122-33h6m-22-69h6m93 51h6m85-9h6m-287 99h6m121-23h6m142-127h6m-176-69h6m63-16h6m125 172h6m-106-62h6m-60-21h6m-275 2h6m216 91h6m-77-46h6m170 21h6m-160-72h6m-20-3h6m122-2h6m-28 39h6m66 41h6m-20 23h6m-91 8h6m38 16h6m2 9h6m-10-194h6m-74 117h6m55 13h6m-56-62h6m-133 98h6m255-1h6m-293-116h6m126 45h6m-62 141h6m189-148h6m-133-116h6m133 147h6m-70 46h6m-134-239h6m306 133h6m-154-66h6m-14 233h6m-24-231h6m-109-28h6m32 198h6m81-102h6m-48 33h6m-165-65h6m164 203h6m-43-130h6m-123 39h6m-39-21h6m199-28h6m-122-52h6m194 120h6m-115 4h6m-74-68h6m-32-53h6m31 134h6m-43-116h6m59 134h6m-96 111h6m73-235h6m26-14h6m-58-33h6m227-10h6m-127 134h6m-103 6h6m108-2h6m-254 23h6m231-62h6m-147-38h6m-188 100h6m62 13h6m199 15h6m-149-162h6m91-111h6m-114 204h6m330-127h6m-137 40h6m-76 104h6m-41-57h6m-11-3h6m54 56h6m-81-87h6m-15-31h6m71 147h6m90-165h6m-187 73h6m80 104h6m-54-170h6m137 160h6m-119-103h6m-134-5h6m-31 11h6m130 47h6m103-95h6m-113 81h6m130-73h6m-55 124h6m-104 50h6m-84-78h6m60-31h6m71 147h6m-205-28h6m35-255h6m145 123h6m46-28h6m-50-86h6m-118 30h6m-91 73h6m359-22h6m-133 14h6m23-60h6m4 95h6m-257-95h6m208 107h6m-222-128h6m48 18h6m67 253h6m37-228h6m-4 22h6m-131 68h6m-153-80h6m503-21h6m-272 121h6m-106-93h6m256 48h6m-247-92h6m193 173h6m-147-8h6m-9-100h6m-92 86h6m40-75h6m116 105h6m-253-78h6m231 27h6m-279-3h6m130 32h6m220-83h6m-86-36h6m-2 105h6m-96-44h6m-110-46h6m-151 70h6m253-216h6m-92 139h6m226 26h6m-115 33h6m-187-7h6m279 44h6m-286-137h6m190 237h6m-188-151h6m305 27h6m-109-103h6m-185-87h6m188 211h6m109-155h6m-77 113h6m-90-108h6m-5 139h6m97 8h6m-113-72h6m103 169h6m-82-253h6m-180 50h6m289 34h6m-110 66h6m-95-66h6m37 148h6m-18-225h6m-58 163h6m109-173h6m-50 200h6m-37-140h6m-39 14h6m16-4h6m459-38h6m-579 62h6m106-92h6m-205 116h6m54 38h6m78 38h6m8-66h6m87 63h6m-130-43h6m19 41h6m-38-158h6m192-117h6m5 170h6m-188 96h6m-110-18h6m218-184h6m-277 118h6m175-16h6m-62 44h6m96 26h6m-9 16h6m-91 46h6m-23-180h6m81 91h6m-88-5h6m-115-70h6m177 122h6m58-69h6m-95 127h6m-198-217h6m159 9h6m74 110h6m-156 97h6m94-113h6m132-58h6m-236 266h6m-105-190h6m174-91h6m-93 25h6m245-46h6m-176 61h6m177 78h6m-165-97h6m94 128h6m-2-102h6m-189-46h6m54-25h6m102 254h6m-131-263h6m60 66h6m-55 43h6m122 38h6m-251-112h6m324-10h6m-267 6h6m-42 83h6m225-110h6m21 114h6m-38-64h6m-224 61h6m50-27h6m-5 44h6m-216-55h6m322 4h6m-140 65h6m12-61h6m71 84h6m12-106h6m-229 120h6m72-184h6m-30 10h6m45-1h6m66 167h6m-1-140h6m-125 13h6m81-45h6m39 52h6m-84 19h6m187 65h6m97-76h6m-203-124h6m-58 201h6m-154-125h6m76 27h6m222 58h6m-309 41h6m182 3h6m4-100h6m-53 103h6m36-87h6m18 42h6m-115-50h6m-78-26h6m-119 58h6m43 0h6m185 143h6m-44-180h6m-97-10h6m238-29h6m-128 160h6m116 36h6m-63-152h6m-15 54h6m-45-66h6m121-19h6m-164-1h6m-66 145h6m-39-79h6m94-109h6m-274 143h6m213-26h6m31 1h6m-14-35h6m80 80h6m-33 3h6m-66-124h6m-3 138h6m25 5h6m9 24h6m-81-67h6m110-1h6m-241 37h6m188-167h6m-108 130h6m-57-11h6m12 14h6m73-54h6m-96 69h6m-35-37h6m-31-20h6m306 10h6m90 85h6m-232-86h6m-109-63h6m96 36h6m-159-58h6m148 171h6m280-130h6m-139-68h6m-191 165h6m-94-33h6m80-19h6m-62-9h6m125-28h6m-69 95h6m-118-58h6m-2 107h6m236-91h6m-196-121h6m168 91h6m-258 2h6m65 64h6m65-11h6m84-96h6m-148 52h6m33 80h6m-80-187h6m189 23h6m-22-6h6m62 128h6m-204 59h6m41-67h6m-25 38h6m31 91h6m37-127h6m-134-83h6m-117 70h6m-22 23h6m46 88h6m-36-194h6m32 88h6m104-9h6m-127 0h6m21 62h6m0-91h6m154-54h6m-198 63h6m52-3h6m90 54h6m-48 35h6m-84 3h6m-17-66h6m-18 33h6m79 14h6m-134-79h6m131-5h6m140-90h6m-128 22h6m-78 89h6m16-139h6m16 308h6m151-114h6m-96-26h6m-105-99h6m53 33h6m-109-76h6m39 129h6m-61 64h6m58-79h6m-141-79h6m269 7h6m-63 152h6m-95-72h6m-2-17h6m176-18h6m8 192h6m-159-205h6m-61 44h6m108-74h6m-236 176h6m272-72h6m-99-70h6m-36 47h6m-11-34h6m-16-34h6m-6 1h6m97 131h6m-79 89h6m-3-143h6m-105 6h6m-2 8h6m17 96h6m25-242h6m72 350h6m42-172h6m-21-1h6m-152-77h6m-54 2h6m98 105h6m34-98h6m104 17h6m73-38h6m-393-27h6m157 137h6m50-147h6m-78 35h6m4 145h6m23-93h6m18-21h6m-141 181h6m16-201h6m-6 50h6m174-30h6m34 7h6m-181-19h6m396-43h6m-448 278h6m47-199h6m-111-165h6m-37 118h6m91 41h6m100-68h6m-167-40h6m83 80h6m17 40h6m130-31h6m-198 106h6m31-134h6m30 47h6m65-76h6m-103 24h6m141 57h6m-293-76h6m275 159h6m-130-64h6m22-79h6m55 34h6m-274-125h6m57 110h6m120 13h6m67-30h6m16 130h6m-208-147h6m216 248h6m-180-201h6m-91 11h6m171 84h6m100-115h6m-138-43h6m-69 145h6m-9-125h6m78-74h6m1 90h6m45-34h6m-258 11h6m127 138h6m-215-24h6m394-141h6m-294 60h6m221 43h6m-79 6h6m-2-23h6m-63-79h6m64 172h6m-129-109h6m67-111h6m-81-7h6m120 57h6m-74-108h6m-17 189h6m-167 77h6m131-181h6m44 4h6m-221 131h6m207-106h6m-16-25h6m98 248h6m-165-11h6m50-41h6m61-43h6m-101-29h6m-1-35h6m0 9h6m-43 73h6m-12-186h6m70 80h6m-200 151h6m14-69h6m327-41h6m-152-82h6m-46-59h6m321 221h6m-303-14h6m-40-148h6m-2 50h6m97-6h6m-265 110h6m176-114h6m23-87h6m14 129h6m-164-147h6m232 128h6m-216-55h6m104-13h6m44-12h6m-108 144h6m-33-35h6m14 29h6m128-114h6m-45 56h6m19 108h6m-339-25h6m273-60h6m-76 66h6m-139 5h6m275-90h6m-37 33h6m-107-122h6m-55 214h6m200-62h6m-100 16h6m61-156h6m-263 148h6m225-132h6m-109 142h6m241 54h6m-290-67h6m36 34h6m133-82h6m-81-72h6m-11-56h6m-117 253h6m106-223h6m-214 249h6m203-166h6m78-48h6m-262 47h6m-31-30h6m227-15h6m-37 43h6m-7-82h6m-32-40h6m-9 83h6m-56 51h6m-75-142h6m110 227h6m-14-165h6m37 115h6m43-70h6m-93-68h6m-37 172h6m3 6h6m-85-50h6m137 46h6m-142-184h6m127 83h6m43-70h6m-223 99h6m182-16h6m-79-4h6m115-53h6m-96 60h6m-67-72h6m-97 116h6m181-204h6m-7 152h6m-55 151h6m-76-111h6m-55-7h6m98 17h6m33 93h6m1-161h6m-80-24h6m-5-67h6m-95-4h6m149 436h6m-83-7h6m-12-10h6m-8-12h6m76 69h6m-73-65h6m-31 68h6m8-35h6m34-30h6m32 57h6m-65-35h6m47-32h6m-129 20h6m76 2h6m-23 15h6m-7 17h6m50-7h6m-5-27h6m52 49h6m-196-21h6m114-39h6m5 66h6m-41-47h6m34 66h6m-76-98h6m15 6h6m31 53h6m-67 3h6m23-104h6m88 102h6m-75-45h6m-63 41h6m31-33h6m-33-13h6m19 8h6m-10 20h6m77 41h6m-153-30h6m118-38h6m-130 1h6" stroke="#1a1a1a" stroke-width="6" fill="none"/></g>
<text x="106.6" y="211.6" font-size="12.6" fill="#1a1a1a" stroke="#1a1a1a" stroke-width="0.3">0.4%</text>
<text x="64.5" y="240.4" font-size="12.6" fill="#1a1a1a" stroke="#1a1a1a" stroke-width="0.3">0.09%</text>
<text x="50.4" y="203.1" font-size="7.1" text-anchor="end" fill="#222" stroke="#222" stroke-width="0.25">10<tspan font-size="5" dy="-2.9">5</tspan></text>
<text x="50.4" y="222.4" font-size="7.1" text-anchor="end" fill="#222" stroke="#222" stroke-width="0.25">10<tspan font-size="5" dy="-2.9">4</tspan></text>
<text x="50.4" y="242.9" font-size="7.1" text-anchor="end" fill="#222" stroke="#222" stroke-width="0.25">10<tspan font-size="5" dy="-2.9">3</tspan></text>
<text x="46.6" y="263.1" font-size="7.1" text-anchor="end" fill="#222" stroke="#222" stroke-width="0.25">0</text>
<path d="M55.3 200.8h1.7M55.3 220.1h1.7M55.3 240.6h1.7" stroke="#333" stroke-width=".9"/>
<text x="65.4" y="286.3" font-size="7.1" text-anchor="middle" fill="#222" stroke="#222" stroke-width="0.25">0</text>
<text x="87.7" y="286.3" font-size="7.1" fill="#222" stroke="#222" stroke-width="0.25">10<tspan font-size="5" dy="-2.9">3</tspan></text>
<text x="106.5" y="286.3" font-size="7.1" fill="#222" stroke="#222" stroke-width="0.25">10<tspan font-size="5" dy="-2.9">4</tspan></text>
<text x="125.6" y="286.3" font-size="7.1" fill="#222" stroke="#222" stroke-width="0.25">10<tspan font-size="5" dy="-2.9">5</tspan></text>
<path d="M56.7 192.9V273.2" stroke="#606060" stroke-width="1" stroke-dasharray="0.9 1.7"/>
<path d="M65.6 273.2v1.6M75.0 273.2v1.6M83.0 273.2v1.6M87.0 273.2v1.6M93.5 273.2v1.6M101.0 273.2v1.6M105.0 273.2v1.6M111.5 273.2v1.6M119.0 273.2v1.6M123.0 273.2v1.6M129.0 273.2v1.6" stroke="#555" stroke-width=".7"/>
<path d="M56.1 255.7v5.5M61.5 274.1h2.5" stroke="#222" stroke-width="1.4"/>
<text x="214.3" y="211.6" font-size="12.6" fill="#1a1a1a" stroke="#1a1a1a" stroke-width="0.3">0.2%</text>
<text x="172.0" y="240.4" font-size="12.6" fill="#1a1a1a" stroke="#1a1a1a" stroke-width="0.3">0.06%</text>
<text x="158.0" y="203.1" font-size="7.1" text-anchor="end" fill="#222" stroke="#222" stroke-width="0.25">10<tspan font-size="5" dy="-2.9">5</tspan></text>
<text x="158.0" y="222.4" font-size="7.1" text-anchor="end" fill="#222" stroke="#222" stroke-width="0.25">10<tspan font-size="5" dy="-2.9">4</tspan></text>
<text x="158.0" y="242.9" font-size="7.1" text-anchor="end" fill="#222" stroke="#222" stroke-width="0.25">10<tspan font-size="5" dy="-2.9">3</tspan></text>
<text x="154.2" y="263.1" font-size="7.1" text-anchor="end" fill="#222" stroke="#222" stroke-width="0.25">0</text>
<path d="M162.9 200.8h1.7M162.9 220.1h1.7M162.9 240.6h1.7" stroke="#333" stroke-width=".9"/>
<text x="173.0" y="286.3" font-size="7.1" text-anchor="middle" fill="#222" stroke="#222" stroke-width="0.25">0</text>
<text x="195.3" y="286.3" font-size="7.1" fill="#222" stroke="#222" stroke-width="0.25">10<tspan font-size="5" dy="-2.9">3</tspan></text>
<text x="214.1" y="286.3" font-size="7.1" fill="#222" stroke="#222" stroke-width="0.25">10<tspan font-size="5" dy="-2.9">4</tspan></text>
<text x="233.2" y="286.3" font-size="7.1" fill="#222" stroke="#222" stroke-width="0.25">10<tspan font-size="5" dy="-2.9">5</tspan></text>
<path d="M164.3 192.9V273.2" stroke="#606060" stroke-width="1" stroke-dasharray="0.9 1.7"/>
<path d="M173.2 273.2v1.6M182.6 273.2v1.6M190.6 273.2v1.6M194.6 273.2v1.6M201.1 273.2v1.6M208.6 273.2v1.6M212.6 273.2v1.6M219.1 273.2v1.6M226.6 273.2v1.6M230.6 273.2v1.6M236.6 273.2v1.6" stroke="#555" stroke-width=".7"/>
<path d="M163.7 255.7v5.5M169.1 274.1h2.5" stroke="#222" stroke-width="1.4"/>
<text x="323.7" y="211.6" font-size="12.6" fill="#1a1a1a" stroke="#1a1a1a" stroke-width="0.3">77%</text>
<text x="282.7" y="240.4" font-size="12.6" fill="#1a1a1a" stroke="#1a1a1a" stroke-width="0.3">6.3%</text>
<text x="267.4" y="203.1" font-size="7.1" text-anchor="end" fill="#222" stroke="#222" stroke-width="0.25">10<tspan font-size="5" dy="-2.9">5</tspan></text>
<text x="267.4" y="222.4" font-size="7.1" text-anchor="end" fill="#222" stroke="#222" stroke-width="0.25">10<tspan font-size="5" dy="-2.9">4</tspan></text>
<text x="267.4" y="242.9" font-size="7.1" text-anchor="end" fill="#222" stroke="#222" stroke-width="0.25">10<tspan font-size="5" dy="-2.9">3</tspan></text>
<text x="263.6" y="263.1" font-size="7.1" text-anchor="end" fill="#222" stroke="#222" stroke-width="0.25">0</text>
<path d="M272.3 200.8h1.7M272.3 220.1h1.7M272.3 240.6h1.7" stroke="#333" stroke-width=".9"/>
<text x="282.4" y="286.3" font-size="7.1" text-anchor="middle" fill="#222" stroke="#222" stroke-width="0.25">0</text>
<text x="304.7" y="286.3" font-size="7.1" fill="#222" stroke="#222" stroke-width="0.25">10<tspan font-size="5" dy="-2.9">3</tspan></text>
<text x="323.5" y="286.3" font-size="7.1" fill="#222" stroke="#222" stroke-width="0.25">10<tspan font-size="5" dy="-2.9">4</tspan></text>
<text x="342.6" y="286.3" font-size="7.1" fill="#222" stroke="#222" stroke-width="0.25">10<tspan font-size="5" dy="-2.9">5</tspan></text>
<path d="M273.7 192.9V273.2" stroke="#606060" stroke-width="1" stroke-dasharray="0.9 1.7"/>
<path d="M282.6 273.2v1.6M292.0 273.2v1.6M300.0 273.2v1.6M304.0 273.2v1.6M310.5 273.2v1.6M318.0 273.2v1.6M322.0 273.2v1.6M328.5 273.2v1.6M336.0 273.2v1.6M340.0 273.2v1.6M346.0 273.2v1.6" stroke="#555" stroke-width=".7"/>
<path d="M273.1 255.7v5.5M278.5 274.1h2.5" stroke="#222" stroke-width="1.4"/>
<text x="432.8" y="211.6" font-size="12.6" fill="#1a1a1a" stroke="#1a1a1a" stroke-width="0.3">95%</text>
<text x="391.0" y="240.4" font-size="12.6" fill="#1a1a1a" stroke="#1a1a1a" stroke-width="0.3">40%</text>
<text x="376.5" y="203.1" font-size="7.1" text-anchor="end" fill="#222" stroke="#222" stroke-width="0.25">10<tspan font-size="5" dy="-2.9">5</tspan></text>
<text x="376.5" y="222.4" font-size="7.1" text-anchor="end" fill="#222" stroke="#222" stroke-width="0.25">10<tspan font-size="5" dy="-2.9">4</tspan></text>
<text x="376.5" y="242.9" font-size="7.1" text-anchor="end" fill="#222" stroke="#222" stroke-width="0.25">10<tspan font-size="5" dy="-2.9">3</tspan></text>
<text x="372.7" y="263.1" font-size="7.1" text-anchor="end" fill="#222" stroke="#222" stroke-width="0.25">0</text>
<path d="M381.4 200.8h1.7M381.4 220.1h1.7M381.4 240.6h1.7" stroke="#333" stroke-width=".9"/>
<text x="391.5" y="286.3" font-size="7.1" text-anchor="middle" fill="#222" stroke="#222" stroke-width="0.25">0</text>
<text x="413.8" y="286.3" font-size="7.1" fill="#222" stroke="#222" stroke-width="0.25">10<tspan font-size="5" dy="-2.9">3</tspan></text>
<text x="432.6" y="286.3" font-size="7.1" fill="#222" stroke="#222" stroke-width="0.25">10<tspan font-size="5" dy="-2.9">4</tspan></text>
<text x="451.7" y="286.3" font-size="7.1" fill="#222" stroke="#222" stroke-width="0.25">10<tspan font-size="5" dy="-2.9">5</tspan></text>
<path d="M382.8 192.9V273.2" stroke="#606060" stroke-width="1" stroke-dasharray="0.9 1.7"/>
<path d="M391.7 273.2v1.6M401.1 273.2v1.6M409.1 273.2v1.6M413.1 273.2v1.6M419.6 273.2v1.6M427.1 273.2v1.6M431.1 273.2v1.6M437.6 273.2v1.6M445.1 273.2v1.6M449.1 273.2v1.6M455.1 273.2v1.6" stroke="#555" stroke-width=".7"/>
<path d="M382.2 255.7v5.5M387.6 274.1h2.5" stroke="#222" stroke-width="1.4"/>
<text x="107.2" y="310.8" font-size="12.6" fill="#1a1a1a" stroke="#1a1a1a" stroke-width="0.3">6.1%</text>
<text x="64.9" y="339.0" font-size="12.6" fill="#1a1a1a" stroke="#1a1a1a" stroke-width="0.3">2.3%</text>
<text x="50.4" y="298.6" font-size="7.1" text-anchor="end" fill="#222" stroke="#222" stroke-width="0.25">10<tspan font-size="5" dy="-2.9">5</tspan></text>
<text x="50.4" y="317.9" font-size="7.1" text-anchor="end" fill="#222" stroke="#222" stroke-width="0.25">10<tspan font-size="5" dy="-2.9">4</tspan></text>
<text x="50.4" y="338.4" font-size="7.1" text-anchor="end" fill="#222" stroke="#222" stroke-width="0.25">10<tspan font-size="5" dy="-2.9">3</tspan></text>
<text x="46.6" y="358.6" font-size="7.1" text-anchor="end" fill="#222" stroke="#222" stroke-width="0.25">0</text>
<path d="M55.3 296.3h1.7M55.3 315.6h1.7M55.3 336.1h1.7" stroke="#333" stroke-width=".9"/>
<text x="65.4" y="382.9" font-size="7.1" text-anchor="middle" fill="#222" stroke="#222" stroke-width="0.25">0</text>
<text x="87.7" y="382.9" font-size="7.1" fill="#222" stroke="#222" stroke-width="0.25">10<tspan font-size="5" dy="-2.9">3</tspan></text>
<text x="106.5" y="382.9" font-size="7.1" fill="#222" stroke="#222" stroke-width="0.25">10<tspan font-size="5" dy="-2.9">4</tspan></text>
<text x="125.6" y="382.9" font-size="7.1" fill="#222" stroke="#222" stroke-width="0.25">10<tspan font-size="5" dy="-2.9">5</tspan></text>
<path d="M56.7 292.5V371.0" stroke="#606060" stroke-width="1" stroke-dasharray="0.9 1.7"/>
<path d="M65.6 371.0v1.6M75.0 371.0v1.6M83.0 371.0v1.6M87.0 371.0v1.6M93.5 371.0v1.6M101.0 371.0v1.6M105.0 371.0v1.6M111.5 371.0v1.6M119.0 371.0v1.6M123.0 371.0v1.6M129.0 371.0v1.6" stroke="#555" stroke-width=".7"/>
<path d="M56.1 351.2v5.5M61.5 371.9h2.5" stroke="#222" stroke-width="1.4"/>
<text x="215.0" y="310.8" font-size="12.6" fill="#1a1a1a" stroke="#1a1a1a" stroke-width="0.3">1.0%</text>
<text x="172.7" y="339.0" font-size="12.6" fill="#1a1a1a" stroke="#1a1a1a" stroke-width="0.3">0.7%</text>
<text x="158.0" y="298.6" font-size="7.1" text-anchor="end" fill="#222" stroke="#222" stroke-width="0.25">10<tspan font-size="5" dy="-2.9">5</tspan></text>
<text x="158.0" y="317.9" font-size="7.1" text-anchor="end" fill="#222" stroke="#222" stroke-width="0.25">10<tspan font-size="5" dy="-2.9">4</tspan></text>
<text x="158.0" y="338.4" font-size="7.1" text-anchor="end" fill="#222" stroke="#222" stroke-width="0.25">10<tspan font-size="5" dy="-2.9">3</tspan></text>
<text x="154.2" y="358.6" font-size="7.1" text-anchor="end" fill="#222" stroke="#222" stroke-width="0.25">0</text>
<path d="M162.9 296.3h1.7M162.9 315.6h1.7M162.9 336.1h1.7" stroke="#333" stroke-width=".9"/>
<text x="173.0" y="382.9" font-size="7.1" text-anchor="middle" fill="#222" stroke="#222" stroke-width="0.25">0</text>
<text x="195.3" y="382.9" font-size="7.1" fill="#222" stroke="#222" stroke-width="0.25">10<tspan font-size="5" dy="-2.9">3</tspan></text>
<text x="214.1" y="382.9" font-size="7.1" fill="#222" stroke="#222" stroke-width="0.25">10<tspan font-size="5" dy="-2.9">4</tspan></text>
<text x="233.2" y="382.9" font-size="7.1" fill="#222" stroke="#222" stroke-width="0.25">10<tspan font-size="5" dy="-2.9">5</tspan></text>
<path d="M164.3 292.5V371.0" stroke="#606060" stroke-width="1" stroke-dasharray="0.9 1.7"/>
<path d="M173.2 371.0v1.6M182.6 371.0v1.6M190.6 371.0v1.6M194.6 371.0v1.6M201.1 371.0v1.6M208.6 371.0v1.6M212.6 371.0v1.6M219.1 371.0v1.6M226.6 371.0v1.6M230.6 371.0v1.6M236.6 371.0v1.6" stroke="#555" stroke-width=".7"/>
<path d="M163.7 351.2v5.5M169.1 371.9h2.5" stroke="#222" stroke-width="1.4"/>
<text x="323.7" y="310.8" font-size="12.6" fill="#1a1a1a" stroke="#1a1a1a" stroke-width="0.3">96%</text>
<text x="282.0" y="339.0" font-size="12.6" fill="#1a1a1a" stroke="#1a1a1a" stroke-width="0.3">12%</text>
<text x="267.4" y="298.6" font-size="7.1" text-anchor="end" fill="#222" stroke="#222" stroke-width="0.25">10<tspan font-size="5" dy="-2.9">5</tspan></text>
<text x="267.4" y="317.9" font-size="7.1" text-anchor="end" fill="#222" stroke="#222" stroke-width="0.25">10<tspan font-size="5" dy="-2.9">4</tspan></text>
<text x="267.4" y="338.4" font-size="7.1" text-anchor="end" fill="#222" stroke="#222" stroke-width="0.25">10<tspan font-size="5" dy="-2.9">3</tspan></text>
<text x="263.6" y="358.6" font-size="7.1" text-anchor="end" fill="#222" stroke="#222" stroke-width="0.25">0</text>
<path d="M272.3 296.3h1.7M272.3 315.6h1.7M272.3 336.1h1.7" stroke="#333" stroke-width=".9"/>
<text x="282.4" y="382.9" font-size="7.1" text-anchor="middle" fill="#222" stroke="#222" stroke-width="0.25">0</text>
<text x="304.7" y="382.9" font-size="7.1" fill="#222" stroke="#222" stroke-width="0.25">10<tspan font-size="5" dy="-2.9">3</tspan></text>
<text x="323.5" y="382.9" font-size="7.1" fill="#222" stroke="#222" stroke-width="0.25">10<tspan font-size="5" dy="-2.9">4</tspan></text>
<text x="342.6" y="382.9" font-size="7.1" fill="#222" stroke="#222" stroke-width="0.25">10<tspan font-size="5" dy="-2.9">5</tspan></text>
<path d="M273.7 292.5V371.0" stroke="#606060" stroke-width="1" stroke-dasharray="0.9 1.7"/>
<path d="M282.6 371.0v1.6M292.0 371.0v1.6M300.0 371.0v1.6M304.0 371.0v1.6M310.5 371.0v1.6M318.0 371.0v1.6M322.0 371.0v1.6M328.5 371.0v1.6M336.0 371.0v1.6M340.0 371.0v1.6M346.0 371.0v1.6" stroke="#555" stroke-width=".7"/>
<path d="M273.1 351.2v5.5M278.5 371.9h2.5" stroke="#222" stroke-width="1.4"/>
<text x="432.8" y="310.8" font-size="12.6" fill="#1a1a1a" stroke="#1a1a1a" stroke-width="0.3">98%</text>
<text x="389.9" y="339.0" font-size="12.6" fill="#1a1a1a" stroke="#1a1a1a" stroke-width="0.3">63%</text>
<text x="376.5" y="298.6" font-size="7.1" text-anchor="end" fill="#222" stroke="#222" stroke-width="0.25">10<tspan font-size="5" dy="-2.9">5</tspan></text>
<text x="376.5" y="317.9" font-size="7.1" text-anchor="end" fill="#222" stroke="#222" stroke-width="0.25">10<tspan font-size="5" dy="-2.9">4</tspan></text>
<text x="376.5" y="338.4" font-size="7.1" text-anchor="end" fill="#222" stroke="#222" stroke-width="0.25">10<tspan font-size="5" dy="-2.9">3</tspan></text>
<text x="372.7" y="358.6" font-size="7.1" text-anchor="end" fill="#222" stroke="#222" stroke-width="0.25">0</text>
<path d="M381.4 296.3h1.7M381.4 315.6h1.7M381.4 336.1h1.7" stroke="#333" stroke-width=".9"/>
<text x="391.5" y="382.9" font-size="7.1" text-anchor="middle" fill="#222" stroke="#222" stroke-width="0.25">0</text>
<text x="413.8" y="382.9" font-size="7.1" fill="#222" stroke="#222" stroke-width="0.25">10<tspan font-size="5" dy="-2.9">3</tspan></text>
<text x="432.6" y="382.9" font-size="7.1" fill="#222" stroke="#222" stroke-width="0.25">10<tspan font-size="5" dy="-2.9">4</tspan></text>
<text x="451.7" y="382.9" font-size="7.1" fill="#222" stroke="#222" stroke-width="0.25">10<tspan font-size="5" dy="-2.9">5</tspan></text>
<path d="M382.8 292.5V371.0" stroke="#606060" stroke-width="1" stroke-dasharray="0.9 1.7"/>
<path d="M391.7 371.0v1.6M401.1 371.0v1.6M409.1 371.0v1.6M413.1 371.0v1.6M419.6 371.0v1.6M427.1 371.0v1.6M431.1 371.0v1.6M437.6 371.0v1.6M445.1 371.0v1.6M449.1 371.0v1.6M455.1 371.0v1.6" stroke="#555" stroke-width=".7"/>
<path d="M382.2 351.2v5.5M387.6 371.9h2.5" stroke="#222" stroke-width="1.4"/>
<text x="109.3" y="428.2" font-size="12.6" fill="#1a1a1a" stroke="#1a1a1a" stroke-width="0.3">0.2%</text>
<text x="65.5" y="456.7" font-size="12.6" fill="#1a1a1a" stroke="#1a1a1a" stroke-width="0.3">0.07%</text>
<text x="50.4" y="416.7" font-size="7.1" text-anchor="end" fill="#222" stroke="#222" stroke-width="0.25">10<tspan font-size="5" dy="-2.9">5</tspan></text>
<text x="50.4" y="436.0" font-size="7.1" text-anchor="end" fill="#222" stroke="#222" stroke-width="0.25">10<tspan font-size="5" dy="-2.9">4</tspan></text>
<text x="50.4" y="456.5" font-size="7.1" text-anchor="end" fill="#222" stroke="#222" stroke-width="0.25">10<tspan font-size="5" dy="-2.9">3</tspan></text>
<text x="46.6" y="476.7" font-size="7.1" text-anchor="end" fill="#222" stroke="#222" stroke-width="0.25">0</text>
<path d="M55.3 414.4h1.7M55.3 433.7h1.7M55.3 454.2h1.7" stroke="#333" stroke-width=".9"/>
<text x="65.4" y="499.3" font-size="7.1" text-anchor="middle" fill="#222" stroke="#222" stroke-width="0.25">0</text>
<text x="87.7" y="499.3" font-size="7.1" fill="#222" stroke="#222" stroke-width="0.25">10<tspan font-size="5" dy="-2.9">3</tspan></text>
<text x="106.5" y="499.3" font-size="7.1" fill="#222" stroke="#222" stroke-width="0.25">10<tspan font-size="5" dy="-2.9">4</tspan></text>
<text x="125.6" y="499.3" font-size="7.1" fill="#222" stroke="#222" stroke-width="0.25">10<tspan font-size="5" dy="-2.9">5</tspan></text>
<path d="M56.7 407.6V487.4" stroke="#606060" stroke-width="1" stroke-dasharray="0.9 1.7"/>
<path d="M65.6 487.4v1.6M75.0 487.4v1.6M83.0 487.4v1.6M87.0 487.4v1.6M93.5 487.4v1.6M101.0 487.4v1.6M105.0 487.4v1.6M111.5 487.4v1.6M119.0 487.4v1.6M123.0 487.4v1.6M129.0 487.4v1.6" stroke="#555" stroke-width=".7"/>
<path d="M56.1 469.3v5.5M61.5 488.3h2.5" stroke="#222" stroke-width="1.4"/>
<text x="216.4" y="428.2" font-size="12.6" fill="#1a1a1a" stroke="#1a1a1a" stroke-width="0.3">0.2%</text>
<text x="174.1" y="456.7" font-size="12.6" fill="#1a1a1a" stroke="#1a1a1a" stroke-width="0.3">0.09%</text>
<text x="158.0" y="416.7" font-size="7.1" text-anchor="end" fill="#222" stroke="#222" stroke-width="0.25">10<tspan font-size="5" dy="-2.9">5</tspan></text>
<text x="158.0" y="436.0" font-size="7.1" text-anchor="end" fill="#222" stroke="#222" stroke-width="0.25">10<tspan font-size="5" dy="-2.9">4</tspan></text>
<text x="158.0" y="456.5" font-size="7.1" text-anchor="end" fill="#222" stroke="#222" stroke-width="0.25">10<tspan font-size="5" dy="-2.9">3</tspan></text>
<text x="154.2" y="476.7" font-size="7.1" text-anchor="end" fill="#222" stroke="#222" stroke-width="0.25">0</text>
<path d="M162.9 414.4h1.7M162.9 433.7h1.7M162.9 454.2h1.7" stroke="#333" stroke-width=".9"/>
<text x="173.0" y="499.3" font-size="7.1" text-anchor="middle" fill="#222" stroke="#222" stroke-width="0.25">0</text>
<text x="195.3" y="499.3" font-size="7.1" fill="#222" stroke="#222" stroke-width="0.25">10<tspan font-size="5" dy="-2.9">3</tspan></text>
<text x="214.1" y="499.3" font-size="7.1" fill="#222" stroke="#222" stroke-width="0.25">10<tspan font-size="5" dy="-2.9">4</tspan></text>
<text x="233.2" y="499.3" font-size="7.1" fill="#222" stroke="#222" stroke-width="0.25">10<tspan font-size="5" dy="-2.9">5</tspan></text>
<path d="M164.3 407.6V487.4" stroke="#606060" stroke-width="1" stroke-dasharray="0.9 1.7"/>
<path d="M173.2 487.4v1.6M182.6 487.4v1.6M190.6 487.4v1.6M194.6 487.4v1.6M201.1 487.4v1.6M208.6 487.4v1.6M212.6 487.4v1.6M219.1 487.4v1.6M226.6 487.4v1.6M230.6 487.4v1.6M236.6 487.4v1.6" stroke="#555" stroke-width=".7"/>
<path d="M163.7 469.3v5.5M169.1 488.3h2.5" stroke="#222" stroke-width="1.4"/>
<text x="324.3" y="428.2" font-size="12.6" fill="#1a1a1a" stroke="#1a1a1a" stroke-width="0.3">89%</text>
<text x="283.5" y="456.7" font-size="12.6" fill="#1a1a1a" stroke="#1a1a1a" stroke-width="0.3">4.3%</text>
<text x="267.4" y="416.7" font-size="7.1" text-anchor="end" fill="#222" stroke="#222" stroke-width="0.25">10<tspan font-size="5" dy="-2.9">5</tspan></text>
<text x="267.4" y="436.0" font-size="7.1" text-anchor="end" fill="#222" stroke="#222" stroke-width="0.25">10<tspan font-size="5" dy="-2.9">4</tspan></text>
<text x="267.4" y="456.5" font-size="7.1" text-anchor="end" fill="#222" stroke="#222" stroke-width="0.25">10<tspan font-size="5" dy="-2.9">3</tspan></text>
<text x="263.6" y="476.7" font-size="7.1" text-anchor="end" fill="#222" stroke="#222" stroke-width="0.25">0</text>
<path d="M272.3 414.4h1.7M272.3 433.7h1.7M272.3 454.2h1.7" stroke="#333" stroke-width=".9"/>
<text x="282.4" y="499.3" font-size="7.1" text-anchor="middle" fill="#222" stroke="#222" stroke-width="0.25">0</text>
<text x="304.7" y="499.3" font-size="7.1" fill="#222" stroke="#222" stroke-width="0.25">10<tspan font-size="5" dy="-2.9">3</tspan></text>
<text x="323.5" y="499.3" font-size="7.1" fill="#222" stroke="#222" stroke-width="0.25">10<tspan font-size="5" dy="-2.9">4</tspan></text>
<text x="342.6" y="499.3" font-size="7.1" fill="#222" stroke="#222" stroke-width="0.25">10<tspan font-size="5" dy="-2.9">5</tspan></text>
<path d="M273.7 407.6V487.4" stroke="#606060" stroke-width="1" stroke-dasharray="0.9 1.7"/>
<path d="M282.6 487.4v1.6M292.0 487.4v1.6M300.0 487.4v1.6M304.0 487.4v1.6M310.5 487.4v1.6M318.0 487.4v1.6M322.0 487.4v1.6M328.5 487.4v1.6M336.0 487.4v1.6M340.0 487.4v1.6M346.0 487.4v1.6" stroke="#555" stroke-width=".7"/>
<path d="M273.1 469.3v5.5M278.5 488.3h2.5" stroke="#222" stroke-width="1.4"/>
<text x="433.7" y="428.2" font-size="12.6" fill="#1a1a1a" stroke="#1a1a1a" stroke-width="0.3">96%</text>
<text x="392.4" y="456.7" font-size="12.6" fill="#1a1a1a" stroke="#1a1a1a" stroke-width="0.3">28%</text>
<text x="376.5" y="416.7" font-size="7.1" text-anchor="end" fill="#222" stroke="#222" stroke-width="0.25">10<tspan font-size="5" dy="-2.9">5</tspan></text>
<text x="376.5" y="436.0" font-size="7.1" text-anchor="end" fill="#222" stroke="#222" stroke-width="0.25">10<tspan font-size="5" dy="-2.9">4</tspan></text>
<text x="376.5" y="456.5" font-size="7.1" text-anchor="end" fill="#222" stroke="#222" stroke-width="0.25">10<tspan font-size="5" dy="-2.9">3</tspan></text>
<text x="372.7" y="476.7" font-size="7.1" text-anchor="end" fill="#222" stroke="#222" stroke-width="0.25">0</text>
<path d="M381.4 414.4h1.7M381.4 433.7h1.7M381.4 454.2h1.7" stroke="#333" stroke-width=".9"/>
<text x="391.5" y="499.3" font-size="7.1" text-anchor="middle" fill="#222" stroke="#222" stroke-width="0.25">0</text>
<text x="413.8" y="499.3" font-size="7.1" fill="#222" stroke="#222" stroke-width="0.25">10<tspan font-size="5" dy="-2.9">3</tspan></text>
<text x="432.6" y="499.3" font-size="7.1" fill="#222" stroke="#222" stroke-width="0.25">10<tspan font-size="5" dy="-2.9">4</tspan></text>
<text x="451.7" y="499.3" font-size="7.1" fill="#222" stroke="#222" stroke-width="0.25">10<tspan font-size="5" dy="-2.9">5</tspan></text>
<path d="M382.8 407.6V487.4" stroke="#606060" stroke-width="1" stroke-dasharray="0.9 1.7"/>
<path d="M391.7 487.4v1.6M401.1 487.4v1.6M409.1 487.4v1.6M413.1 487.4v1.6M419.6 487.4v1.6M427.1 487.4v1.6M431.1 487.4v1.6M437.6 487.4v1.6M445.1 487.4v1.6M449.1 487.4v1.6M455.1 487.4v1.6" stroke="#555" stroke-width=".7"/>
<path d="M382.2 469.3v5.5M387.6 488.3h2.5" stroke="#222" stroke-width="1.4"/>
<text x="108.7" y="525.2" font-size="12.6" fill="#1a1a1a" stroke="#1a1a1a" stroke-width="0.3">0.3%</text>
<text x="66.0" y="550.4" font-size="12.6" fill="#1a1a1a" stroke="#1a1a1a" stroke-width="0.3">0.2%</text>
<text x="50.4" y="511.9" font-size="7.1" text-anchor="end" fill="#222" stroke="#222" stroke-width="0.25">10<tspan font-size="5" dy="-2.9">5</tspan></text>
<text x="50.4" y="531.2" font-size="7.1" text-anchor="end" fill="#222" stroke="#222" stroke-width="0.25">10<tspan font-size="5" dy="-2.9">4</tspan></text>
<text x="50.4" y="551.7" font-size="7.1" text-anchor="end" fill="#222" stroke="#222" stroke-width="0.25">10<tspan font-size="5" dy="-2.9">3</tspan></text>
<text x="46.6" y="571.9" font-size="7.1" text-anchor="end" fill="#222" stroke="#222" stroke-width="0.25">0</text>
<path d="M55.3 509.6h1.7M55.3 528.9h1.7M55.3 549.4h1.7" stroke="#333" stroke-width=".9"/>
<text x="65.4" y="595.1" font-size="7.1" text-anchor="middle" fill="#222" stroke="#222" stroke-width="0.25">0</text>
<text x="87.7" y="595.1" font-size="7.1" fill="#222" stroke="#222" stroke-width="0.25">10<tspan font-size="5" dy="-2.9">3</tspan></text>
<text x="106.5" y="595.1" font-size="7.1" fill="#222" stroke="#222" stroke-width="0.25">10<tspan font-size="5" dy="-2.9">4</tspan></text>
<text x="125.6" y="595.1" font-size="7.1" fill="#222" stroke="#222" stroke-width="0.25">10<tspan font-size="5" dy="-2.9">5</tspan></text>
<path d="M56.7 509.0V582.0" stroke="#606060" stroke-width="1" stroke-dasharray="0.9 1.7"/>
<path d="M65.6 582.0v1.6M75.0 582.0v1.6M83.0 582.0v1.6M87.0 582.0v1.6M93.5 582.0v1.6M101.0 582.0v1.6M105.0 582.0v1.6M111.5 582.0v1.6M119.0 582.0v1.6M123.0 582.0v1.6M129.0 582.0v1.6" stroke="#555" stroke-width=".7"/>
<path d="M56.1 564.5v5.5M61.5 582.9h2.5" stroke="#222" stroke-width="1.4"/>
<text x="216.4" y="525.2" font-size="12.6" fill="#1a1a1a" stroke="#1a1a1a" stroke-width="0.3">0.07%</text>
<text x="173.5" y="550.4" font-size="12.6" fill="#1a1a1a" stroke="#1a1a1a" stroke-width="0.3">0.06%</text>
<text x="158.0" y="511.9" font-size="7.1" text-anchor="end" fill="#222" stroke="#222" stroke-width="0.25">10<tspan font-size="5" dy="-2.9">5</tspan></text>
<text x="158.0" y="531.2" font-size="7.1" text-anchor="end" fill="#222" stroke="#222" stroke-width="0.25">10<tspan font-size="5" dy="-2.9">4</tspan></text>
<text x="158.0" y="551.7" font-size="7.1" text-anchor="end" fill="#222" stroke="#222" stroke-width="0.25">10<tspan font-size="5" dy="-2.9">3</tspan></text>
<text x="154.2" y="571.9" font-size="7.1" text-anchor="end" fill="#222" stroke="#222" stroke-width="0.25">0</text>
<path d="M162.9 509.6h1.7M162.9 528.9h1.7M162.9 549.4h1.7" stroke="#333" stroke-width=".9"/>
<text x="173.0" y="595.1" font-size="7.1" text-anchor="middle" fill="#222" stroke="#222" stroke-width="0.25">0</text>
<text x="195.3" y="595.1" font-size="7.1" fill="#222" stroke="#222" stroke-width="0.25">10<tspan font-size="5" dy="-2.9">3</tspan></text>
<text x="214.1" y="595.1" font-size="7.1" fill="#222" stroke="#222" stroke-width="0.25">10<tspan font-size="5" dy="-2.9">4</tspan></text>
<text x="233.2" y="595.1" font-size="7.1" fill="#222" stroke="#222" stroke-width="0.25">10<tspan font-size="5" dy="-2.9">5</tspan></text>
<path d="M164.3 509.0V582.0" stroke="#606060" stroke-width="1" stroke-dasharray="0.9 1.7"/>
<path d="M173.2 582.0v1.6M182.6 582.0v1.6M190.6 582.0v1.6M194.6 582.0v1.6M201.1 582.0v1.6M208.6 582.0v1.6M212.6 582.0v1.6M219.1 582.0v1.6M226.6 582.0v1.6M230.6 582.0v1.6M236.6 582.0v1.6" stroke="#555" stroke-width=".7"/>
<path d="M163.7 564.5v5.5M169.1 582.9h2.5" stroke="#222" stroke-width="1.4"/>
<text x="324.8" y="525.2" font-size="12.6" fill="#1a1a1a" stroke="#1a1a1a" stroke-width="0.3">92%</text>
<text x="282.7" y="550.4" font-size="12.6" fill="#1a1a1a" stroke="#1a1a1a" stroke-width="0.3">5.4%</text>
<text x="267.4" y="511.9" font-size="7.1" text-anchor="end" fill="#222" stroke="#222" stroke-width="0.25">10<tspan font-size="5" dy="-2.9">5</tspan></text>
<text x="267.4" y="531.2" font-size="7.1" text-anchor="end" fill="#222" stroke="#222" stroke-width="0.25">10<tspan font-size="5" dy="-2.9">4</tspan></text>
<text x="267.4" y="551.7" font-size="7.1" text-anchor="end" fill="#222" stroke="#222" stroke-width="0.25">10<tspan font-size="5" dy="-2.9">3</tspan></text>
<text x="263.6" y="571.9" font-size="7.1" text-anchor="end" fill="#222" stroke="#222" stroke-width="0.25">0</text>
<path d="M272.3 509.6h1.7M272.3 528.9h1.7M272.3 549.4h1.7" stroke="#333" stroke-width=".9"/>
<text x="282.4" y="595.1" font-size="7.1" text-anchor="middle" fill="#222" stroke="#222" stroke-width="0.25">0</text>
<text x="304.7" y="595.1" font-size="7.1" fill="#222" stroke="#222" stroke-width="0.25">10<tspan font-size="5" dy="-2.9">3</tspan></text>
<text x="323.5" y="595.1" font-size="7.1" fill="#222" stroke="#222" stroke-width="0.25">10<tspan font-size="5" dy="-2.9">4</tspan></text>
<text x="342.6" y="595.1" font-size="7.1" fill="#222" stroke="#222" stroke-width="0.25">10<tspan font-size="5" dy="-2.9">5</tspan></text>
<path d="M273.7 509.0V582.0" stroke="#606060" stroke-width="1" stroke-dasharray="0.9 1.7"/>
<path d="M282.6 582.0v1.6M292.0 582.0v1.6M300.0 582.0v1.6M304.0 582.0v1.6M310.5 582.0v1.6M318.0 582.0v1.6M322.0 582.0v1.6M328.5 582.0v1.6M336.0 582.0v1.6M340.0 582.0v1.6M346.0 582.0v1.6" stroke="#555" stroke-width=".7"/>
<path d="M273.1 564.5v5.5M278.5 582.9h2.5" stroke="#222" stroke-width="1.4"/>
<text x="435.0" y="525.2" font-size="12.6" fill="#1a1a1a" stroke="#1a1a1a" stroke-width="0.3">96%</text>
<text x="390.5" y="550.4" font-size="12.6" fill="#1a1a1a" stroke="#1a1a1a" stroke-width="0.3">44%</text>
<text x="376.5" y="511.9" font-size="7.1" text-anchor="end" fill="#222" stroke="#222" stroke-width="0.25">10<tspan font-size="5" dy="-2.9">5</tspan></text>
<text x="376.5" y="531.2" font-size="7.1" text-anchor="end" fill="#222" stroke="#222" stroke-width="0.25">10<tspan font-size="5" dy="-2.9">4</tspan></text>
<text x="376.5" y="551.7" font-size="7.1" text-anchor="end" fill="#222" stroke="#222" stroke-width="0.25">10<tspan font-size="5" dy="-2.9">3</tspan></text>
<text x="372.7" y="571.9" font-size="7.1" text-anchor="end" fill="#222" stroke="#222" stroke-width="0.25">0</text>
<path d="M381.4 509.6h1.7M381.4 528.9h1.7M381.4 549.4h1.7" stroke="#333" stroke-width=".9"/>
<text x="391.5" y="595.1" font-size="7.1" text-anchor="middle" fill="#222" stroke="#222" stroke-width="0.25">0</text>
<text x="413.8" y="595.1" font-size="7.1" fill="#222" stroke="#222" stroke-width="0.25">10<tspan font-size="5" dy="-2.9">3</tspan></text>
<text x="432.6" y="595.1" font-size="7.1" fill="#222" stroke="#222" stroke-width="0.25">10<tspan font-size="5" dy="-2.9">4</tspan></text>
<text x="451.7" y="595.1" font-size="7.1" fill="#222" stroke="#222" stroke-width="0.25">10<tspan font-size="5" dy="-2.9">5</tspan></text>
<path d="M382.8 509.0V582.0" stroke="#606060" stroke-width="1" stroke-dasharray="0.9 1.7"/>
<path d="M391.7 582.0v1.6M401.1 582.0v1.6M409.1 582.0v1.6M413.1 582.0v1.6M419.6 582.0v1.6M427.1 582.0v1.6M431.1 582.0v1.6M437.6 582.0v1.6M445.1 582.0v1.6M449.1 582.0v1.6M455.1 582.0v1.6" stroke="#555" stroke-width=".7"/>
<path d="M382.2 564.5v5.5M387.6 582.9h2.5" stroke="#222" stroke-width="1.4"/>
<path d="M292.9 187.1V198" stroke="#111" stroke-width="1.9"/><path d="M289.0 196.2L292.9 198.6L296.7 196.2L292.9 206.4Z" fill="#111"/>
<path d="M402.0 187.1V198" stroke="#111" stroke-width="1.9"/><path d="M398.1 196.2L402.0 198.6L405.8 196.2L402.0 206.4Z" fill="#111"/>
<text x="57.8" y="185.3" font-size="9.6" fill="#1a1a1a" stroke="#222" stroke-width="0.25" textLength="39.7" lengthAdjust="spacingAndGlyphs">Patient 1</text>
<path d="M57.5 186.9H99" stroke="#222" stroke-width="0.9"/>
<text x="59.8" y="398.8" font-size="9" fill="#333" textLength="35.8" lengthAdjust="spacingAndGlyphs">Patient 2</text>
<path d="M59.5 400.2H96" stroke="#444" stroke-width="0.9"/>
<text x="474.1" y="185.3" font-size="9.6" fill="#1a1a1a" stroke="#222" stroke-width="0.25" textLength="36.7" lengthAdjust="spacingAndGlyphs">anti-IgM</text>
<path d="M474 187.1H511" stroke="#222" stroke-width="0.9"/>
<text x="7.8" y="184.7" font-size="14" font-weight="bold" fill="#000">B</text>
<path d="M27.7 212V517.5" stroke="#111" stroke-width="1.8"/>
<path d="M27.7 203.4L31.9 213.3L27.7 210.9L23.5 213.3Z" fill="#111"/>
<text transform="translate(29.8 531.5) rotate(-90)" font-size="9.5" text-anchor="middle" fill="#1a1a1a" stroke="#1a1a1a" stroke-width="0.3" textLength="24" lengthAdjust="spacingAndGlyphs">Ki-67</text>
<text x="70.6" y="610.8" font-size="10.6" fill="#1a1a1a" stroke="#1a1a1a" stroke-width="0.3" textLength="22.4" lengthAdjust="spacingAndGlyphs">CD19</text>
<path d="M97.5 607.4H416" stroke="#111" stroke-width="1.9"/>
<path d="M425.4 607.5L415 611.8L417.6 607.5L415 603.2Z" fill="#111"/>
<text x="38.8" y="625.1" font-size="9.7" fill="#1a1a1a" stroke="#1a1a1a" stroke-width="0.3">CpG:</text>
<text x="38.8" y="637.8" font-size="9.7" fill="#1a1a1a" stroke="#1a1a1a" stroke-width="0.3">ATRA:</text>
<path d="M491.3 239.2h2.8M489.9 335.2h5.6M492.7 332.4v5.6M491.3 452.4h2.8M489.9 547.6h5.6M492.7 544.8v5.6M95.0 622.6h2.8M95.0 635.6h2.8M197.6 622.6h2.8M196.2 635.6h5.6M199.0 632.8v5.6M310.1 622.6h5.6M312.9 619.8v5.6M311.5 635.6h2.8M415.6 622.6h5.6M418.4 619.8v5.6M415.6 635.6h5.6M418.4 632.8v5.6" stroke="#1e1e1e" stroke-width="1.1"/>
<text transform="translate(7.9 671.7) scale(0.9 1)" font-size="16.4" fill="#000" stroke="#000" stroke-width="0.75">C</text>
<text x="66.4" y="804.9" font-size="8.9" textLength="5.2" lengthAdjust="spacingAndGlyphs" fill="#1a1a1a" stroke="#1a1a1a" stroke-width="0.3">0</text>
<path d="M75.5 801.7h4.3" stroke="#111" stroke-width="1.4"/>
<text x="45.5" y="785.2" font-size="8.9" textLength="26.1" lengthAdjust="spacingAndGlyphs" fill="#1a1a1a" stroke="#1a1a1a" stroke-width="0.3">20000</text>
<path d="M75.5 782.0h4.3" stroke="#111" stroke-width="1.4"/>
<text x="45.5" y="765.6" font-size="8.9" textLength="26.1" lengthAdjust="spacingAndGlyphs" fill="#1a1a1a" stroke="#1a1a1a" stroke-width="0.3">40000</text>
<path d="M75.5 762.4h4.3" stroke="#111" stroke-width="1.4"/>
<text x="45.5" y="745.9" font-size="8.9" textLength="26.1" lengthAdjust="spacingAndGlyphs" fill="#1a1a1a" stroke="#1a1a1a" stroke-width="0.3">60000</text>
<path d="M75.5 742.7h4.3" stroke="#111" stroke-width="1.4"/>
<text x="45.5" y="726.3" font-size="8.9" textLength="26.1" lengthAdjust="spacingAndGlyphs" fill="#1a1a1a" stroke="#1a1a1a" stroke-width="0.3">80000</text>
<path d="M75.5 723.1h4.3" stroke="#111" stroke-width="1.4"/>
<text x="40.3" y="706.6" font-size="8.9" textLength="31.3" lengthAdjust="spacingAndGlyphs" fill="#1a1a1a" stroke="#1a1a1a" stroke-width="0.3">100000</text>
<path d="M75.5 703.4h4.3" stroke="#111" stroke-width="1.4"/>
<text x="40.3" y="686.9" font-size="8.9" textLength="31.3" lengthAdjust="spacingAndGlyphs" fill="#1a1a1a" stroke="#1a1a1a" stroke-width="0.3">120000</text>
<path d="M75.5 683.7h4.3" stroke="#111" stroke-width="1.4"/>
<path d="M79.8 680.5V801.7H393.5" stroke="#111" stroke-width="1.7" fill="none"/>
<path d="M106.9 801.7v4M143.7 801.7v4M180.5 801.7v4M217.3 801.7v4M254.1 801.7v4M290.9 801.7v4M327.7 801.7v4M364.5 801.7v4" stroke="#111" stroke-width="1.3"/>
<text transform="translate(32.3 740.7) rotate(-90)" font-size="10" text-anchor="middle" fill="#1a1a1a" stroke="#1a1a1a" stroke-width="0.3" textLength="74" lengthAdjust="spacingAndGlyphs">Relative cell size</text>
<rect x="99.3" y="727.2" width="7.6" height="7.2" fill="#a80f36" stroke="#7a0825" stroke-width=".6"/>
<rect x="135.8" y="726.4" width="7.6" height="7.2" fill="#a80f36" stroke="#7a0825" stroke-width=".6"/>
<rect x="182.0" y="723.3" width="7.6" height="7.2" fill="#a80f36" stroke="#7a0825" stroke-width=".6"/>
<rect x="218.5" y="730.6" width="7.6" height="7.2" fill="#a80f36" stroke="#7a0825" stroke-width=".6"/>
<rect x="255.0" y="685.6" width="7.6" height="7.2" fill="#a80f36" stroke="#7a0825" stroke-width=".6"/>
<rect x="291.6" y="680.6" width="7.6" height="7.2" fill="#a80f36" stroke="#7a0825" stroke-width=".6"/>
<rect x="324.3" y="682.6" width="7.6" height="7.2" fill="#a80f36" stroke="#7a0825" stroke-width=".6"/>
<path d="M112.7 721.4L116.5 728.8H108.9Z" fill="#2c4a6c" stroke="#1d3350" stroke-width=".5"/>
<path d="M149.2 725.2L153.0 732.6H145.4Z" fill="#2c4a6c" stroke="#1d3350" stroke-width=".5"/>
<path d="M176.2 726.4L180.0 733.8H172.4Z" fill="#2c4a6c" stroke="#1d3350" stroke-width=".5"/>
<path d="M212.7 732.1L216.5 739.5H208.9Z" fill="#2c4a6c" stroke="#1d3350" stroke-width=".5"/>
<path d="M249.2 689.1L253.0 696.5H245.4Z" fill="#2c4a6c" stroke="#1d3350" stroke-width=".5"/>
<path d="M286.2 689.4L290.0 696.8H282.4Z" fill="#2c4a6c" stroke="#1d3350" stroke-width=".5"/>
<path d="M328.1 698.3L331.9 705.7H324.3Z" fill="#2c4a6c" stroke="#1d3350" stroke-width=".5"/>
<rect x="361.1" y="688" width="7" height="6.8" fill="#a80f36"/>
<path d="M364.6 700.5L368.7 707.6H360.5Z" fill="#2c4a6c"/>
<text x="371.5" y="694.6" font-size="9" fill="#1a1a1a" stroke="#1a1a1a" stroke-width="0.3">Patient 1</text>
<text x="371.5" y="707.9" font-size="9" fill="#1a1a1a" stroke="#1a1a1a" stroke-width="0.3">Patient 2</text>
<text x="33.8" y="819.7" font-size="10" fill="#1a1a1a" stroke="#1a1a1a" stroke-width="0.3">CpG:</text>
<text x="33.8" y="831.2" font-size="10" fill="#1a1a1a" stroke="#1a1a1a" stroke-width="0.3">ATRA:</text>
<text x="33.8" y="842.0" font-size="10" fill="#1a1a1a" stroke="#1a1a1a" stroke-width="0.3">anti-IgM:</text>
<path d="M105.8 817.2h2.8M142.6 817.2h2.8M179.4 817.2h2.8M216.2 817.2h2.8M251.9 817.2h5.0M254.4 814.7v5.0M288.7 817.2h5.0M291.2 814.7v5.0M325.5 817.2h5.0M328.0 814.7v5.0M362.3 817.2h5.0M364.8 814.7v5.0M105.8 829.0h2.8M141.5 829.0h5.0M144.0 826.5v5.0M179.4 829.0h2.8M215.1 829.0h5.0M217.6 826.5v5.0M253.0 829.0h2.8M288.7 829.0h5.0M291.2 826.5v5.0M326.6 829.0h2.8M362.3 829.0h5.0M364.8 826.5v5.0M105.8 840.4h2.8M142.6 840.4h2.8M178.3 840.4h5.0M180.8 837.9v5.0M215.1 840.4h5.0M217.6 837.9v5.0M253.0 840.4h2.8M289.8 840.4h2.8M325.5 840.4h5.0M328.0 837.9v5.0M362.3 840.4h5.0M364.8 837.9v5.0" stroke="#1e1e1e" stroke-width="1.1"/>
<path d="M0 0H520V852H0Z" fill="none" stroke="#000" stroke-width="0"/>
<rect x="0" y="0" width="520" height="1.2" fill="#000"/>
<rect x="0" y="0" width="1.4" height="852" fill="#000"/>
<rect x="518.2" y="0" width="1.8" height="852" fill="#000"/>
<rect x="0" y="850.2" width="520" height="1.8" fill="#000"/>
</svg>
</body></html>
